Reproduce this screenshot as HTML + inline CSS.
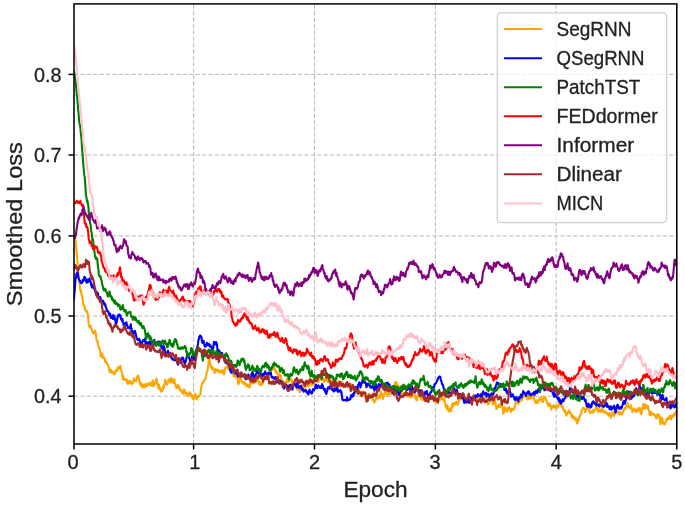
<!DOCTYPE html><html><head><meta charset="utf-8"><style>html,body{margin:0;padding:0;background:#fff;width:685px;height:510px;overflow:hidden}svg{display:block;will-change:transform}text{font-family:"Liberation Sans",sans-serif;fill:#222;stroke:#222;stroke-width:0.3px}</style></head><body>
<svg width="685" height="510" viewBox="0 0 685 510">
<defs><clipPath id="ax"><rect x="74.0" y="3.9" width="602.8" height="440.1"/></clipPath></defs>
<g stroke="#b8b8b8" stroke-width="1" stroke-dasharray="4.2 2.2" fill="none"><line x1="74.0" y1="444.0" x2="74.0" y2="3.9"/><line x1="193.6" y1="444.0" x2="193.6" y2="3.9"/><line x1="314.5" y1="444.0" x2="314.5" y2="3.9"/><line x1="435.4" y1="444.0" x2="435.4" y2="3.9"/><line x1="556.2" y1="444.0" x2="556.2" y2="3.9"/><line x1="676.8" y1="444.0" x2="676.8" y2="3.9"/><line x1="74.0" y1="396.2" x2="676.8" y2="396.2"/><line x1="74.0" y1="316.0" x2="676.8" y2="316.0"/><line x1="74.0" y1="235.9" x2="676.8" y2="235.9"/><line x1="74.0" y1="155.0" x2="676.8" y2="155.0"/><line x1="74.0" y1="74.4" x2="676.8" y2="74.4"/></g>
<g clip-path="url(#ax)" fill="none" stroke-width="2.10" stroke-linejoin="round" stroke-linecap="butt">
<polyline stroke="#FFA500" points="74.0,237.3 74.4,237.6 74.8,237.7 75.2,238.5 75.6,241.1 76.0,245.5 76.4,251.0 76.8,253.1 77.2,259.3 77.6,263.2 78.0,266.5 78.4,272.3 78.8,277.1 79.2,280.2 79.6,284.0 80.0,288.2 80.4,290.6 80.8,289.9 81.2,292.8 81.6,294.9 82.0,295.8 82.4,298.0 82.8,300.1 83.2,304.9 83.6,304.9 84.0,305.9 84.4,305.9 84.8,307.4 85.2,310.0 85.6,310.4 86.0,310.3 86.4,312.0 86.8,311.0 87.2,312.3 87.6,313.3 88.0,316.4 88.4,320.3 88.8,324.7 89.2,326.0 89.6,327.1 90.0,327.2 90.4,325.6 90.8,328.0 91.2,328.0 91.6,328.8 92.0,330.1 92.4,331.9 92.8,332.8 93.2,333.6 93.6,333.6 94.0,333.0 94.4,331.7 94.8,330.6 95.2,331.6 95.6,332.6 96.0,334.8 96.4,338.9 96.8,340.7 97.2,341.1 97.6,341.1 98.0,344.6 98.4,346.5 98.8,346.7 99.2,347.8 99.6,348.6 100.0,351.2 100.4,352.6 100.8,356.6 101.2,356.8 101.6,356.4 102.0,353.4 102.4,354.0 102.8,357.8 103.2,358.0 103.6,357.4 104.0,358.4 104.4,357.7 104.8,359.5 105.2,362.0 105.6,361.2 106.0,362.2 106.4,361.8 106.8,364.0 107.2,363.3 107.6,364.3 108.0,364.9 108.4,365.9 108.8,368.1 109.2,368.8 109.6,371.4 110.0,372.3 110.4,371.2 110.8,370.3 111.2,369.9 111.6,371.5 112.0,372.7 112.4,372.8 112.8,371.9 113.2,373.0 113.6,372.4 114.0,374.4 114.4,373.8 114.8,374.0 115.2,372.5 115.6,370.8 116.0,370.3 116.4,369.8 116.8,371.0 117.2,370.1 117.6,367.8 118.0,367.8 118.4,368.3 118.8,366.9 119.2,368.8 119.6,368.1 120.0,366.4 120.4,365.8 120.8,369.3 121.2,370.1 121.6,372.1 122.0,373.1 122.4,374.6 122.8,379.2 123.2,375.6 123.6,378.3 124.0,380.0 124.4,378.9 124.8,379.9 125.2,380.0 125.6,379.9 126.0,380.1 126.4,379.3 126.8,379.6 127.2,383.1 127.6,381.1 128.0,384.0 128.4,382.3 128.8,381.1 129.2,382.9 129.6,380.9 130.0,381.7 130.4,381.5 130.8,383.5 131.2,383.2 131.6,384.4 132.0,382.3 132.4,383.0 132.8,383.1 133.2,382.2 133.6,380.8 134.0,378.4 134.4,379.9 134.8,380.5 135.2,380.1 135.6,380.9 136.0,381.3 136.4,379.6 136.8,378.9 137.2,376.8 137.6,376.0 138.0,375.5 138.4,376.5 138.8,377.1 139.2,381.3 139.6,381.2 140.0,384.2 140.4,383.6 140.8,384.7 141.2,386.3 141.6,383.3 142.0,384.3 142.4,386.2 142.8,387.6 143.2,385.8 143.6,386.4 144.0,384.6 144.4,385.8 144.8,387.4 145.2,385.8 145.6,385.0 146.0,383.9 146.4,386.0 146.8,385.1 147.2,386.1 147.6,385.5 148.0,384.1 148.4,384.9 148.8,383.1 149.2,384.5 149.6,383.4 150.0,384.2 150.4,385.2 150.8,385.7 151.2,385.6 151.6,382.4 152.0,383.3 152.4,382.0 152.8,380.2 153.2,386.1 153.6,384.4 154.0,385.7 154.4,383.5 154.8,383.0 155.2,383.7 155.6,381.1 156.0,381.2 156.4,378.6 156.8,379.5 157.2,381.9 157.6,384.9 158.0,384.7 158.4,387.9 158.8,384.6 159.2,385.2 159.6,389.1 160.0,387.2 160.4,389.2 160.8,391.7 161.2,389.6 161.6,390.7 162.0,391.0 162.4,391.0 162.8,389.2 163.2,386.4 163.6,388.2 164.0,384.8 164.4,384.6 164.8,384.0 165.2,380.0 165.6,382.1 166.0,383.3 166.4,383.0 166.8,384.9 167.2,384.2 167.6,382.6 168.0,381.6 168.4,380.0 168.8,379.3 169.2,380.1 169.6,379.4 170.0,379.3 170.4,382.4 170.8,379.5 171.2,378.2 171.6,378.5 172.0,379.0 172.4,381.0 172.8,382.7 173.2,380.8 173.6,382.3 174.0,382.9 174.4,379.2 174.8,383.5 175.2,383.9 175.6,384.8 176.0,387.5 176.4,386.9 176.8,386.8 177.2,388.1 177.6,386.3 178.0,385.0 178.4,385.7 178.8,386.5 179.2,386.7 179.6,389.5 180.0,390.4 180.4,390.1 180.8,389.7 181.2,390.1 181.6,391.6 182.0,392.0 182.4,393.2 182.8,393.8 183.2,393.1 183.6,391.5 184.0,389.6 184.4,389.5 184.8,391.7 185.2,392.9 185.6,394.2 186.0,392.6 186.4,393.4 186.8,393.2 187.2,393.3 187.6,394.8 188.0,395.9 188.4,395.3 188.8,393.6 189.2,394.3 189.6,392.3 190.0,394.4 190.4,395.1 190.8,393.5 191.2,395.2 191.6,395.9 192.0,395.0 192.4,398.4 192.8,397.5 193.2,396.6 193.6,399.7 194.0,397.3 194.4,397.0 194.8,396.0 195.2,393.9 195.6,396.2 196.0,397.6 196.4,398.6 196.8,399.5 197.2,397.1 197.6,396.1 198.0,396.7 198.4,396.3 198.8,397.0 199.2,396.1 199.6,395.7 200.0,394.5 200.4,394.6 200.8,389.8 201.2,387.5 201.6,385.7 202.0,384.1 202.4,382.9 202.8,382.2 203.2,382.4 203.6,382.5 204.0,381.0 204.4,380.3 204.8,379.6 205.2,378.9 205.6,377.5 206.0,376.5 206.4,374.5 206.8,372.3 207.2,371.8 207.6,369.7 208.0,366.8 208.4,364.2 208.8,359.0 209.2,357.1 209.6,359.8 210.0,362.5 210.4,364.3 210.8,366.5 211.2,367.7 211.6,366.5 212.0,368.9 212.4,368.4 212.8,368.0 213.2,368.0 213.6,369.8 214.0,370.2 214.4,371.4 214.8,372.9 215.2,371.1 215.6,369.0 216.0,370.2 216.4,370.5 216.8,370.4 217.2,370.7 217.6,369.8 218.0,371.7 218.4,370.1 218.8,370.4 219.2,371.8 219.6,371.4 220.0,372.7 220.4,371.8 220.8,371.3 221.2,370.6 221.6,370.7 222.0,371.9 222.4,372.5 222.8,370.1 223.2,371.7 223.6,373.3 224.0,374.6 224.4,372.9 224.8,369.5 225.2,368.5 225.6,367.5 226.0,367.4 226.4,367.5 226.8,367.5 227.2,365.8 227.6,367.6 228.0,368.5 228.4,369.2 228.8,369.5 229.2,369.0 229.6,368.7 230.0,368.9 230.4,370.6 230.8,371.7 231.2,372.3 231.6,372.5 232.0,371.9 232.4,371.3 232.8,372.5 233.2,373.8 233.6,376.3 234.0,374.8 234.4,375.7 234.8,375.3 235.2,376.1 235.6,377.5 236.0,375.8 236.4,374.9 236.8,375.3 237.2,376.6 237.6,378.5 238.0,383.0 238.4,384.3 238.8,383.0 239.2,381.8 239.6,377.8 240.0,377.6 240.4,377.0 240.8,379.7 241.2,379.7 241.6,381.8 242.0,381.3 242.4,381.6 242.8,382.1 243.2,383.5 243.6,383.8 244.0,382.9 244.4,383.4 244.8,382.4 245.2,382.8 245.6,385.2 246.0,383.7 246.4,384.0 246.8,386.6 247.2,386.2 247.6,384.7 248.0,385.1 248.4,386.3 248.8,386.7 249.2,386.8 249.6,387.6 250.0,383.9 250.4,382.0 250.8,382.1 251.2,380.2 251.6,381.8 252.0,383.5 252.4,381.0 252.8,382.3 253.2,382.7 253.6,382.9 254.0,382.2 254.4,382.5 254.8,381.4 255.2,382.6 255.6,381.4 256.0,380.5 256.4,381.3 256.8,379.6 257.2,380.9 257.6,380.6 258.0,379.0 258.4,381.0 258.8,382.6 259.2,384.1 259.6,384.6 260.0,382.2 260.4,383.2 260.8,385.1 261.2,385.1 261.6,384.5 262.0,384.0 262.4,381.9 262.8,383.8 263.2,380.9 263.6,379.7 264.0,377.6 264.4,375.0 264.8,374.4 265.2,374.2 265.6,376.1 266.0,376.8 266.4,374.3 266.8,374.3 267.2,375.4 267.6,376.8 268.0,378.5 268.4,378.0 268.8,378.4 269.2,377.3 269.6,375.2 270.0,373.7 270.4,371.6 270.8,372.4 271.2,369.7 271.6,370.0 272.0,369.8 272.4,367.4 272.8,367.8 273.2,367.2 273.6,366.4 274.0,368.1 274.4,369.8 274.8,369.0 275.2,370.8 275.6,370.9 276.0,372.7 276.4,371.0 276.8,372.2 277.2,373.0 277.6,374.5 278.0,375.5 278.4,375.6 278.8,376.2 279.2,374.6 279.6,375.4 280.0,374.5 280.4,376.0 280.8,375.4 281.2,378.0 281.6,381.1 282.0,380.1 282.4,380.8 282.8,380.6 283.2,382.1 283.6,382.1 284.0,382.9 284.4,382.5 284.8,382.5 285.2,382.3 285.6,382.5 286.0,383.5 286.4,381.6 286.8,382.2 287.2,379.1 287.6,380.6 288.0,381.7 288.4,382.1 288.8,378.9 289.2,381.2 289.6,380.2 290.0,380.1 290.4,379.9 290.8,380.4 291.2,379.6 291.6,379.2 292.0,381.8 292.4,381.4 292.8,384.7 293.2,385.9 293.6,384.7 294.0,384.3 294.4,384.4 294.8,384.4 295.2,383.9 295.6,385.8 296.0,385.1 296.4,388.7 296.8,388.4 297.2,388.5 297.6,389.8 298.0,388.1 298.4,389.6 298.8,390.1 299.2,387.7 299.6,392.3 300.0,391.5 300.4,390.7 300.8,389.7 301.2,387.8 301.6,384.8 302.0,387.1 302.4,388.3 302.8,387.9 303.2,389.3 303.6,388.2 304.0,388.8 304.4,387.4 304.8,386.5 305.2,385.9 305.6,387.1 306.0,386.3 306.4,385.0 306.8,382.9 307.2,383.4 307.6,384.1 308.0,385.9 308.4,386.6 308.8,384.1 309.2,381.3 309.6,379.4 310.0,378.4 310.4,379.7 310.8,384.1 311.2,382.8 311.6,385.1 312.0,385.5 312.4,383.1 312.8,384.9 313.2,382.9 313.6,381.8 314.0,381.8 314.4,380.8 314.8,379.8 315.2,378.9 315.6,378.2 316.0,378.8 316.4,380.0 316.8,377.6 317.2,380.8 317.6,380.2 318.0,380.5 318.4,382.3 318.8,380.5 319.2,379.2 319.6,376.3 320.0,377.1 320.4,376.9 320.8,378.2 321.2,379.9 321.6,379.9 322.0,377.0 322.4,378.2 322.8,377.8 323.2,378.9 323.6,380.4 324.0,382.0 324.4,380.4 324.8,381.3 325.2,380.0 325.6,377.4 326.0,377.6 326.4,379.1 326.8,380.6 327.2,380.7 327.6,380.7 328.0,381.6 328.4,382.4 328.8,382.0 329.2,380.9 329.6,381.7 330.0,382.1 330.4,381.5 330.8,384.1 331.2,383.9 331.6,382.7 332.0,381.8 332.4,379.2 332.8,380.5 333.2,380.3 333.6,383.2 334.0,385.9 334.4,387.1 334.8,389.1 335.2,387.1 335.6,386.1 336.0,386.8 336.4,384.4 336.8,384.9 337.2,383.4 337.6,383.4 338.0,381.7 338.4,381.2 338.8,381.7 339.2,382.7 339.6,384.5 340.0,384.8 340.4,386.6 340.8,384.1 341.2,385.8 341.6,384.6 342.0,382.2 342.4,384.2 342.8,385.1 343.2,384.9 343.6,384.4 344.0,385.2 344.4,385.4 344.8,384.5 345.2,385.1 345.6,384.6 346.0,384.0 346.4,383.1 346.8,385.8 347.2,385.7 347.6,385.5 348.0,386.9 348.4,385.2 348.8,384.0 349.2,385.9 349.6,385.3 350.0,384.8 350.4,385.0 350.8,384.1 351.2,385.2 351.6,385.7 352.0,388.1 352.4,389.3 352.8,389.6 353.2,388.7 353.6,388.8 354.0,389.3 354.4,389.9 354.8,391.8 355.2,393.1 355.6,391.6 356.0,392.5 356.4,391.2 356.8,391.9 357.2,389.3 357.6,389.7 358.0,388.4 358.4,388.7 358.8,389.4 359.2,390.4 359.6,393.8 360.0,394.3 360.4,395.5 360.8,393.9 361.2,394.0 361.6,391.7 362.0,392.2 362.4,391.9 362.8,391.5 363.2,395.3 363.6,394.6 364.0,394.2 364.4,394.3 364.8,394.3 365.2,397.6 365.6,396.9 366.0,397.6 366.4,401.8 366.8,399.8 367.2,398.1 367.6,397.2 368.0,394.8 368.4,395.2 368.8,393.7 369.2,393.7 369.6,394.2 370.0,394.9 370.4,396.8 370.8,398.1 371.2,396.0 371.6,396.1 372.0,396.8 372.4,397.3 372.8,400.1 373.2,399.9 373.6,400.6 374.0,400.1 374.4,402.5 374.8,400.9 375.2,400.8 375.6,400.2 376.0,398.5 376.4,396.1 376.8,394.2 377.2,396.5 377.6,398.6 378.0,397.8 378.4,395.9 378.8,397.9 379.2,395.8 379.6,396.3 380.0,397.7 380.4,395.0 380.8,391.5 381.2,393.9 381.6,393.3 382.0,393.7 382.4,397.2 382.8,396.7 383.2,398.9 383.6,396.8 384.0,394.1 384.4,394.7 384.8,393.3 385.2,391.3 385.6,393.2 386.0,393.0 386.4,391.1 386.8,393.9 387.2,395.9 387.6,394.6 388.0,394.6 388.4,394.6 388.8,393.6 389.2,394.5 389.6,393.4 390.0,393.2 390.4,393.5 390.8,391.7 391.2,394.3 391.6,392.1 392.0,392.3 392.4,389.6 392.8,388.9 393.2,389.6 393.6,388.7 394.0,387.1 394.4,385.6 394.8,385.1 395.2,382.3 395.6,382.3 396.0,382.7 396.4,382.2 396.8,383.5 397.2,387.6 397.6,388.7 398.0,385.3 398.4,386.2 398.8,386.3 399.2,389.0 399.6,390.8 400.0,393.9 400.4,394.1 400.8,390.8 401.2,392.3 401.6,390.7 402.0,393.4 402.4,394.0 402.8,393.3 403.2,392.7 403.6,392.9 404.0,392.9 404.4,393.4 404.8,394.1 405.2,394.8 405.6,393.8 406.0,393.9 406.4,394.8 406.8,394.8 407.2,395.0 407.6,396.4 408.0,395.2 408.4,395.3 408.8,395.8 409.2,394.1 409.6,397.2 410.0,397.4 410.4,397.4 410.8,395.6 411.2,392.9 411.6,397.1 412.0,394.1 412.4,393.6 412.8,393.8 413.2,391.6 413.6,393.7 414.0,394.8 414.4,393.9 414.8,395.7 415.2,395.6 415.6,398.5 416.0,399.7 416.4,399.5 416.8,400.1 417.2,397.8 417.6,396.0 418.0,395.3 418.4,396.2 418.8,394.9 419.2,395.0 419.6,395.7 420.0,395.2 420.4,397.6 420.8,397.6 421.2,398.1 421.6,399.3 422.0,397.2 422.4,398.4 422.8,400.5 423.2,397.9 423.6,400.3 424.0,399.9 424.4,398.6 424.8,398.4 425.2,397.5 425.6,397.4 426.0,400.8 426.4,399.8 426.8,398.6 427.2,397.9 427.6,399.8 428.0,397.8 428.4,397.2 428.8,399.1 429.2,399.5 429.6,399.7 430.0,399.1 430.4,396.8 430.8,397.0 431.2,395.7 431.6,396.1 432.0,398.8 432.4,397.7 432.8,399.2 433.2,396.1 433.6,397.8 434.0,398.3 434.4,400.0 434.8,401.1 435.2,401.9 435.6,400.2 436.0,401.3 436.4,400.5 436.8,401.7 437.2,403.0 437.6,400.3 438.0,402.9 438.4,399.4 438.8,401.0 439.2,398.6 439.6,400.3 440.0,399.8 440.4,399.0 440.8,399.2 441.2,396.8 441.6,398.0 442.0,397.8 442.4,397.6 442.8,399.2 443.2,398.8 443.6,400.5 444.0,399.1 444.4,398.7 444.8,402.0 445.2,402.8 445.6,405.8 446.0,407.1 446.4,405.2 446.8,408.7 447.2,408.3 447.6,405.5 448.0,409.2 448.4,410.8 448.8,411.3 449.2,411.2 449.6,411.3 450.0,410.1 450.4,408.0 450.8,411.4 451.2,409.2 451.6,408.4 452.0,405.8 452.4,403.6 452.8,406.1 453.2,406.2 453.6,403.4 454.0,403.1 454.4,403.1 454.8,403.9 455.2,404.2 455.6,402.3 456.0,402.7 456.4,402.5 456.8,401.8 457.2,404.2 457.6,404.7 458.0,403.6 458.4,401.6 458.8,400.6 459.2,399.8 459.6,398.6 460.0,397.1 460.4,397.6 460.8,399.3 461.2,398.1 461.6,399.3 462.0,399.3 462.4,398.5 462.8,398.2 463.2,398.9 463.6,399.6 464.0,399.7 464.4,400.3 464.8,400.0 465.2,399.2 465.6,402.2 466.0,400.5 466.4,401.0 466.8,401.5 467.2,400.7 467.6,401.5 468.0,401.8 468.4,402.4 468.8,402.7 469.2,401.9 469.6,402.8 470.0,401.1 470.4,401.5 470.8,402.0 471.2,403.3 471.6,403.7 472.0,402.4 472.4,400.0 472.8,400.8 473.2,399.9 473.6,400.9 474.0,398.3 474.4,399.4 474.8,397.3 475.2,396.9 475.6,398.0 476.0,396.7 476.4,397.8 476.8,398.5 477.2,400.9 477.6,401.0 478.0,399.9 478.4,398.3 478.8,397.0 479.2,398.1 479.6,398.6 480.0,400.1 480.4,398.2 480.8,395.1 481.2,393.2 481.6,392.9 482.0,395.2 482.4,395.1 482.8,398.1 483.2,397.3 483.6,400.2 484.0,400.9 484.4,402.4 484.8,402.7 485.2,399.3 485.6,401.4 486.0,398.9 486.4,400.4 486.8,401.2 487.2,401.9 487.6,401.2 488.0,404.4 488.4,404.4 488.8,402.6 489.2,402.7 489.6,399.5 490.0,400.8 490.4,400.8 490.8,399.7 491.2,401.3 491.6,400.0 492.0,399.1 492.4,399.9 492.8,403.7 493.2,404.6 493.6,403.6 494.0,403.2 494.4,398.0 494.8,400.1 495.2,401.8 495.6,403.9 496.0,406.2 496.4,409.0 496.8,408.6 497.2,407.2 497.6,407.1 498.0,406.2 498.4,405.7 498.8,406.7 499.2,404.2 499.6,404.7 500.0,407.2 500.4,405.4 500.8,406.0 501.2,405.5 501.6,401.6 502.0,405.9 502.4,405.8 502.8,408.9 503.2,413.6 503.6,411.0 504.0,412.0 504.4,411.6 504.8,407.2 505.2,408.9 505.6,409.4 506.0,408.8 506.4,410.5 506.8,408.5 507.2,411.7 507.6,410.6 508.0,408.1 508.4,409.2 508.8,407.9 509.2,407.0 509.6,409.2 510.0,408.8 510.4,410.5 510.8,412.2 511.2,410.1 511.6,408.9 512.0,409.2 512.4,408.9 512.8,410.2 513.2,409.2 513.6,408.9 514.0,409.3 514.4,407.1 514.8,406.3 515.2,406.5 515.6,402.8 516.0,401.9 516.4,402.0 516.8,400.1 517.2,402.1 517.6,402.7 518.0,403.5 518.4,403.7 518.8,402.5 519.2,402.4 519.6,402.2 520.0,398.8 520.4,399.6 520.8,398.6 521.2,398.9 521.6,398.8 522.0,400.4 522.4,398.0 522.8,397.8 523.2,397.4 523.6,394.5 524.0,396.5 524.4,396.4 524.8,395.3 525.2,394.7 525.6,394.5 526.0,394.7 526.4,396.0 526.8,397.0 527.2,398.3 527.6,399.6 528.0,395.8 528.4,397.5 528.8,397.2 529.2,398.6 529.6,396.8 530.0,396.5 530.4,398.8 530.8,397.1 531.2,396.2 531.6,398.0 532.0,397.5 532.4,397.0 532.8,396.6 533.2,397.5 533.6,396.5 534.0,398.3 534.4,400.0 534.8,401.1 535.2,401.8 535.6,402.8 536.0,401.7 536.4,400.3 536.8,402.3 537.2,401.9 537.6,403.2 538.0,400.6 538.4,401.1 538.8,399.5 539.2,400.5 539.6,399.9 540.0,399.1 540.4,397.5 540.8,397.1 541.2,398.6 541.6,398.9 542.0,400.9 542.4,401.6 542.8,400.9 543.2,402.0 543.6,397.6 544.0,398.5 544.4,396.6 544.8,397.4 545.2,398.2 545.6,398.1 546.0,399.1 546.4,401.0 546.8,401.0 547.2,403.5 547.6,403.1 548.0,405.3 548.4,404.3 548.8,406.1 549.2,403.7 549.6,403.6 550.0,405.4 550.4,406.7 550.8,405.7 551.2,409.6 551.6,407.9 552.0,407.8 552.4,406.7 552.8,407.3 553.2,407.2 553.6,405.2 554.0,407.4 554.4,406.1 554.8,406.0 555.2,406.1 555.6,407.1 556.0,408.1 556.4,405.7 556.8,408.0 557.2,407.8 557.6,407.2 558.0,405.6 558.4,406.5 558.8,401.9 559.2,401.7 559.6,400.8 560.0,402.7 560.4,402.1 560.8,405.6 561.2,405.7 561.6,406.6 562.0,407.1 562.4,405.8 562.8,406.8 563.2,408.7 563.6,410.0 564.0,410.9 564.4,409.9 564.8,409.9 565.2,412.9 565.6,412.7 566.0,413.9 566.4,415.8 566.8,413.5 567.2,413.8 567.6,412.6 568.0,411.9 568.4,412.1 568.8,410.9 569.2,410.4 569.6,413.1 570.0,412.3 570.4,412.9 570.8,412.9 571.2,415.1 571.6,417.0 572.0,415.3 572.4,417.7 572.8,416.1 573.2,416.2 573.6,417.7 574.0,416.9 574.4,419.0 574.8,419.7 575.2,419.0 575.6,418.1 576.0,418.9 576.4,420.9 576.8,422.7 577.2,423.4 577.6,422.5 578.0,418.8 578.4,420.1 578.8,420.0 579.2,417.5 579.6,416.9 580.0,415.8 580.4,414.2 580.8,414.1 581.2,413.9 581.6,410.4 582.0,409.8 582.4,409.3 582.8,408.8 583.2,407.5 583.6,408.7 584.0,408.2 584.4,409.0 584.8,409.8 585.2,412.3 585.6,410.4 586.0,410.7 586.4,407.5 586.8,405.3 587.2,405.2 587.6,404.9 588.0,406.6 588.4,408.3 588.8,409.7 589.2,410.3 589.6,411.5 590.0,413.0 590.4,412.9 590.8,411.7 591.2,412.5 591.6,411.5 592.0,412.3 592.4,411.8 592.8,412.7 593.2,410.1 593.6,411.4 594.0,411.6 594.4,410.7 594.8,410.2 595.2,409.6 595.6,408.5 596.0,407.3 596.4,409.5 596.8,407.9 597.2,408.5 597.6,407.6 598.0,410.2 598.4,412.2 598.8,409.6 599.2,409.6 599.6,409.4 600.0,410.8 600.4,411.1 600.8,411.9 601.2,409.8 601.6,411.5 602.0,410.3 602.4,409.1 602.8,411.1 603.2,411.8 603.6,411.1 604.0,412.0 604.4,412.1 604.8,410.9 605.2,411.7 605.6,412.8 606.0,412.5 606.4,413.3 606.8,412.8 607.2,412.9 607.6,414.0 608.0,413.7 608.4,415.5 608.8,415.6 609.2,414.4 609.6,413.2 610.0,414.9 610.4,414.1 610.8,417.6 611.2,416.6 611.6,414.2 612.0,415.1 612.4,412.1 612.8,412.0 613.2,414.3 613.6,415.5 614.0,416.0 614.4,415.2 614.8,413.4 615.2,410.4 615.6,409.6 616.0,411.3 616.4,410.5 616.8,410.7 617.2,411.9 617.6,413.2 618.0,412.3 618.4,413.2 618.8,412.8 619.2,411.9 619.6,414.5 620.0,412.9 620.4,413.4 620.8,412.4 621.2,413.9 621.6,413.7 622.0,414.6 622.4,412.9 622.8,411.8 623.2,411.0 623.6,409.9 624.0,408.8 624.4,410.0 624.8,408.5 625.2,408.5 625.6,407.1 626.0,408.4 626.4,405.4 626.8,404.6 627.2,403.8 627.6,403.1 628.0,404.9 628.4,406.8 628.8,407.1 629.2,407.5 629.6,407.6 630.0,407.9 630.4,407.3 630.8,405.0 631.2,409.0 631.6,407.2 632.0,408.4 632.4,412.3 632.8,410.0 633.2,410.5 633.6,410.2 634.0,409.7 634.4,408.7 634.8,410.8 635.2,410.1 635.6,409.9 636.0,411.2 636.4,411.9 636.8,410.7 637.2,411.3 637.6,410.1 638.0,408.3 638.4,409.6 638.8,410.7 639.2,408.6 639.6,408.5 640.0,407.8 640.4,409.2 640.8,413.1 641.2,414.2 641.6,413.7 642.0,410.5 642.4,409.1 642.8,406.9 643.2,404.1 643.6,404.5 644.0,405.1 644.4,406.5 644.8,408.6 645.2,407.7 645.6,404.3 646.0,405.3 646.4,405.5 646.8,406.2 647.2,406.6 647.6,408.4 648.0,406.1 648.4,408.4 648.8,410.4 649.2,411.1 649.6,415.0 650.0,413.9 650.4,415.0 650.8,415.2 651.2,412.0 651.6,414.4 652.0,413.2 652.4,414.1 652.8,413.8 653.2,414.3 653.6,413.9 654.0,414.4 654.4,415.5 654.8,415.1 655.2,415.3 655.6,415.3 656.0,418.2 656.4,417.3 656.8,418.0 657.2,415.2 657.6,414.2 658.0,416.4 658.4,415.5 658.8,414.7 659.2,415.7 659.6,417.0 660.0,420.9 660.4,424.2 660.8,422.7 661.2,421.5 661.6,417.6 662.0,419.9 662.4,418.5 662.8,422.3 663.2,423.6 663.6,423.4 664.0,424.4 664.4,423.0 664.8,424.3 665.2,422.8 665.6,422.3 666.0,421.5 666.4,419.9 666.8,420.3 667.2,418.3 667.6,418.1 668.0,417.7 668.4,419.0 668.8,419.0 669.2,417.2 669.6,416.0 670.0,416.5 670.4,415.6 670.8,418.0 671.2,419.4 671.6,416.8 672.0,416.8 672.4,415.3 672.8,416.2 673.2,415.6 673.6,416.6 674.0,414.9 674.4,413.5 674.8,415.0 675.2,412.7 675.6,412.6 676.0,413.5 676.4,410.0"/>
<polyline stroke="#0000FF" points="74.0,299.8 74.4,293.0 74.8,289.9 75.2,283.7 75.6,277.6 76.0,278.1 76.4,273.9 76.8,273.9 77.2,272.3 77.6,272.9 78.0,274.9 78.4,277.7 78.8,278.8 79.2,280.2 79.6,280.6 80.0,280.6 80.4,282.6 80.8,282.5 81.2,283.3 81.6,283.2 82.0,281.5 82.4,282.4 82.8,279.7 83.2,280.1 83.6,280.6 84.0,279.4 84.4,276.9 84.8,277.2 85.2,277.5 85.6,279.3 86.0,281.3 86.4,282.0 86.8,282.7 87.2,280.7 87.6,279.5 88.0,282.1 88.4,279.5 88.8,279.8 89.2,279.4 89.6,278.4 90.0,281.6 90.4,280.9 90.8,282.1 91.2,285.5 91.6,283.7 92.0,287.6 92.4,286.7 92.8,285.2 93.2,285.9 93.6,286.7 94.0,287.7 94.4,289.6 94.8,290.0 95.2,290.6 95.6,292.7 96.0,293.1 96.4,294.9 96.8,295.9 97.2,292.3 97.6,294.6 98.0,293.5 98.4,296.8 98.8,297.3 99.2,297.1 99.6,298.7 100.0,298.1 100.4,297.1 100.8,300.0 101.2,299.7 101.6,301.5 102.0,302.0 102.4,301.7 102.8,302.8 103.2,300.9 103.6,303.6 104.0,302.7 104.4,304.1 104.8,305.4 105.2,304.1 105.6,305.6 106.0,307.6 106.4,308.1 106.8,310.6 107.2,311.1 107.6,310.6 108.0,311.4 108.4,311.8 108.8,313.7 109.2,315.1 109.6,314.9 110.0,313.5 110.4,315.7 110.8,318.0 111.2,315.8 111.6,316.2 112.0,317.0 112.4,316.6 112.8,318.9 113.2,315.0 113.6,317.0 114.0,318.5 114.4,315.7 114.8,319.6 115.2,319.1 115.6,322.6 116.0,324.9 116.4,323.7 116.8,321.5 117.2,319.8 117.6,316.3 118.0,315.3 118.4,316.3 118.8,314.6 119.2,315.3 119.6,314.6 120.0,315.7 120.4,315.3 120.8,318.4 121.2,319.4 121.6,319.2 122.0,320.9 122.4,318.8 122.8,321.5 123.2,323.3 123.6,325.1 124.0,326.0 124.4,324.0 124.8,324.7 125.2,323.1 125.6,324.6 126.0,325.0 126.4,322.3 126.8,324.5 127.2,325.0 127.6,327.0 128.0,328.0 128.4,327.4 128.8,327.6 129.2,327.7 129.6,327.5 130.0,328.6 130.4,325.9 130.8,324.3 131.2,328.6 131.6,328.5 132.0,333.2 132.4,335.0 132.8,332.3 133.2,332.8 133.6,331.5 134.0,332.7 134.4,333.3 134.8,330.8 135.2,332.3 135.6,333.1 136.0,335.1 136.4,337.1 136.8,338.7 137.2,339.3 137.6,338.8 138.0,340.1 138.4,339.6 138.8,338.8 139.2,338.9 139.6,340.7 140.0,340.4 140.4,342.8 140.8,346.0 141.2,346.2 141.6,347.0 142.0,342.5 142.4,341.8 142.8,341.4 143.2,340.1 143.6,341.1 144.0,340.8 144.4,340.2 144.8,338.8 145.2,341.8 145.6,343.3 146.0,343.9 146.4,343.2 146.8,342.2 147.2,342.8 147.6,343.7 148.0,343.2 148.4,343.6 148.8,343.1 149.2,341.7 149.6,344.7 150.0,344.9 150.4,344.3 150.8,342.1 151.2,341.4 151.6,341.0 152.0,342.2 152.4,342.8 152.8,345.9 153.2,343.5 153.6,342.5 154.0,341.8 154.4,339.8 154.8,343.3 155.2,344.7 155.6,343.9 156.0,344.7 156.4,344.0 156.8,342.3 157.2,344.4 157.6,341.9 158.0,341.5 158.4,342.0 158.8,341.6 159.2,344.2 159.6,343.3 160.0,341.7 160.4,343.2 160.8,346.7 161.2,344.5 161.6,346.2 162.0,348.3 162.4,348.3 162.8,349.5 163.2,348.4 163.6,346.1 164.0,346.7 164.4,347.7 164.8,349.6 165.2,353.8 165.6,353.9 166.0,353.5 166.4,354.6 166.8,353.2 167.2,353.4 167.6,351.6 168.0,350.7 168.4,353.5 168.8,352.9 169.2,354.1 169.6,355.6 170.0,352.8 170.4,355.6 170.8,355.6 171.2,356.8 171.6,358.6 172.0,358.6 172.4,358.0 172.8,359.6 173.2,359.8 173.6,359.7 174.0,359.4 174.4,360.0 174.8,360.4 175.2,358.7 175.6,357.9 176.0,359.2 176.4,358.5 176.8,360.6 177.2,362.9 177.6,363.2 178.0,364.7 178.4,363.7 178.8,359.4 179.2,361.1 179.6,359.4 180.0,360.3 180.4,361.1 180.8,361.5 181.2,360.3 181.6,358.1 182.0,357.8 182.4,357.4 182.8,358.0 183.2,358.0 183.6,359.8 184.0,361.3 184.4,362.3 184.8,363.9 185.2,362.9 185.6,362.1 186.0,360.1 186.4,358.2 186.8,356.8 187.2,354.5 187.6,357.0 188.0,357.1 188.4,356.1 188.8,356.3 189.2,357.1 189.6,359.7 190.0,359.5 190.4,362.8 190.8,361.4 191.2,359.4 191.6,360.5 192.0,356.1 192.4,359.1 192.8,358.0 193.2,357.1 193.6,358.5 194.0,360.0 194.4,358.5 194.8,358.2 195.2,355.1 195.6,352.1 196.0,350.9 196.4,350.0 196.8,349.5 197.2,346.9 197.6,346.4 198.0,343.9 198.4,339.7 198.8,339.8 199.2,336.9 199.6,336.6 200.0,335.6 200.4,335.6 200.8,337.3 201.2,336.7 201.6,337.9 202.0,341.8 202.4,342.8 202.8,341.6 203.2,342.7 203.6,340.8 204.0,343.7 204.4,345.5 204.8,344.6 205.2,346.7 205.6,346.5 206.0,345.2 206.4,345.7 206.8,342.7 207.2,344.2 207.6,343.7 208.0,344.4 208.4,345.4 208.8,343.8 209.2,345.6 209.6,345.0 210.0,346.7 210.4,345.2 210.8,346.7 211.2,347.7 211.6,348.0 212.0,347.2 212.4,349.9 212.8,348.5 213.2,348.5 213.6,344.5 214.0,341.8 214.4,343.5 214.8,343.3 215.2,344.1 215.6,343.7 216.0,342.0 216.4,344.9 216.8,343.5 217.2,346.6 217.6,350.7 218.0,350.1 218.4,353.4 218.8,350.4 219.2,350.7 219.6,351.2 220.0,353.7 220.4,355.9 220.8,355.7 221.2,355.1 221.6,354.7 222.0,352.7 222.4,355.8 222.8,355.8 223.2,356.7 223.6,357.0 224.0,358.0 224.4,358.2 224.8,358.1 225.2,360.5 225.6,362.7 226.0,363.2 226.4,363.3 226.8,362.8 227.2,361.9 227.6,362.5 228.0,364.1 228.4,363.9 228.8,365.6 229.2,365.9 229.6,365.9 230.0,368.6 230.4,370.5 230.8,372.1 231.2,372.3 231.6,372.8 232.0,370.9 232.4,370.3 232.8,369.4 233.2,369.2 233.6,369.4 234.0,371.0 234.4,371.2 234.8,371.5 235.2,373.7 235.6,371.0 236.0,371.1 236.4,370.4 236.8,370.5 237.2,372.7 237.6,375.8 238.0,376.5 238.4,374.9 238.8,375.6 239.2,375.1 239.6,376.0 240.0,374.1 240.4,375.9 240.8,373.1 241.2,372.4 241.6,375.6 242.0,374.4 242.4,375.8 242.8,375.6 243.2,375.8 243.6,375.7 244.0,375.8 244.4,376.8 244.8,374.5 245.2,375.9 245.6,378.6 246.0,379.4 246.4,378.5 246.8,378.0 247.2,377.6 247.6,377.2 248.0,376.7 248.4,374.5 248.8,377.3 249.2,377.6 249.6,378.6 250.0,379.6 250.4,379.1 250.8,377.5 251.2,376.5 251.6,373.5 252.0,374.8 252.4,371.8 252.8,373.4 253.2,373.9 253.6,377.6 254.0,376.5 254.4,376.6 254.8,376.9 255.2,375.5 255.6,375.4 256.0,373.9 256.4,373.2 256.8,373.3 257.2,370.7 257.6,373.3 258.0,372.1 258.4,371.4 258.8,373.1 259.2,375.1 259.6,375.5 260.0,373.7 260.4,373.9 260.8,373.7 261.2,374.7 261.6,375.2 262.0,376.0 262.4,376.2 262.8,374.1 263.2,375.5 263.6,375.3 264.0,373.8 264.4,372.7 264.8,372.7 265.2,371.4 265.6,373.8 266.0,373.9 266.4,373.5 266.8,374.7 267.2,373.3 267.6,374.6 268.0,374.6 268.4,373.5 268.8,372.7 269.2,374.0 269.6,373.3 270.0,372.8 270.4,372.5 270.8,372.7 271.2,375.2 271.6,376.5 272.0,377.7 272.4,376.7 272.8,376.9 273.2,377.3 273.6,378.4 274.0,377.7 274.4,378.6 274.8,377.6 275.2,377.2 275.6,379.8 276.0,377.4 276.4,379.3 276.8,382.1 277.2,379.4 277.6,382.3 278.0,379.5 278.4,380.0 278.8,383.1 279.2,381.6 279.6,382.3 280.0,380.6 280.4,380.9 280.8,381.9 281.2,381.5 281.6,381.8 282.0,382.0 282.4,382.5 282.8,384.6 283.2,386.0 283.6,387.0 284.0,388.7 284.4,386.3 284.8,385.8 285.2,386.7 285.6,385.5 286.0,385.4 286.4,384.8 286.8,385.9 287.2,385.8 287.6,386.5 288.0,390.4 288.4,389.5 288.8,390.0 289.2,387.9 289.6,385.0 290.0,387.0 290.4,384.7 290.8,386.2 291.2,387.8 291.6,386.8 292.0,387.3 292.4,389.8 292.8,388.2 293.2,385.5 293.6,385.2 294.0,384.4 294.4,384.4 294.8,383.7 295.2,384.3 295.6,385.4 296.0,386.5 296.4,384.4 296.8,387.4 297.2,382.8 297.6,385.2 298.0,385.0 298.4,385.5 298.8,387.6 299.2,386.8 299.6,386.5 300.0,387.8 300.4,387.3 300.8,388.4 301.2,385.9 301.6,388.1 302.0,388.1 302.4,390.2 302.8,389.0 303.2,390.3 303.6,391.7 304.0,390.4 304.4,390.8 304.8,390.3 305.2,390.4 305.6,391.1 306.0,390.0 306.4,392.2 306.8,391.6 307.2,392.8 307.6,392.3 308.0,393.6 308.4,394.5 308.8,391.3 309.2,391.0 309.6,389.6 310.0,392.2 310.4,392.3 310.8,392.5 311.2,393.3 311.6,391.6 312.0,393.4 312.4,391.5 312.8,390.4 313.2,389.0 313.6,390.0 314.0,390.3 314.4,389.1 314.8,389.1 315.2,387.6 315.6,385.4 316.0,384.5 316.4,386.1 316.8,386.5 317.2,388.3 317.6,387.5 318.0,386.3 318.4,385.4 318.8,386.2 319.2,386.7 319.6,386.5 320.0,388.0 320.4,387.5 320.8,386.7 321.2,387.5 321.6,387.9 322.0,384.0 322.4,385.3 322.8,385.6 323.2,388.3 323.6,388.7 324.0,389.6 324.4,389.4 324.8,388.6 325.2,392.0 325.6,391.5 326.0,393.2 326.4,393.8 326.8,391.6 327.2,391.5 327.6,388.1 328.0,387.3 328.4,387.4 328.8,387.5 329.2,387.2 329.6,388.7 330.0,388.8 330.4,386.1 330.8,384.6 331.2,386.0 331.6,386.8 332.0,389.9 332.4,389.9 332.8,390.1 333.2,390.8 333.6,389.1 334.0,391.5 334.4,388.4 334.8,388.7 335.2,389.0 335.6,390.4 336.0,389.1 336.4,390.4 336.8,389.9 337.2,386.9 337.6,389.2 338.0,391.9 338.4,391.2 338.8,390.9 339.2,391.2 339.6,390.7 340.0,391.4 340.4,390.1 340.8,392.4 341.2,391.5 341.6,393.2 342.0,396.4 342.4,399.6 342.8,400.1 343.2,400.3 343.6,399.8 344.0,400.2 344.4,400.1 344.8,399.8 345.2,399.8 345.6,399.8 346.0,400.6 346.4,400.6 346.8,400.2 347.2,397.2 347.6,399.5 348.0,400.4 348.4,400.1 348.8,399.6 349.2,399.7 349.6,399.8 350.0,399.1 350.4,399.0 350.8,396.8 351.2,395.1 351.6,395.7 352.0,395.9 352.4,396.9 352.8,394.2 353.2,394.9 353.6,395.8 354.0,392.5 354.4,393.4 354.8,391.2 355.2,386.8 355.6,386.9 356.0,387.2 356.4,387.7 356.8,389.7 357.2,389.4 357.6,388.8 358.0,385.1 358.4,384.7 358.8,384.0 359.2,382.3 359.6,382.8 360.0,384.0 360.4,387.5 360.8,385.1 361.2,385.2 361.6,382.8 362.0,383.0 362.4,380.7 362.8,378.9 363.2,381.0 363.6,379.7 364.0,382.3 364.4,382.8 364.8,382.0 365.2,382.0 365.6,382.9 366.0,383.5 366.4,387.2 366.8,385.5 367.2,386.0 367.6,384.3 368.0,383.7 368.4,384.0 368.8,385.1 369.2,385.1 369.6,385.4 370.0,385.5 370.4,387.5 370.8,386.0 371.2,387.1 371.6,387.4 372.0,387.7 372.4,387.7 372.8,386.4 373.2,387.5 373.6,386.9 374.0,389.1 374.4,390.8 374.8,389.1 375.2,385.8 375.6,384.6 376.0,384.2 376.4,388.2 376.8,389.6 377.2,389.6 377.6,389.3 378.0,386.5 378.4,385.3 378.8,384.0 379.2,387.0 379.6,386.6 380.0,385.8 380.4,385.5 380.8,385.4 381.2,384.1 381.6,383.9 382.0,386.4 382.4,383.2 382.8,385.4 383.2,386.0 383.6,389.5 384.0,389.0 384.4,387.6 384.8,390.0 385.2,386.6 385.6,383.3 386.0,383.1 386.4,383.5 386.8,383.3 387.2,383.6 387.6,382.5 388.0,383.6 388.4,384.3 388.8,384.6 389.2,384.3 389.6,384.8 390.0,388.4 390.4,387.9 390.8,389.5 391.2,388.3 391.6,388.0 392.0,390.6 392.4,392.4 392.8,393.3 393.2,392.7 393.6,389.8 394.0,389.1 394.4,387.8 394.8,388.2 395.2,388.9 395.6,390.4 396.0,392.8 396.4,391.1 396.8,392.8 397.2,391.1 397.6,390.1 398.0,391.9 398.4,391.3 398.8,395.2 399.2,394.0 399.6,393.9 400.0,392.0 400.4,389.2 400.8,389.0 401.2,388.4 401.6,387.1 402.0,387.8 402.4,388.9 402.8,388.7 403.2,389.2 403.6,387.7 404.0,385.6 404.4,387.8 404.8,387.5 405.2,388.4 405.6,389.4 406.0,388.9 406.4,389.0 406.8,388.4 407.2,390.1 407.6,389.0 408.0,388.4 408.4,386.0 408.8,387.9 409.2,387.9 409.6,389.6 410.0,389.6 410.4,390.9 410.8,387.8 411.2,389.6 411.6,386.0 412.0,386.0 412.4,389.4 412.8,390.7 413.2,389.4 413.6,391.4 414.0,388.6 414.4,390.8 414.8,392.5 415.2,391.2 415.6,391.4 416.0,389.5 416.4,388.9 416.8,385.6 417.2,385.3 417.6,389.3 418.0,390.8 418.4,390.3 418.8,393.1 419.2,390.2 419.6,390.1 420.0,391.0 420.4,392.0 420.8,390.6 421.2,392.6 421.6,391.7 422.0,390.4 422.4,391.9 422.8,393.8 423.2,394.3 423.6,396.8 424.0,397.6 424.4,394.5 424.8,394.1 425.2,391.8 425.6,393.9 426.0,394.0 426.4,392.2 426.8,391.1 427.2,393.0 427.6,394.9 428.0,394.3 428.4,397.6 428.8,396.1 429.2,395.4 429.6,395.3 430.0,394.1 430.4,392.4 430.8,392.0 431.2,392.2 431.6,391.3 432.0,390.1 432.4,387.0 432.8,389.0 433.2,387.5 433.6,387.5 434.0,387.7 434.4,384.4 434.8,384.6 435.2,384.2 435.6,383.7 436.0,383.2 436.4,381.9 436.8,381.2 437.2,380.3 437.6,380.1 438.0,378.1 438.4,378.0 438.8,377.5 439.2,376.5 439.6,376.6 440.0,376.7 440.4,377.0 440.8,379.7 441.2,381.0 441.6,381.8 442.0,384.1 442.4,384.6 442.8,384.5 443.2,386.0 443.6,388.0 444.0,389.4 444.4,389.0 444.8,389.4 445.2,390.5 445.6,390.9 446.0,391.8 446.4,393.4 446.8,392.7 447.2,392.0 447.6,393.2 448.0,392.4 448.4,391.1 448.8,392.2 449.2,393.3 449.6,392.3 450.0,392.7 450.4,392.9 450.8,393.0 451.2,392.6 451.6,394.1 452.0,392.9 452.4,391.8 452.8,391.0 453.2,389.9 453.6,390.4 454.0,389.1 454.4,388.4 454.8,390.0 455.2,392.4 455.6,391.2 456.0,392.3 456.4,393.2 456.8,389.9 457.2,391.3 457.6,393.4 458.0,393.7 458.4,395.2 458.8,394.1 459.2,394.5 459.6,395.4 460.0,394.0 460.4,394.1 460.8,394.7 461.2,395.4 461.6,396.1 462.0,397.9 462.4,396.9 462.8,396.7 463.2,398.7 463.6,399.1 464.0,402.2 464.4,402.8 464.8,400.5 465.2,400.0 465.6,400.8 466.0,400.4 466.4,402.0 466.8,402.5 467.2,402.6 467.6,400.9 468.0,401.3 468.4,399.9 468.8,402.0 469.2,400.1 469.6,402.9 470.0,400.4 470.4,397.3 470.8,400.4 471.2,400.3 471.6,400.0 472.0,400.9 472.4,397.6 472.8,398.0 473.2,398.8 473.6,397.8 474.0,397.9 474.4,396.8 474.8,398.6 475.2,396.0 475.6,395.3 476.0,396.8 476.4,396.2 476.8,396.9 477.2,395.3 477.6,394.8 478.0,394.1 478.4,395.7 478.8,395.6 479.2,396.0 479.6,396.1 480.0,396.0 480.4,394.6 480.8,394.5 481.2,395.6 481.6,397.3 482.0,395.2 482.4,394.0 482.8,393.4 483.2,391.4 483.6,393.7 484.0,393.1 484.4,394.5 484.8,394.1 485.2,393.9 485.6,393.6 486.0,392.6 486.4,396.9 486.8,396.0 487.2,394.7 487.6,395.6 488.0,393.8 488.4,395.3 488.8,396.0 489.2,394.7 489.6,399.4 490.0,400.0 490.4,398.7 490.8,397.0 491.2,394.4 491.6,393.4 492.0,393.7 492.4,395.1 492.8,394.8 493.2,393.8 493.6,393.8 494.0,390.4 494.4,388.1 494.8,387.7 495.2,388.7 495.6,387.6 496.0,385.5 496.4,384.7 496.8,382.6 497.2,383.9 497.6,384.0 498.0,382.7 498.4,383.5 498.8,385.0 499.2,386.3 499.6,384.5 500.0,385.8 500.4,384.1 500.8,384.4 501.2,386.0 501.6,384.4 502.0,384.7 502.4,385.1 502.8,384.9 503.2,383.8 503.6,387.2 504.0,386.7 504.4,390.0 504.8,390.0 505.2,390.2 505.6,388.9 506.0,388.7 506.4,391.8 506.8,391.4 507.2,393.6 507.6,391.9 508.0,392.7 508.4,390.8 508.8,390.5 509.2,390.5 509.6,388.5 510.0,391.9 510.4,392.8 510.8,395.4 511.2,396.8 511.6,395.8 512.0,395.5 512.4,395.5 512.8,394.3 513.2,396.4 513.6,397.1 514.0,396.8 514.4,399.3 514.8,399.2 515.2,400.2 515.6,397.4 516.0,399.2 516.4,398.0 516.8,397.4 517.2,399.3 517.6,399.8 518.0,399.8 518.4,401.4 518.8,399.0 519.2,397.3 519.6,398.4 520.0,396.8 520.4,397.6 520.8,394.6 521.2,394.8 521.6,397.5 522.0,395.3 522.4,394.9 522.8,393.1 523.2,391.0 523.6,391.8 524.0,392.7 524.4,393.1 524.8,393.4 525.2,393.4 525.6,393.5 526.0,396.1 526.4,394.2 526.8,393.1 527.2,393.3 527.6,392.0 528.0,391.6 528.4,393.3 528.8,391.3 529.2,392.4 529.6,394.8 530.0,393.6 530.4,394.6 530.8,395.3 531.2,394.5 531.6,394.6 532.0,394.6 532.4,393.4 532.8,393.3 533.2,393.0 533.6,393.0 534.0,392.2 534.4,395.0 534.8,394.0 535.2,391.8 535.6,391.4 536.0,390.8 536.4,391.7 536.8,392.9 537.2,393.2 537.6,390.2 538.0,390.3 538.4,389.1 538.8,390.5 539.2,390.2 539.6,392.0 540.0,391.8 540.4,389.1 540.8,388.0 541.2,385.6 541.6,387.6 542.0,385.1 542.4,388.1 542.8,387.1 543.2,387.7 543.6,388.4 544.0,388.3 544.4,390.2 544.8,389.0 545.2,390.1 545.6,387.7 546.0,386.7 546.4,384.8 546.8,385.1 547.2,385.3 547.6,384.4 548.0,385.6 548.4,385.1 548.8,386.1 549.2,389.0 549.6,388.5 550.0,388.4 550.4,391.0 550.8,390.2 551.2,390.6 551.6,390.5 552.0,389.3 552.4,392.0 552.8,393.6 553.2,392.3 553.6,395.7 554.0,396.6 554.4,396.8 554.8,393.4 555.2,395.3 555.6,394.7 556.0,394.9 556.4,396.1 556.8,397.2 557.2,397.2 557.6,398.2 558.0,399.7 558.4,397.5 558.8,397.8 559.2,401.3 559.6,399.0 560.0,400.3 560.4,403.1 560.8,402.1 561.2,403.8 561.6,401.3 562.0,400.3 562.4,399.8 562.8,399.2 563.2,401.1 563.6,401.1 564.0,398.9 564.4,398.8 564.8,398.2 565.2,398.0 565.6,394.9 566.0,396.6 566.4,396.3 566.8,396.0 567.2,395.6 567.6,391.5 568.0,391.8 568.4,393.7 568.8,392.1 569.2,393.2 569.6,390.7 570.0,387.1 570.4,390.0 570.8,390.8 571.2,392.2 571.6,391.4 572.0,390.3 572.4,390.6 572.8,391.5 573.2,391.9 573.6,394.4 574.0,391.5 574.4,393.1 574.8,391.2 575.2,391.9 575.6,391.3 576.0,392.4 576.4,394.0 576.8,395.4 577.2,399.2 577.6,396.7 578.0,395.1 578.4,395.3 578.8,396.7 579.2,396.6 579.6,399.4 580.0,397.9 580.4,397.0 580.8,396.6 581.2,398.3 581.6,398.4 582.0,399.1 582.4,398.1 582.8,396.8 583.2,396.6 583.6,397.3 584.0,398.1 584.4,399.6 584.8,400.1 585.2,401.3 585.6,399.7 586.0,402.5 586.4,404.2 586.8,406.0 587.2,405.9 587.6,406.4 588.0,406.9 588.4,403.6 588.8,405.9 589.2,405.3 589.6,404.9 590.0,406.2 590.4,407.7 590.8,405.2 591.2,407.0 591.6,406.0 592.0,403.0 592.4,402.3 592.8,403.1 593.2,401.3 593.6,402.4 594.0,403.1 594.4,402.4 594.8,402.9 595.2,404.3 595.6,403.9 596.0,403.3 596.4,405.7 596.8,405.4 597.2,404.7 597.6,405.1 598.0,404.6 598.4,404.4 598.8,405.2 599.2,406.4 599.6,406.6 600.0,404.7 600.4,404.5 600.8,403.8 601.2,404.3 601.6,403.9 602.0,404.8 602.4,406.1 602.8,406.4 603.2,407.1 603.6,406.2 604.0,405.4 604.4,405.9 604.8,406.2 605.2,403.9 605.6,402.6 606.0,403.2 606.4,404.8 606.8,403.2 607.2,406.9 607.6,405.7 608.0,405.6 608.4,405.9 608.8,406.7 609.2,407.7 609.6,409.1 610.0,407.3 610.4,409.1 610.8,406.2 611.2,409.7 611.6,408.6 612.0,407.4 612.4,409.0 612.8,407.4 613.2,407.8 613.6,406.7 614.0,405.7 614.4,407.4 614.8,409.0 615.2,411.4 615.6,412.7 616.0,409.9 616.4,408.1 616.8,405.8 617.2,405.4 617.6,404.6 618.0,405.5 618.4,408.0 618.8,406.9 619.2,408.9 619.6,407.2 620.0,407.7 620.4,407.4 620.8,408.4 621.2,408.7 621.6,406.8 622.0,407.1 622.4,405.1 622.8,404.6 623.2,402.1 623.6,401.4 624.0,400.9 624.4,401.8 624.8,403.7 625.2,402.1 625.6,401.0 626.0,399.9 626.4,397.1 626.8,398.1 627.2,396.7 627.6,394.5 628.0,396.0 628.4,391.6 628.8,393.1 629.2,392.5 629.6,394.5 630.0,397.5 630.4,395.8 630.8,398.9 631.2,397.1 631.6,398.4 632.0,397.0 632.4,394.6 632.8,394.6 633.2,396.7 633.6,396.1 634.0,395.0 634.4,395.6 634.8,391.1 635.2,389.7 635.6,390.0 636.0,388.2 636.4,393.1 636.8,392.4 637.2,390.4 637.6,395.1 638.0,393.2 638.4,392.1 638.8,391.2 639.2,389.6 639.6,385.7 640.0,386.9 640.4,388.4 640.8,388.0 641.2,391.3 641.6,389.7 642.0,388.8 642.4,389.9 642.8,388.4 643.2,390.8 643.6,394.2 644.0,393.4 644.4,394.2 644.8,396.0 645.2,394.7 645.6,395.2 646.0,393.9 646.4,391.4 646.8,394.6 647.2,392.9 647.6,393.4 648.0,392.5 648.4,392.5 648.8,394.4 649.2,392.5 649.6,392.5 650.0,391.6 650.4,388.8 650.8,389.3 651.2,390.5 651.6,392.5 652.0,393.6 652.4,392.0 652.8,393.4 653.2,390.6 653.6,391.9 654.0,392.5 654.4,392.0 654.8,393.0 655.2,392.5 655.6,392.0 656.0,392.1 656.4,393.2 656.8,392.6 657.2,394.8 657.6,394.4 658.0,392.2 658.4,392.4 658.8,391.5 659.2,394.1 659.6,395.0 660.0,394.6 660.4,397.3 660.8,400.5 661.2,399.6 661.6,397.2 662.0,395.6 662.4,394.8 662.8,395.7 663.2,399.3 663.6,398.7 664.0,399.7 664.4,399.6 664.8,400.2 665.2,400.3 665.6,399.8 666.0,398.8 666.4,398.0 666.8,400.2 667.2,401.8 667.6,402.3 668.0,404.0 668.4,404.6 668.8,404.8 669.2,406.7 669.6,407.1 670.0,404.6 670.4,408.5 670.8,406.1 671.2,407.5 671.6,407.4 672.0,405.4 672.4,402.6 672.8,401.9 673.2,402.9 673.6,405.2 674.0,406.3 674.4,407.4 674.8,407.2 675.2,406.6 675.6,405.0 676.0,405.1 676.4,402.7"/>
<polyline stroke="#008000" points="74.0,70.8 74.4,73.6 74.8,76.4 75.2,79.0 75.6,82.2 76.0,85.5 76.4,90.1 76.8,95.6 77.2,97.4 77.6,102.1 78.0,107.4 78.4,111.7 78.8,116.4 79.2,121.3 79.6,124.1 80.0,125.0 80.4,127.6 80.8,133.2 81.2,136.0 81.6,140.3 82.0,147.8 82.4,152.7 82.8,157.4 83.2,163.3 83.6,167.5 84.0,172.2 84.4,175.9 84.8,177.8 85.2,183.9 85.6,189.3 86.0,195.5 86.4,197.1 86.8,199.4 87.2,202.2 87.6,200.9 88.0,204.6 88.4,206.5 88.8,212.5 89.2,217.4 89.6,219.7 90.0,223.1 90.4,224.4 90.8,226.4 91.2,231.5 91.6,231.9 92.0,236.2 92.4,240.2 92.8,238.9 93.2,241.2 93.6,245.3 94.0,247.7 94.4,251.2 94.8,254.4 95.2,256.7 95.6,256.5 96.0,259.0 96.4,258.3 96.8,259.3 97.2,258.5 97.6,262.8 98.0,267.3 98.4,269.0 98.8,274.6 99.2,275.6 99.6,275.7 100.0,276.9 100.4,276.1 100.8,277.6 101.2,279.9 101.6,280.4 102.0,283.4 102.4,284.8 102.8,286.3 103.2,288.4 103.6,290.0 104.0,290.4 104.4,289.5 104.8,288.6 105.2,289.9 105.6,289.4 106.0,291.4 106.4,291.9 106.8,292.2 107.2,293.9 107.6,296.0 108.0,295.1 108.4,296.5 108.8,293.6 109.2,293.2 109.6,291.5 110.0,294.1 110.4,296.1 110.8,295.7 111.2,297.6 111.6,296.6 112.0,299.6 112.4,298.0 112.8,298.9 113.2,300.7 113.6,300.2 114.0,302.3 114.4,302.8 114.8,300.4 115.2,302.4 115.6,304.1 116.0,303.4 116.4,302.6 116.8,304.3 117.2,303.7 117.6,304.9 118.0,306.3 118.4,304.8 118.8,304.4 119.2,305.9 119.6,305.1 120.0,306.8 120.4,309.6 120.8,307.2 121.2,309.1 121.6,307.3 122.0,308.4 122.4,309.2 122.8,305.0 123.2,307.7 123.6,308.9 124.0,309.9 124.4,311.5 124.8,310.1 125.2,310.5 125.6,310.0 126.0,311.5 126.4,313.5 126.8,315.6 127.2,314.2 127.6,313.8 128.0,312.5 128.4,312.7 128.8,312.4 129.2,312.2 129.6,311.9 130.0,312.0 130.4,311.9 130.8,314.7 131.2,316.6 131.6,316.8 132.0,316.8 132.4,316.6 132.8,319.6 133.2,318.1 133.6,316.7 134.0,319.8 134.4,319.2 134.8,318.7 135.2,318.0 135.6,317.3 136.0,320.4 136.4,319.7 136.8,320.5 137.2,320.9 137.6,322.6 138.0,322.0 138.4,322.0 138.8,320.8 139.2,323.2 139.6,324.5 140.0,323.7 140.4,324.9 140.8,322.9 141.2,323.6 141.6,325.9 142.0,326.4 142.4,328.2 142.8,327.7 143.2,326.4 143.6,326.2 144.0,328.1 144.4,328.4 144.8,330.4 145.2,332.2 145.6,335.0 146.0,339.5 146.4,337.0 146.8,337.2 147.2,333.7 147.6,334.6 148.0,333.2 148.4,334.1 148.8,336.9 149.2,337.6 149.6,339.4 150.0,336.0 150.4,337.4 150.8,337.6 151.2,339.1 151.6,340.0 152.0,342.7 152.4,342.5 152.8,342.7 153.2,343.9 153.6,341.3 154.0,340.7 154.4,341.6 154.8,342.4 155.2,343.2 155.6,344.7 156.0,345.2 156.4,346.1 156.8,344.6 157.2,342.6 157.6,342.5 158.0,342.9 158.4,342.4 158.8,344.8 159.2,345.6 159.6,343.3 160.0,344.5 160.4,342.8 160.8,343.9 161.2,342.8 161.6,341.9 162.0,342.5 162.4,340.6 162.8,342.2 163.2,342.1 163.6,343.9 164.0,341.9 164.4,340.8 164.8,341.8 165.2,340.8 165.6,344.2 166.0,344.2 166.4,344.1 166.8,343.6 167.2,347.3 167.6,347.1 168.0,345.6 168.4,345.1 168.8,342.3 169.2,341.3 169.6,339.7 170.0,341.4 170.4,343.6 170.8,343.7 171.2,345.6 171.6,344.1 172.0,343.6 172.4,346.2 172.8,346.8 173.2,344.3 173.6,345.3 174.0,342.2 174.4,340.4 174.8,339.9 175.2,339.0 175.6,339.6 176.0,341.5 176.4,340.3 176.8,344.1 177.2,343.9 177.6,345.5 178.0,348.7 178.4,347.3 178.8,347.8 179.2,348.4 179.6,348.2 180.0,348.9 180.4,349.1 180.8,348.8 181.2,347.3 181.6,347.8 182.0,348.0 182.4,347.4 182.8,348.6 183.2,348.5 183.6,348.2 184.0,348.0 184.4,346.9 184.8,346.0 185.2,346.8 185.6,346.7 186.0,349.7 186.4,352.0 186.8,351.6 187.2,353.8 187.6,356.9 188.0,355.1 188.4,356.5 188.8,354.5 189.2,353.3 189.6,354.2 190.0,353.7 190.4,353.9 190.8,351.9 191.2,348.1 191.6,348.4 192.0,349.2 192.4,349.1 192.8,351.2 193.2,356.3 193.6,353.6 194.0,355.0 194.4,354.5 194.8,353.7 195.2,353.0 195.6,352.0 196.0,351.1 196.4,349.7 196.8,348.5 197.2,351.2 197.6,351.1 198.0,350.6 198.4,350.8 198.8,350.4 199.2,350.6 199.6,348.7 200.0,351.4 200.4,349.2 200.8,350.0 201.2,351.6 201.6,352.1 202.0,356.1 202.4,357.5 202.8,360.6 203.2,356.6 203.6,355.0 204.0,353.8 204.4,352.8 204.8,352.6 205.2,356.3 205.6,355.9 206.0,353.7 206.4,352.3 206.8,354.1 207.2,351.7 207.6,351.1 208.0,351.9 208.4,350.2 208.8,349.7 209.2,352.1 209.6,353.0 210.0,350.7 210.4,350.0 210.8,353.7 211.2,355.2 211.6,354.4 212.0,356.0 212.4,350.9 212.8,350.1 213.2,352.2 213.6,350.5 214.0,354.0 214.4,353.0 214.8,354.1 215.2,354.8 215.6,354.9 216.0,353.4 216.4,351.5 216.8,350.5 217.2,351.4 217.6,352.3 218.0,355.6 218.4,355.0 218.8,354.2 219.2,354.1 219.6,353.3 220.0,355.5 220.4,354.5 220.8,356.2 221.2,355.5 221.6,356.0 222.0,356.4 222.4,355.7 222.8,356.5 223.2,356.0 223.6,355.8 224.0,355.5 224.4,356.6 224.8,357.3 225.2,354.5 225.6,354.9 226.0,353.3 226.4,353.5 226.8,356.2 227.2,354.7 227.6,355.3 228.0,357.1 228.4,358.0 228.8,359.2 229.2,360.7 229.6,361.4 230.0,361.3 230.4,360.5 230.8,360.9 231.2,361.0 231.6,361.9 232.0,367.9 232.4,368.5 232.8,370.4 233.2,367.5 233.6,365.1 234.0,366.5 234.4,365.9 234.8,365.1 235.2,366.8 235.6,364.7 236.0,366.8 236.4,365.9 236.8,365.9 237.2,364.2 237.6,360.5 238.0,360.6 238.4,361.1 238.8,362.5 239.2,363.3 239.6,365.2 240.0,362.5 240.4,361.6 240.8,361.8 241.2,359.4 241.6,360.5 242.0,359.0 242.4,358.5 242.8,359.5 243.2,358.8 243.6,358.7 244.0,361.9 244.4,360.8 244.8,364.1 245.2,366.4 245.6,368.4 246.0,369.9 246.4,366.6 246.8,366.6 247.2,367.8 247.6,365.8 248.0,364.3 248.4,364.6 248.8,365.7 249.2,365.7 249.6,370.1 250.0,369.7 250.4,370.0 250.8,369.5 251.2,368.6 251.6,368.6 252.0,366.4 252.4,365.6 252.8,367.5 253.2,369.3 253.6,370.6 254.0,368.2 254.4,368.7 254.8,369.5 255.2,369.1 255.6,371.1 256.0,369.0 256.4,369.0 256.8,367.6 257.2,365.9 257.6,366.4 258.0,368.7 258.4,369.2 258.8,371.1 259.2,368.9 259.6,369.1 260.0,369.6 260.4,370.7 260.8,372.3 261.2,370.5 261.6,368.6 262.0,367.0 262.4,366.8 262.8,366.1 263.2,366.5 263.6,365.7 264.0,367.4 264.4,366.6 264.8,365.9 265.2,363.5 265.6,362.9 266.0,362.7 266.4,366.1 266.8,365.7 267.2,367.6 267.6,364.6 268.0,366.4 268.4,366.7 268.8,366.1 269.2,369.0 269.6,370.0 270.0,368.0 270.4,370.4 270.8,369.8 271.2,367.7 271.6,369.1 272.0,366.9 272.4,367.3 272.8,366.7 273.2,364.2 273.6,363.7 274.0,365.5 274.4,362.6 274.8,364.0 275.2,364.2 275.6,365.0 276.0,364.1 276.4,364.9 276.8,365.9 277.2,366.6 277.6,366.3 278.0,366.4 278.4,365.8 278.8,366.8 279.2,366.7 279.6,369.8 280.0,371.8 280.4,370.0 280.8,369.2 281.2,368.3 281.6,367.9 282.0,368.4 282.4,370.5 282.8,373.0 283.2,370.7 283.6,369.8 284.0,371.1 284.4,372.9 284.8,375.0 285.2,375.4 285.6,375.2 286.0,375.0 286.4,375.2 286.8,375.7 287.2,374.1 287.6,374.3 288.0,374.4 288.4,376.9 288.8,379.7 289.2,378.4 289.6,377.5 290.0,374.8 290.4,373.9 290.8,374.6 291.2,375.1 291.6,374.3 292.0,375.6 292.4,374.5 292.8,372.3 293.2,371.1 293.6,368.1 294.0,367.3 294.4,368.3 294.8,370.3 295.2,371.6 295.6,371.3 296.0,372.6 296.4,371.1 296.8,369.6 297.2,370.5 297.6,372.5 298.0,373.3 298.4,374.5 298.8,371.7 299.2,372.1 299.6,372.6 300.0,370.6 300.4,369.3 300.8,370.8 301.2,369.4 301.6,369.7 302.0,368.2 302.4,366.5 302.8,367.3 303.2,370.3 303.6,367.8 304.0,365.8 304.4,363.8 304.8,362.3 305.2,364.9 305.6,365.3 306.0,366.2 306.4,365.8 306.8,366.9 307.2,368.7 307.6,366.7 308.0,365.7 308.4,366.6 308.8,367.7 309.2,373.6 309.6,374.0 310.0,373.8 310.4,376.3 310.8,372.6 311.2,373.5 311.6,370.5 312.0,372.9 312.4,376.6 312.8,375.1 313.2,376.1 313.6,376.9 314.0,375.1 314.4,376.7 314.8,378.8 315.2,376.1 315.6,377.2 316.0,377.2 316.4,376.7 316.8,377.9 317.2,376.1 317.6,375.3 318.0,375.1 318.4,375.2 318.8,375.0 319.2,375.3 319.6,376.0 320.0,376.6 320.4,377.0 320.8,376.2 321.2,377.1 321.6,378.9 322.0,377.0 322.4,374.6 322.8,373.4 323.2,373.6 323.6,374.2 324.0,374.6 324.4,375.2 324.8,374.4 325.2,373.8 325.6,374.1 326.0,374.4 326.4,375.1 326.8,374.7 327.2,373.4 327.6,376.8 328.0,376.8 328.4,377.5 328.8,376.1 329.2,374.8 329.6,375.1 330.0,377.4 330.4,375.8 330.8,377.6 331.2,375.8 331.6,375.6 332.0,376.1 332.4,376.5 332.8,377.5 333.2,377.0 333.6,378.7 334.0,379.4 334.4,379.6 334.8,380.0 335.2,382.0 335.6,380.3 336.0,378.0 336.4,378.8 336.8,374.9 337.2,375.4 337.6,374.5 338.0,375.6 338.4,374.9 338.8,375.9 339.2,374.9 339.6,376.1 340.0,377.0 340.4,376.4 340.8,373.6 341.2,373.9 341.6,374.1 342.0,373.6 342.4,375.8 342.8,378.9 343.2,378.2 343.6,378.7 344.0,378.1 344.4,376.8 344.8,374.3 345.2,376.2 345.6,375.0 346.0,372.8 346.4,372.7 346.8,371.7 347.2,372.5 347.6,374.0 348.0,377.2 348.4,377.1 348.8,376.8 349.2,376.0 349.6,374.8 350.0,376.1 350.4,376.8 350.8,378.1 351.2,375.2 351.6,377.1 352.0,376.3 352.4,376.9 352.8,378.6 353.2,378.5 353.6,378.1 354.0,378.5 354.4,377.1 354.8,375.9 355.2,379.3 355.6,378.3 356.0,380.5 356.4,379.6 356.8,378.7 357.2,378.8 357.6,375.6 358.0,376.6 358.4,376.2 358.8,375.9 359.2,374.3 359.6,372.1 360.0,371.5 360.4,373.1 360.8,371.2 361.2,371.9 361.6,373.2 362.0,374.4 362.4,374.3 362.8,377.3 363.2,379.2 363.6,380.2 364.0,380.4 364.4,378.4 364.8,379.6 365.2,377.3 365.6,379.4 366.0,379.3 366.4,378.4 366.8,377.4 367.2,377.8 367.6,378.0 368.0,379.4 368.4,380.2 368.8,380.9 369.2,381.0 369.6,381.4 370.0,382.1 370.4,383.3 370.8,380.7 371.2,381.2 371.6,383.0 372.0,381.4 372.4,383.2 372.8,384.9 373.2,381.5 373.6,383.4 374.0,384.4 374.4,381.7 374.8,384.9 375.2,383.4 375.6,380.4 376.0,380.1 376.4,379.0 376.8,378.8 377.2,380.7 377.6,378.5 378.0,376.3 378.4,376.5 378.8,376.9 379.2,379.0 379.6,380.8 380.0,381.4 380.4,379.8 380.8,381.9 381.2,379.8 381.6,380.2 382.0,381.8 382.4,382.1 382.8,385.5 383.2,385.6 383.6,386.3 384.0,386.2 384.4,385.2 384.8,383.8 385.2,384.6 385.6,383.7 386.0,385.5 386.4,386.3 386.8,388.0 387.2,388.9 387.6,385.6 388.0,386.0 388.4,387.0 388.8,387.2 389.2,387.0 389.6,387.6 390.0,387.7 390.4,389.9 390.8,386.7 391.2,388.2 391.6,388.1 392.0,387.1 392.4,386.7 392.8,386.0 393.2,387.7 393.6,386.0 394.0,386.0 394.4,387.5 394.8,385.9 395.2,387.7 395.6,389.5 396.0,388.8 396.4,390.3 396.8,388.3 397.2,386.9 397.6,387.6 398.0,388.7 398.4,387.4 398.8,391.2 399.2,388.6 399.6,388.9 400.0,390.1 400.4,388.2 400.8,388.0 401.2,386.4 401.6,390.4 402.0,390.8 402.4,387.3 402.8,385.6 403.2,384.9 403.6,384.6 404.0,385.7 404.4,388.8 404.8,386.1 405.2,389.3 405.6,387.4 406.0,386.6 406.4,389.7 406.8,388.0 407.2,387.2 407.6,386.0 408.0,386.6 408.4,385.1 408.8,384.3 409.2,385.2 409.6,384.8 410.0,386.4 410.4,387.7 410.8,387.6 411.2,385.1 411.6,382.5 412.0,382.6 412.4,382.5 412.8,380.2 413.2,383.6 413.6,380.9 414.0,380.8 414.4,381.8 414.8,382.2 415.2,383.9 415.6,384.7 416.0,385.7 416.4,383.8 416.8,383.3 417.2,384.4 417.6,387.6 418.0,388.4 418.4,386.9 418.8,387.3 419.2,386.1 419.6,382.9 420.0,381.5 420.4,379.7 420.8,378.8 421.2,379.6 421.6,380.3 422.0,379.8 422.4,379.0 422.8,379.5 423.2,377.8 423.6,375.9 424.0,378.8 424.4,380.8 424.8,383.4 425.2,385.1 425.6,385.0 426.0,384.7 426.4,383.7 426.8,383.5 427.2,383.5 427.6,381.8 428.0,383.3 428.4,386.4 428.8,387.0 429.2,386.6 429.6,386.3 430.0,386.4 430.4,385.7 430.8,388.1 431.2,386.8 431.6,387.5 432.0,388.3 432.4,388.4 432.8,388.8 433.2,389.0 433.6,388.9 434.0,390.2 434.4,392.2 434.8,392.6 435.2,394.4 435.6,393.9 436.0,394.8 436.4,392.6 436.8,394.3 437.2,391.7 437.6,392.5 438.0,392.9 438.4,390.6 438.8,390.7 439.2,390.0 439.6,393.1 440.0,396.5 440.4,396.2 440.8,394.8 441.2,396.0 441.6,395.0 442.0,393.2 442.4,394.0 442.8,394.3 443.2,393.8 443.6,393.0 444.0,391.5 444.4,391.7 444.8,389.4 445.2,389.8 445.6,391.7 446.0,392.2 446.4,393.1 446.8,393.8 447.2,391.6 447.6,391.1 448.0,388.4 448.4,391.2 448.8,387.7 449.2,387.3 449.6,388.6 450.0,387.9 450.4,389.7 450.8,388.0 451.2,386.2 451.6,385.9 452.0,386.7 452.4,386.6 452.8,387.4 453.2,384.0 453.6,383.9 454.0,385.8 454.4,384.8 454.8,383.9 455.2,383.9 455.6,382.3 456.0,384.9 456.4,386.6 456.8,386.3 457.2,387.3 457.6,387.8 458.0,386.4 458.4,386.5 458.8,387.7 459.2,384.7 459.6,387.1 460.0,385.2 460.4,385.5 460.8,384.0 461.2,383.2 461.6,384.7 462.0,384.8 462.4,386.6 462.8,385.0 463.2,386.4 463.6,388.0 464.0,386.5 464.4,386.5 464.8,385.3 465.2,383.9 465.6,386.0 466.0,385.8 466.4,383.6 466.8,384.1 467.2,383.2 467.6,383.0 468.0,384.1 468.4,381.9 468.8,382.7 469.2,381.3 469.6,381.0 470.0,382.9 470.4,380.4 470.8,381.4 471.2,382.0 471.6,381.2 472.0,381.9 472.4,381.7 472.8,381.6 473.2,382.1 473.6,382.0 474.0,383.3 474.4,380.4 474.8,380.2 475.2,379.7 475.6,376.3 476.0,381.0 476.4,382.8 476.8,385.2 477.2,387.7 477.6,386.4 478.0,385.3 478.4,384.4 478.8,383.5 479.2,382.1 479.6,383.5 480.0,384.0 480.4,382.9 480.8,384.1 481.2,381.8 481.6,379.4 482.0,380.7 482.4,382.4 482.8,381.9 483.2,384.5 483.6,383.2 484.0,384.8 484.4,386.1 484.8,386.9 485.2,384.6 485.6,386.3 486.0,385.8 486.4,387.4 486.8,388.0 487.2,389.8 487.6,387.5 488.0,388.4 488.4,391.0 488.8,389.8 489.2,390.2 489.6,386.1 490.0,386.8 490.4,384.8 490.8,387.9 491.2,389.0 491.6,388.8 492.0,390.1 492.4,389.0 492.8,390.4 493.2,390.2 493.6,390.0 494.0,391.6 494.4,391.4 494.8,391.1 495.2,391.2 495.6,390.5 496.0,390.1 496.4,390.0 496.8,390.5 497.2,389.8 497.6,388.1 498.0,388.4 498.4,387.5 498.8,385.7 499.2,384.9 499.6,384.3 500.0,387.1 500.4,386.1 500.8,386.9 501.2,386.3 501.6,385.4 502.0,386.9 502.4,386.6 502.8,385.0 503.2,383.6 503.6,384.7 504.0,386.6 504.4,388.1 504.8,385.7 505.2,384.7 505.6,384.6 506.0,384.3 506.4,385.4 506.8,381.4 507.2,382.6 507.6,383.6 508.0,384.6 508.4,386.0 508.8,385.5 509.2,383.2 509.6,383.4 510.0,382.4 510.4,381.2 510.8,382.8 511.2,382.8 511.6,383.0 512.0,386.2 512.4,381.5 512.8,382.6 513.2,382.5 513.6,382.1 514.0,386.4 514.4,384.0 514.8,384.3 515.2,385.4 515.6,383.8 516.0,382.5 516.4,382.9 516.8,381.2 517.2,380.7 517.6,381.1 518.0,381.5 518.4,385.3 518.8,383.7 519.2,383.7 519.6,382.2 520.0,379.7 520.4,378.7 520.8,380.1 521.2,378.9 521.6,382.8 522.0,382.2 522.4,379.8 522.8,379.7 523.2,376.4 523.6,376.4 524.0,377.7 524.4,378.0 524.8,378.4 525.2,377.9 525.6,376.9 526.0,376.7 526.4,376.7 526.8,377.2 527.2,378.6 527.6,377.5 528.0,379.0 528.4,379.7 528.8,379.6 529.2,380.5 529.6,381.1 530.0,382.0 530.4,379.9 530.8,379.4 531.2,379.7 531.6,380.1 532.0,379.8 532.4,379.9 532.8,379.0 533.2,379.7 533.6,383.0 534.0,381.3 534.4,379.4 534.8,380.5 535.2,380.0 535.6,379.7 536.0,380.6 536.4,377.5 536.8,380.4 537.2,380.8 537.6,382.2 538.0,385.0 538.4,383.6 538.8,384.5 539.2,385.1 539.6,388.6 540.0,391.5 540.4,388.9 540.8,389.2 541.2,384.6 541.6,385.1 542.0,386.2 542.4,386.1 542.8,387.8 543.2,387.0 543.6,387.3 544.0,385.2 544.4,384.8 544.8,383.4 545.2,382.6 545.6,382.5 546.0,386.2 546.4,383.9 546.8,385.3 547.2,384.3 547.6,384.8 548.0,386.2 548.4,383.9 548.8,384.0 549.2,384.9 549.6,387.4 550.0,385.9 550.4,384.5 550.8,383.1 551.2,383.9 551.6,383.3 552.0,384.6 552.4,383.0 552.8,383.8 553.2,385.5 553.6,385.7 554.0,387.7 554.4,389.5 554.8,390.9 555.2,390.1 555.6,388.3 556.0,387.0 556.4,388.8 556.8,388.1 557.2,391.1 557.6,390.3 558.0,392.3 558.4,392.2 558.8,389.3 559.2,390.3 559.6,390.1 560.0,390.6 560.4,391.0 560.8,391.9 561.2,392.1 561.6,391.3 562.0,392.9 562.4,391.7 562.8,393.7 563.2,392.2 563.6,393.1 564.0,392.4 564.4,394.0 564.8,393.0 565.2,390.9 565.6,392.3 566.0,392.5 566.4,392.9 566.8,394.7 567.2,394.0 567.6,394.3 568.0,394.4 568.4,393.2 568.8,394.2 569.2,391.2 569.6,391.9 570.0,394.5 570.4,396.1 570.8,398.5 571.2,397.1 571.6,395.5 572.0,397.2 572.4,395.4 572.8,398.0 573.2,399.3 573.6,396.3 574.0,396.2 574.4,393.5 574.8,396.7 575.2,396.7 575.6,397.5 576.0,399.2 576.4,399.1 576.8,399.3 577.2,399.2 577.6,400.4 578.0,398.5 578.4,398.7 578.8,400.4 579.2,398.7 579.6,400.9 580.0,397.0 580.4,395.1 580.8,392.6 581.2,391.8 581.6,392.0 582.0,393.3 582.4,392.5 582.8,393.0 583.2,392.9 583.6,391.8 584.0,390.7 584.4,389.1 584.8,388.1 585.2,387.2 585.6,384.6 586.0,386.7 586.4,388.7 586.8,390.7 587.2,391.2 587.6,389.3 588.0,387.9 588.4,384.9 588.8,385.4 589.2,387.4 589.6,389.1 590.0,390.0 590.4,388.3 590.8,391.6 591.2,387.8 591.6,388.7 592.0,389.3 592.4,386.1 592.8,386.1 593.2,384.8 593.6,383.4 594.0,385.7 594.4,387.2 594.8,390.3 595.2,390.6 595.6,389.3 596.0,389.1 596.4,388.1 596.8,388.8 597.2,387.3 597.6,389.9 598.0,389.0 598.4,390.0 598.8,390.5 599.2,387.8 599.6,386.4 600.0,384.9 600.4,386.7 600.8,388.6 601.2,388.4 601.6,387.8 602.0,388.0 602.4,388.8 602.8,386.9 603.2,389.8 603.6,388.5 604.0,389.1 604.4,389.9 604.8,389.1 605.2,389.2 605.6,389.5 606.0,390.6 606.4,392.8 606.8,391.4 607.2,392.7 607.6,391.1 608.0,389.7 608.4,389.1 608.8,388.6 609.2,389.9 609.6,393.0 610.0,392.9 610.4,396.0 610.8,396.2 611.2,398.8 611.6,398.1 612.0,396.6 612.4,396.3 612.8,394.2 613.2,392.7 613.6,393.1 614.0,391.6 614.4,392.8 614.8,392.2 615.2,393.2 615.6,392.9 616.0,393.8 616.4,393.0 616.8,394.5 617.2,395.1 617.6,397.4 618.0,396.8 618.4,395.1 618.8,395.3 619.2,393.6 619.6,393.3 620.0,392.8 620.4,395.5 620.8,394.7 621.2,395.8 621.6,396.7 622.0,395.8 622.4,392.2 622.8,390.7 623.2,391.5 623.6,388.9 624.0,392.6 624.4,393.1 624.8,392.5 625.2,395.3 625.6,394.0 626.0,392.7 626.4,391.8 626.8,390.9 627.2,392.4 627.6,393.9 628.0,393.9 628.4,395.1 628.8,395.3 629.2,394.6 629.6,392.5 630.0,391.5 630.4,391.8 630.8,393.1 631.2,395.0 631.6,393.9 632.0,394.6 632.4,393.8 632.8,393.6 633.2,394.1 633.6,393.4 634.0,392.4 634.4,392.7 634.8,392.7 635.2,392.0 635.6,393.2 636.0,392.8 636.4,392.6 636.8,393.9 637.2,392.2 637.6,393.2 638.0,394.9 638.4,395.0 638.8,393.8 639.2,392.5 639.6,393.4 640.0,391.2 640.4,390.3 640.8,390.6 641.2,391.9 641.6,392.5 642.0,391.4 642.4,389.2 642.8,388.5 643.2,384.9 643.6,385.0 644.0,388.6 644.4,390.1 644.8,391.7 645.2,393.0 645.6,392.2 646.0,391.4 646.4,389.6 646.8,390.6 647.2,389.1 647.6,388.0 648.0,392.0 648.4,391.4 648.8,391.2 649.2,392.5 649.6,391.3 650.0,391.4 650.4,390.5 650.8,388.9 651.2,389.3 651.6,391.5 652.0,389.4 652.4,391.1 652.8,389.2 653.2,388.5 653.6,390.8 654.0,390.7 654.4,391.4 654.8,389.8 655.2,391.6 655.6,389.9 656.0,391.5 656.4,392.5 656.8,392.0 657.2,393.6 657.6,392.7 658.0,391.5 658.4,390.0 658.8,389.5 659.2,389.8 659.6,392.5 660.0,393.0 660.4,391.5 660.8,391.1 661.2,391.5 661.6,388.4 662.0,391.4 662.4,390.8 662.8,390.5 663.2,392.3 663.6,388.8 664.0,387.9 664.4,386.6 664.8,387.3 665.2,384.0 665.6,384.6 666.0,384.0 666.4,380.9 666.8,384.6 667.2,383.1 667.6,383.9 668.0,384.1 668.4,383.5 668.8,384.5 669.2,381.5 669.6,382.1 670.0,380.1 670.4,381.0 670.8,382.7 671.2,383.2 671.6,383.8 672.0,384.5 672.4,386.0 672.8,384.4 673.2,382.9 673.6,381.9 674.0,382.3 674.4,384.9 674.8,385.6 675.2,388.2 675.6,386.5 676.0,383.0 676.4,384.8"/>
<polyline stroke="#FF0000" points="74.4,203.8 74.8,202.7 75.2,203.4 75.6,202.4 76.0,201.9 76.4,201.4 76.8,200.7 77.2,201.9 77.6,202.3 78.0,202.8 78.4,203.0 78.8,201.9 79.2,203.3 79.6,203.0 80.0,201.3 80.4,200.8 80.8,202.6 81.2,203.8 81.6,204.7 82.0,205.9 82.4,206.0 82.8,204.8 83.2,205.4 83.6,211.2 84.0,214.9 84.4,219.2 84.8,223.4 85.2,222.8 85.6,224.8 86.0,224.0 86.4,227.1 86.8,227.0 87.2,226.9 87.6,228.0 88.0,231.0 88.4,234.7 88.8,238.9 89.2,240.4 89.6,243.0 90.0,242.5 90.4,241.5 90.8,241.6 91.2,242.6 91.6,245.8 92.0,244.8 92.4,246.5 92.8,248.3 93.2,248.7 93.6,249.8 94.0,249.7 94.4,246.3 94.8,247.3 95.2,246.3 95.6,246.2 96.0,247.8 96.4,247.3 96.8,246.9 97.2,248.6 97.6,249.1 98.0,252.6 98.4,251.7 98.8,253.2 99.2,252.4 99.6,252.3 100.0,252.2 100.4,253.5 100.8,255.6 101.2,255.9 101.6,261.5 102.0,261.8 102.4,263.2 102.8,265.1 103.2,266.8 103.6,267.6 104.0,267.5 104.4,268.9 104.8,268.5 105.2,271.3 105.6,270.6 106.0,272.3 106.4,272.0 106.8,272.2 107.2,272.3 107.6,272.2 108.0,274.6 108.4,276.1 108.8,275.4 109.2,276.1 109.6,275.5 110.0,276.8 110.4,276.9 110.8,276.0 111.2,275.8 111.6,276.9 112.0,278.5 112.4,277.5 112.8,276.5 113.2,276.7 113.6,275.3 114.0,277.0 114.4,277.1 114.8,278.0 115.2,278.4 115.6,278.8 116.0,278.5 116.4,277.2 116.8,275.4 117.2,274.6 117.6,273.2 118.0,274.9 118.4,275.2 118.8,272.7 119.2,272.1 119.6,268.9 120.0,267.2 120.4,271.2 120.8,272.5 121.2,277.3 121.6,276.5 122.0,277.6 122.4,280.9 122.8,279.3 123.2,280.8 123.6,280.2 124.0,281.2 124.4,282.4 124.8,284.0 125.2,284.5 125.6,284.0 126.0,283.7 126.4,282.3 126.8,284.0 127.2,285.3 127.6,284.6 128.0,286.6 128.4,287.7 128.8,290.2 129.2,290.9 129.6,290.5 130.0,290.9 130.4,289.4 130.8,289.8 131.2,291.5 131.6,291.3 132.0,292.6 132.4,293.6 132.8,294.9 133.2,296.7 133.6,298.5 134.0,300.3 134.4,300.5 134.8,298.8 135.2,299.1 135.6,299.9 136.0,299.2 136.4,299.0 136.8,299.1 137.2,296.6 137.6,299.2 138.0,297.7 138.4,298.6 138.8,297.4 139.2,296.5 139.6,297.3 140.0,295.5 140.4,297.7 140.8,296.0 141.2,296.8 141.6,297.9 142.0,295.2 142.4,298.1 142.8,299.5 143.2,303.0 143.6,304.8 144.0,303.4 144.4,302.9 144.8,301.9 145.2,300.9 145.6,298.3 146.0,296.8 146.4,298.7 146.8,296.3 147.2,295.6 147.6,295.0 148.0,292.7 148.4,291.0 148.8,289.8 149.2,287.7 149.6,285.2 150.0,285.0 150.4,285.0 150.8,286.3 151.2,290.0 151.6,290.8 152.0,290.0 152.4,292.2 152.8,293.8 153.2,293.9 153.6,293.5 154.0,294.9 154.4,295.2 154.8,296.3 155.2,298.4 155.6,300.0 156.0,299.0 156.4,295.3 156.8,295.5 157.2,295.5 157.6,298.1 158.0,299.4 158.4,297.3 158.8,297.5 159.2,295.4 159.6,292.4 160.0,293.5 160.4,294.7 160.8,292.8 161.2,296.3 161.6,294.2 162.0,293.5 162.4,293.5 162.8,291.3 163.2,290.8 163.6,289.7 164.0,292.1 164.4,295.2 164.8,295.3 165.2,294.7 165.6,291.7 166.0,290.5 166.4,292.2 166.8,295.0 167.2,294.6 167.6,294.7 168.0,291.8 168.4,289.4 168.8,288.2 169.2,286.7 169.6,288.7 170.0,290.4 170.4,290.6 170.8,291.4 171.2,292.0 171.6,292.2 172.0,291.6 172.4,293.2 172.8,291.6 173.2,290.5 173.6,293.6 174.0,293.0 174.4,296.2 174.8,296.4 175.2,297.0 175.6,296.0 176.0,295.6 176.4,297.2 176.8,297.1 177.2,298.8 177.6,299.7 178.0,299.9 178.4,300.4 178.8,300.8 179.2,301.6 179.6,301.0 180.0,300.9 180.4,300.0 180.8,300.0 181.2,298.9 181.6,298.4 182.0,299.4 182.4,296.8 182.8,296.5 183.2,297.6 183.6,299.1 184.0,300.4 184.4,301.6 184.8,300.0 185.2,301.9 185.6,302.1 186.0,302.5 186.4,302.9 186.8,301.6 187.2,302.1 187.6,301.1 188.0,302.1 188.4,303.8 188.8,302.4 189.2,300.7 189.6,302.0 190.0,301.0 190.4,301.8 190.8,306.1 191.2,303.8 191.6,306.5 192.0,305.7 192.4,304.8 192.8,306.1 193.2,303.9 193.6,303.8 194.0,303.8 194.4,299.7 194.8,296.4 195.2,294.8 195.6,293.2 196.0,292.1 196.4,294.3 196.8,292.2 197.2,291.1 197.6,291.7 198.0,289.6 198.4,288.1 198.8,289.3 199.2,288.1 199.6,288.4 200.0,286.2 200.4,286.4 200.8,287.3 201.2,290.8 201.6,290.9 202.0,291.9 202.4,293.7 202.8,292.2 203.2,292.8 203.6,292.3 204.0,290.9 204.4,289.5 204.8,289.8 205.2,290.9 205.6,290.6 206.0,291.5 206.4,291.0 206.8,291.3 207.2,291.9 207.6,291.5 208.0,291.4 208.4,292.1 208.8,291.4 209.2,292.6 209.6,294.8 210.0,293.5 210.4,294.0 210.8,292.9 211.2,291.9 211.6,293.8 212.0,294.6 212.4,294.8 212.8,294.7 213.2,294.9 213.6,293.8 214.0,291.3 214.4,291.5 214.8,290.4 215.2,289.6 215.6,290.8 216.0,289.7 216.4,291.0 216.8,291.3 217.2,291.5 217.6,289.8 218.0,289.0 218.4,289.9 218.8,289.3 219.2,288.9 219.6,290.9 220.0,292.1 220.4,290.3 220.8,292.8 221.2,293.0 221.6,292.0 222.0,296.4 222.4,295.9 222.8,297.1 223.2,295.5 223.6,297.6 224.0,298.2 224.4,298.4 224.8,298.4 225.2,299.3 225.6,299.4 226.0,299.2 226.4,299.0 226.8,299.8 227.2,299.4 227.6,299.2 228.0,300.4 228.4,303.2 228.8,303.2 229.2,305.0 229.6,304.3 230.0,306.6 230.4,307.8 230.8,310.3 231.2,311.5 231.6,315.6 232.0,318.1 232.4,318.9 232.8,321.7 233.2,322.2 233.6,322.0 234.0,323.5 234.4,324.1 234.8,324.1 235.2,325.8 235.6,325.7 236.0,323.9 236.4,323.2 236.8,322.9 237.2,324.8 237.6,323.3 238.0,320.1 238.4,320.1 238.8,320.6 239.2,321.1 239.6,321.3 240.0,321.8 240.4,320.7 240.8,319.1 241.2,319.9 241.6,318.1 242.0,318.3 242.4,318.2 242.8,318.3 243.2,315.2 243.6,316.0 244.0,315.8 244.4,313.2 244.8,314.5 245.2,314.6 245.6,314.9 246.0,316.2 246.4,317.5 246.8,318.0 247.2,319.9 247.6,317.0 248.0,318.6 248.4,319.6 248.8,320.0 249.2,322.0 249.6,321.9 250.0,323.5 250.4,323.0 250.8,322.9 251.2,323.0 251.6,323.9 252.0,324.9 252.4,327.0 252.8,328.1 253.2,329.1 253.6,327.7 254.0,328.3 254.4,327.1 254.8,327.4 255.2,325.5 255.6,327.1 256.0,328.4 256.4,329.2 256.8,330.5 257.2,330.2 257.6,328.6 258.0,328.6 258.4,327.9 258.8,328.9 259.2,330.2 259.6,332.6 260.0,332.4 260.4,331.5 260.8,331.9 261.2,332.3 261.6,329.9 262.0,330.0 262.4,329.1 262.8,329.2 263.2,330.0 263.6,331.5 264.0,332.3 264.4,330.0 264.8,331.7 265.2,333.6 265.6,334.0 266.0,333.6 266.4,332.8 266.8,330.9 267.2,332.6 267.6,333.9 268.0,337.3 268.4,336.6 268.8,336.4 269.2,337.9 269.6,336.3 270.0,334.2 270.4,336.7 270.8,335.6 271.2,335.3 271.6,335.1 272.0,334.1 272.4,333.9 272.8,333.8 273.2,335.2 273.6,334.0 274.0,332.8 274.4,331.9 274.8,333.8 275.2,335.0 275.6,337.0 276.0,335.7 276.4,334.4 276.8,333.6 277.2,332.7 277.6,333.7 278.0,335.9 278.4,338.1 278.8,338.2 279.2,338.6 279.6,338.9 280.0,339.2 280.4,341.1 280.8,339.6 281.2,340.5 281.6,340.4 282.0,337.8 282.4,337.9 282.8,341.8 283.2,340.9 283.6,341.3 284.0,343.0 284.4,342.2 284.8,340.6 285.2,339.4 285.6,338.2 286.0,340.5 286.4,339.8 286.8,342.7 287.2,345.0 287.6,345.2 288.0,347.3 288.4,349.7 288.8,349.3 289.2,350.4 289.6,347.5 290.0,348.9 290.4,347.8 290.8,350.2 291.2,351.5 291.6,350.8 292.0,350.9 292.4,352.0 292.8,353.0 293.2,350.4 293.6,350.1 294.0,349.2 294.4,351.0 294.8,350.4 295.2,350.1 295.6,350.9 296.0,349.5 296.4,351.7 296.8,353.4 297.2,350.7 297.6,354.9 298.0,351.9 298.4,353.1 298.8,353.6 299.2,353.3 299.6,352.6 300.0,350.9 300.4,352.8 300.8,352.8 301.2,356.3 301.6,354.8 302.0,353.4 302.4,353.4 302.8,352.5 303.2,353.0 303.6,355.3 304.0,356.0 304.4,355.7 304.8,354.2 305.2,353.1 305.6,354.8 306.0,353.1 306.4,352.5 306.8,348.7 307.2,350.8 307.6,351.1 308.0,350.9 308.4,352.1 308.8,353.2 309.2,353.7 309.6,353.5 310.0,354.5 310.4,355.5 310.8,353.5 311.2,352.7 311.6,356.5 312.0,355.4 312.4,357.9 312.8,357.4 313.2,356.7 313.6,356.4 314.0,357.0 314.4,359.5 314.8,358.9 315.2,360.9 315.6,361.2 316.0,364.3 316.4,364.8 316.8,364.6 317.2,362.9 317.6,361.0 318.0,364.1 318.4,362.3 318.8,362.5 319.2,363.3 319.6,360.1 320.0,360.8 320.4,359.0 320.8,359.3 321.2,359.1 321.6,359.8 322.0,360.5 322.4,360.0 322.8,361.5 323.2,361.1 323.6,358.9 324.0,357.9 324.4,356.4 324.8,356.0 325.2,358.3 325.6,358.2 326.0,360.7 326.4,360.4 326.8,360.2 327.2,359.2 327.6,359.3 328.0,359.3 328.4,361.7 328.8,362.5 329.2,363.5 329.6,364.0 330.0,364.4 330.4,365.4 330.8,367.8 331.2,367.5 331.6,367.6 332.0,365.7 332.4,365.6 332.8,362.5 333.2,364.9 333.6,364.7 334.0,365.8 334.4,366.1 334.8,364.5 335.2,365.0 335.6,360.6 336.0,359.5 336.4,360.0 336.8,360.0 337.2,360.9 337.6,361.7 338.0,360.5 338.4,359.8 338.8,358.8 339.2,359.4 339.6,358.4 340.0,358.9 340.4,358.3 340.8,358.9 341.2,359.2 341.6,359.1 342.0,357.3 342.4,356.2 342.8,355.3 343.2,355.6 343.6,354.7 344.0,352.9 344.4,351.6 344.8,348.2 345.2,348.5 345.6,348.7 346.0,348.8 346.4,347.4 346.8,345.5 347.2,341.9 347.6,340.4 348.0,341.1 348.4,339.2 348.8,339.3 349.2,340.0 349.6,337.7 350.0,335.9 350.4,335.6 350.8,333.3 351.2,333.7 351.6,335.4 352.0,335.1 352.4,338.8 352.8,341.4 353.2,345.3 353.6,346.2 354.0,348.7 354.4,346.1 354.8,347.0 355.2,344.9 355.6,342.4 356.0,344.9 356.4,346.6 356.8,348.4 357.2,349.4 357.6,350.8 358.0,351.0 358.4,349.6 358.8,352.7 359.2,353.5 359.6,352.8 360.0,356.4 360.4,355.9 360.8,357.4 361.2,358.7 361.6,358.8 362.0,359.2 362.4,360.4 362.8,362.1 363.2,362.9 363.6,365.9 364.0,365.9 364.4,365.5 364.8,366.8 365.2,366.2 365.6,366.1 366.0,365.1 366.4,364.6 366.8,366.0 367.2,365.5 367.6,367.7 368.0,365.5 368.4,365.2 368.8,365.0 369.2,362.8 369.6,362.8 370.0,362.4 370.4,364.2 370.8,364.7 371.2,364.7 371.6,364.7 372.0,361.6 372.4,361.4 372.8,361.4 373.2,361.4 373.6,364.5 374.0,361.1 374.4,360.6 374.8,360.6 375.2,360.5 375.6,360.6 376.0,360.8 376.4,358.7 376.8,358.1 377.2,358.7 377.6,357.1 378.0,356.6 378.4,355.7 378.8,355.9 379.2,356.3 379.6,356.6 380.0,356.3 380.4,357.2 380.8,359.6 381.2,359.7 381.6,360.4 382.0,361.5 382.4,362.9 382.8,359.0 383.2,360.5 383.6,361.7 384.0,361.9 384.4,363.2 384.8,362.4 385.2,361.5 385.6,357.4 386.0,357.0 386.4,357.4 386.8,356.4 387.2,356.2 387.6,352.8 388.0,352.9 388.4,349.2 388.8,346.5 389.2,348.0 389.6,346.4 390.0,347.4 390.4,349.0 390.8,351.5 391.2,353.7 391.6,356.7 392.0,356.5 392.4,358.9 392.8,357.5 393.2,359.3 393.6,359.0 394.0,361.0 394.4,360.3 394.8,361.0 395.2,357.7 395.6,358.3 396.0,359.6 396.4,360.3 396.8,361.2 397.2,362.9 397.6,361.8 398.0,361.2 398.4,360.4 398.8,358.0 399.2,359.2 399.6,360.2 400.0,358.5 400.4,359.4 400.8,358.2 401.2,357.1 401.6,358.4 402.0,357.1 402.4,359.1 402.8,358.2 403.2,356.9 403.6,357.6 404.0,360.9 404.4,362.0 404.8,363.1 405.2,364.6 405.6,363.7 406.0,363.1 406.4,365.8 406.8,365.4 407.2,365.2 407.6,367.0 408.0,366.1 408.4,366.0 408.8,366.9 409.2,365.4 409.6,365.3 410.0,365.9 410.4,364.5 410.8,364.4 411.2,362.7 411.6,361.7 412.0,360.0 412.4,359.7 412.8,360.0 413.2,358.0 413.6,358.7 414.0,354.7 414.4,355.2 414.8,353.8 415.2,352.0 415.6,354.5 416.0,354.6 416.4,355.2 416.8,355.2 417.2,354.8 417.6,354.2 418.0,353.4 418.4,354.3 418.8,352.9 419.2,352.4 419.6,351.2 420.0,348.8 420.4,350.8 420.8,349.9 421.2,350.3 421.6,351.6 422.0,351.7 422.4,350.4 422.8,350.0 423.2,349.0 423.6,348.1 424.0,346.1 424.4,347.1 424.8,351.3 425.2,350.9 425.6,353.4 426.0,353.3 426.4,352.8 426.8,350.4 427.2,350.9 427.6,351.7 428.0,348.5 428.4,350.0 428.8,350.9 429.2,351.1 429.6,353.1 430.0,355.7 430.4,354.4 430.8,353.3 431.2,353.3 431.6,352.0 432.0,353.3 432.4,355.4 432.8,357.5 433.2,358.3 433.6,359.3 434.0,360.3 434.4,358.9 434.8,360.8 435.2,361.9 435.6,361.2 436.0,361.6 436.4,357.5 436.8,353.7 437.2,352.9 437.6,350.5 438.0,352.0 438.4,350.9 438.8,350.5 439.2,351.8 439.6,352.7 440.0,351.6 440.4,352.8 440.8,352.2 441.2,352.0 441.6,353.1 442.0,351.5 442.4,353.3 442.8,353.2 443.2,351.5 443.6,350.1 444.0,350.6 444.4,349.9 444.8,348.7 445.2,349.8 445.6,349.2 446.0,348.8 446.4,348.7 446.8,345.5 447.2,343.2 447.6,343.9 448.0,342.3 448.4,342.0 448.8,342.8 449.2,346.5 449.6,346.1 450.0,348.7 450.4,347.7 450.8,348.4 451.2,351.0 451.6,350.7 452.0,350.2 452.4,351.0 452.8,349.0 453.2,351.0 453.6,353.7 454.0,353.4 454.4,354.6 454.8,353.4 455.2,353.1 455.6,354.2 456.0,352.9 456.4,353.7 456.8,355.7 457.2,358.0 457.6,359.1 458.0,359.4 458.4,357.7 458.8,358.7 459.2,356.5 459.6,355.7 460.0,356.5 460.4,355.3 460.8,358.1 461.2,357.6 461.6,357.7 462.0,358.7 462.4,356.7 462.8,357.2 463.2,356.9 463.6,355.9 464.0,357.3 464.4,356.5 464.8,354.6 465.2,355.9 465.6,356.1 466.0,359.4 466.4,357.7 466.8,357.6 467.2,357.4 467.6,356.8 468.0,357.6 468.4,357.8 468.8,357.9 469.2,358.3 469.6,358.0 470.0,361.8 470.4,362.5 470.8,362.3 471.2,362.7 471.6,360.1 472.0,359.8 472.4,360.9 472.8,362.9 473.2,364.7 473.6,367.2 474.0,363.4 474.4,363.6 474.8,362.6 475.2,363.8 475.6,363.4 476.0,365.3 476.4,367.9 476.8,366.2 477.2,366.7 477.6,367.5 478.0,366.2 478.4,368.0 478.8,364.9 479.2,367.2 479.6,368.6 480.0,369.1 480.4,368.5 480.8,365.4 481.2,366.0 481.6,366.9 482.0,366.0 482.4,368.3 482.8,366.3 483.2,365.5 483.6,365.4 484.0,369.6 484.4,371.6 484.8,374.2 485.2,373.7 485.6,372.3 486.0,368.7 486.4,370.6 486.8,369.1 487.2,372.2 487.6,375.1 488.0,373.5 488.4,373.8 488.8,372.4 489.2,371.1 489.6,373.3 490.0,374.6 490.4,372.3 490.8,374.6 491.2,375.0 491.6,376.3 492.0,375.4 492.4,375.7 492.8,376.9 493.2,378.6 493.6,380.8 494.0,379.0 494.4,376.8 494.8,375.6 495.2,375.7 495.6,377.6 496.0,378.7 496.4,378.9 496.8,377.4 497.2,376.9 497.6,377.1 498.0,374.2 498.4,371.6 498.8,370.1 499.2,369.6 499.6,369.1 500.0,370.1 500.4,370.8 500.8,369.8 501.2,370.4 501.6,367.4 502.0,368.0 502.4,364.4 502.8,361.7 503.2,361.3 503.6,361.6 504.0,360.8 504.4,359.7 504.8,357.0 505.2,355.8 505.6,353.2 506.0,354.2 506.4,352.6 506.8,353.3 507.2,352.4 507.6,354.6 508.0,351.8 508.4,350.7 508.8,350.1 509.2,351.7 509.6,348.3 510.0,348.6 510.4,347.7 510.8,347.1 511.2,346.9 511.6,346.9 512.0,345.7 512.4,344.3 512.8,345.7 513.2,344.7 513.6,345.6 514.0,346.5 514.4,349.8 514.8,348.7 515.2,349.7 515.6,350.2 516.0,349.7 516.4,352.0 516.8,350.3 517.2,351.8 517.6,351.3 518.0,351.6 518.4,352.4 518.8,351.2 519.2,350.4 519.6,348.1 520.0,349.4 520.4,349.2 520.8,351.7 521.2,352.3 521.6,356.3 522.0,358.4 522.4,358.1 522.8,359.3 523.2,360.9 523.6,364.2 524.0,366.1 524.4,366.3 524.8,367.4 525.2,368.2 525.6,364.8 526.0,365.8 526.4,366.1 526.8,364.8 527.2,366.5 527.6,367.5 528.0,368.1 528.4,368.1 528.8,365.6 529.2,366.4 529.6,365.5 530.0,366.0 530.4,368.9 530.8,366.7 531.2,368.2 531.6,369.0 532.0,368.5 532.4,367.0 532.8,370.6 533.2,370.8 533.6,369.4 534.0,371.7 534.4,371.1 534.8,372.3 535.2,370.6 535.6,370.9 536.0,371.0 536.4,370.9 536.8,370.9 537.2,369.9 537.6,367.4 538.0,366.6 538.4,364.1 538.8,360.5 539.2,361.1 539.6,361.3 540.0,361.5 540.4,364.4 540.8,364.2 541.2,363.8 541.6,362.3 542.0,360.3 542.4,360.2 542.8,358.3 543.2,357.8 543.6,358.3 544.0,356.2 544.4,358.4 544.8,360.2 545.2,360.5 545.6,360.9 546.0,360.9 546.4,359.7 546.8,356.8 547.2,360.9 547.6,361.8 548.0,361.7 548.4,364.4 548.8,363.5 549.2,364.1 549.6,363.3 550.0,366.2 550.4,366.6 550.8,364.9 551.2,367.5 551.6,364.0 552.0,364.0 552.4,365.4 552.8,365.8 553.2,369.1 553.6,369.9 554.0,366.0 554.4,368.9 554.8,366.5 555.2,363.5 555.6,365.4 556.0,364.4 556.4,367.6 556.8,371.2 557.2,373.2 557.6,375.0 558.0,372.2 558.4,371.9 558.8,372.5 559.2,372.4 559.6,370.5 560.0,372.5 560.4,371.4 560.8,374.5 561.2,375.8 561.6,376.0 562.0,375.2 562.4,372.4 562.8,372.0 563.2,373.7 563.6,373.0 564.0,374.7 564.4,375.5 564.8,375.7 565.2,378.4 565.6,378.5 566.0,378.2 566.4,377.2 566.8,378.1 567.2,381.1 567.6,380.0 568.0,379.8 568.4,379.5 568.8,378.0 569.2,379.0 569.6,382.8 570.0,381.8 570.4,381.2 570.8,378.7 571.2,379.0 571.6,377.7 572.0,380.8 572.4,381.5 572.8,378.7 573.2,381.7 573.6,379.6 574.0,378.7 574.4,376.3 574.8,375.9 575.2,379.5 575.6,379.2 576.0,378.5 576.4,378.2 576.8,376.2 577.2,374.4 577.6,374.0 578.0,374.2 578.4,373.5 578.8,370.7 579.2,370.0 579.6,367.4 580.0,368.7 580.4,370.2 580.8,368.3 581.2,369.3 581.6,368.0 582.0,366.5 582.4,367.5 582.8,364.2 583.2,362.5 583.6,362.3 584.0,360.8 584.4,362.3 584.8,365.3 585.2,366.4 585.6,367.8 586.0,366.6 586.4,368.6 586.8,366.3 587.2,366.9 587.6,368.0 588.0,369.1 588.4,367.8 588.8,366.4 589.2,366.0 589.6,366.4 590.0,368.9 590.4,369.1 590.8,369.2 591.2,368.5 591.6,373.1 592.0,369.3 592.4,369.9 592.8,371.3 593.2,370.2 593.6,373.8 594.0,376.3 594.4,376.5 594.8,377.6 595.2,376.8 595.6,378.1 596.0,377.1 596.4,377.1 596.8,377.1 597.2,378.1 597.6,378.9 598.0,377.7 598.4,376.5 598.8,375.7 599.2,378.9 599.6,378.6 600.0,380.3 600.4,383.7 600.8,380.3 601.2,382.8 601.6,382.6 602.0,380.0 602.4,382.1 602.8,383.4 603.2,382.8 603.6,383.4 604.0,380.6 604.4,381.2 604.8,385.6 605.2,385.6 605.6,386.1 606.0,384.7 606.4,381.6 606.8,381.5 607.2,380.0 607.6,379.2 608.0,379.8 608.4,380.6 608.8,381.2 609.2,381.8 609.6,381.5 610.0,380.7 610.4,379.9 610.8,382.7 611.2,383.2 611.6,383.1 612.0,383.9 612.4,382.0 612.8,381.6 613.2,383.7 613.6,381.1 614.0,381.4 614.4,380.2 614.8,380.3 615.2,383.7 615.6,384.6 616.0,387.2 616.4,388.0 616.8,386.2 617.2,387.4 617.6,384.1 618.0,382.6 618.4,383.8 618.8,383.0 619.2,384.6 619.6,385.1 620.0,387.4 620.4,386.1 620.8,386.1 621.2,384.5 621.6,385.5 622.0,384.8 622.4,386.3 622.8,385.6 623.2,387.5 623.6,386.3 624.0,386.5 624.4,388.6 624.8,386.2 625.2,386.2 625.6,384.6 626.0,380.8 626.4,383.1 626.8,383.2 627.2,383.7 627.6,384.2 628.0,383.8 628.4,384.0 628.8,383.9 629.2,384.8 629.6,383.2 630.0,382.8 630.4,383.8 630.8,381.4 631.2,381.6 631.6,382.7 632.0,381.4 632.4,381.8 632.8,380.3 633.2,382.8 633.6,382.6 634.0,381.4 634.4,384.9 634.8,385.0 635.2,381.2 635.6,382.8 636.0,380.2 636.4,379.3 636.8,381.4 637.2,382.6 637.6,381.7 638.0,382.3 638.4,384.5 638.8,381.6 639.2,382.0 639.6,383.7 640.0,384.0 640.4,381.1 640.8,382.0 641.2,380.1 641.6,379.4 642.0,380.4 642.4,378.4 642.8,377.8 643.2,375.7 643.6,375.5 644.0,374.9 644.4,377.3 644.8,377.0 645.2,377.6 645.6,376.7 646.0,374.8 646.4,373.8 646.8,372.6 647.2,375.5 647.6,376.7 648.0,376.9 648.4,377.5 648.8,375.6 649.2,374.6 649.6,377.1 650.0,377.9 650.4,378.6 650.8,379.5 651.2,381.6 651.6,380.8 652.0,383.6 652.4,380.7 652.8,381.8 653.2,381.9 653.6,380.1 654.0,381.4 654.4,379.6 654.8,379.9 655.2,380.9 655.6,379.3 656.0,380.1 656.4,378.8 656.8,377.6 657.2,379.1 657.6,376.5 658.0,379.3 658.4,379.8 658.8,380.7 659.2,380.6 659.6,381.0 660.0,379.4 660.4,377.6 660.8,376.5 661.2,375.6 661.6,375.3 662.0,375.0 662.4,372.8 662.8,372.8 663.2,371.0 663.6,371.5 664.0,370.8 664.4,366.9 664.8,367.4 665.2,363.8 665.6,366.8 666.0,367.3 666.4,366.4 666.8,366.8 667.2,364.5 667.6,365.0 668.0,365.4 668.4,367.5 668.8,368.4 669.2,371.8 669.6,371.1 670.0,370.3 670.4,371.1 670.8,373.7 671.2,373.7 671.6,370.3 672.0,370.2 672.4,368.0 672.8,369.3 673.2,372.2 673.6,372.7 674.0,374.1 674.4,374.3 674.8,374.9 675.2,376.4 675.6,377.1 676.0,377.3 676.4,377.5"/>
<polyline stroke="#800080" points="74.4,237.5 74.8,237.8 75.2,237.2 75.6,234.4 76.0,234.8 76.4,230.3 76.8,227.4 77.2,225.2 77.6,222.5 78.0,221.2 78.4,220.2 78.8,217.2 79.2,218.4 79.6,216.3 80.0,215.7 80.4,214.8 80.8,213.6 81.2,215.1 81.6,215.2 82.0,213.9 82.4,209.5 82.8,209.7 83.2,209.2 83.6,207.2 84.0,209.0 84.4,210.5 84.8,213.3 85.2,213.0 85.6,213.9 86.0,214.2 86.4,215.3 86.8,216.1 87.2,216.4 87.6,216.0 88.0,218.1 88.4,217.4 88.8,219.3 89.2,219.3 89.6,220.4 90.0,218.0 90.4,215.6 90.8,215.0 91.2,212.7 91.6,214.6 92.0,216.6 92.4,217.3 92.8,219.3 93.2,220.0 93.6,220.7 94.0,220.7 94.4,222.4 94.8,221.6 95.2,222.8 95.6,220.1 96.0,221.3 96.4,223.7 96.8,226.7 97.2,228.5 97.6,228.4 98.0,227.5 98.4,227.9 98.8,227.0 99.2,228.5 99.6,228.4 100.0,227.9 100.4,231.2 100.8,229.7 101.2,228.9 101.6,228.7 102.0,225.4 102.4,226.7 102.8,231.1 103.2,230.2 103.6,230.0 104.0,228.1 104.4,227.8 104.8,227.7 105.2,229.4 105.6,228.9 106.0,230.9 106.4,232.2 106.8,233.2 107.2,235.0 107.6,233.9 108.0,233.3 108.4,234.4 108.8,232.7 109.2,233.0 109.6,231.3 110.0,234.3 110.4,232.2 110.8,235.5 111.2,235.5 111.6,235.8 112.0,237.6 112.4,238.1 112.8,238.3 113.2,240.4 113.6,240.6 114.0,243.3 114.4,245.0 114.8,244.4 115.2,246.1 115.6,245.3 116.0,247.9 116.4,250.0 116.8,252.1 117.2,250.0 117.6,250.6 118.0,251.2 118.4,248.1 118.8,250.7 119.2,249.3 119.6,247.3 120.0,246.9 120.4,245.8 120.8,247.7 121.2,247.8 121.6,248.0 122.0,248.3 122.4,246.5 122.8,246.0 123.2,245.1 123.6,241.9 124.0,239.3 124.4,240.9 124.8,240.2 125.2,240.7 125.6,243.1 126.0,241.4 126.4,244.8 126.8,245.7 127.2,246.1 127.6,246.4 128.0,251.4 128.4,254.6 128.8,255.2 129.2,257.7 129.6,256.5 130.0,256.7 130.4,256.9 130.8,258.6 131.2,256.4 131.6,253.8 132.0,253.7 132.4,251.9 132.8,253.9 133.2,254.3 133.6,254.0 134.0,254.7 134.4,255.9 134.8,256.1 135.2,258.5 135.6,258.1 136.0,257.4 136.4,259.8 136.8,260.3 137.2,258.8 137.6,259.3 138.0,256.3 138.4,257.5 138.8,258.9 139.2,259.3 139.6,258.7 140.0,260.1 140.4,258.5 140.8,258.0 141.2,259.0 141.6,258.1 142.0,259.1 142.4,258.7 142.8,259.7 143.2,261.7 143.6,262.4 144.0,262.3 144.4,261.5 144.8,260.9 145.2,261.2 145.6,261.1 146.0,261.7 146.4,263.7 146.8,262.9 147.2,263.5 147.6,263.6 148.0,263.0 148.4,264.5 148.8,264.5 149.2,267.1 149.6,265.6 150.0,267.6 150.4,268.0 150.8,273.0 151.2,274.8 151.6,272.8 152.0,274.5 152.4,272.7 152.8,273.6 153.2,277.3 153.6,277.0 154.0,277.4 154.4,277.1 154.8,275.5 155.2,273.5 155.6,274.5 156.0,273.8 156.4,276.2 156.8,278.4 157.2,278.7 157.6,280.1 158.0,278.6 158.4,276.5 158.8,280.4 159.2,277.0 159.6,279.1 160.0,279.1 160.4,280.2 160.8,279.5 161.2,279.9 161.6,279.9 162.0,280.0 162.4,279.5 162.8,279.4 163.2,282.3 163.6,282.0 164.0,281.8 164.4,281.2 164.8,280.5 165.2,282.7 165.6,281.4 166.0,283.4 166.4,281.0 166.8,281.7 167.2,282.0 167.6,281.4 168.0,281.7 168.4,281.3 168.8,281.8 169.2,279.2 169.6,279.3 170.0,280.3 170.4,278.3 170.8,279.1 171.2,280.8 171.6,280.5 172.0,278.8 172.4,277.1 172.8,279.0 173.2,277.1 173.6,277.4 174.0,277.4 174.4,277.9 174.8,278.8 175.2,276.6 175.6,276.8 176.0,278.1 176.4,279.4 176.8,282.7 177.2,282.1 177.6,283.5 178.0,285.5 178.4,285.2 178.8,287.7 179.2,286.9 179.6,286.9 180.0,287.0 180.4,288.2 180.8,290.0 181.2,290.2 181.6,290.5 182.0,289.0 182.4,289.1 182.8,287.2 183.2,286.8 183.6,286.2 184.0,284.9 184.4,285.9 184.8,285.6 185.2,284.3 185.6,286.7 186.0,285.7 186.4,286.5 186.8,284.0 187.2,286.2 187.6,284.3 188.0,289.0 188.4,287.6 188.8,288.9 189.2,288.1 189.6,284.5 190.0,284.9 190.4,283.6 190.8,284.9 191.2,282.4 191.6,284.9 192.0,285.2 192.4,285.7 192.8,286.5 193.2,284.3 193.6,283.9 194.0,283.0 194.4,283.0 194.8,284.2 195.2,282.5 195.6,280.1 196.0,278.2 196.4,275.8 196.8,272.0 197.2,270.7 197.6,269.2 198.0,268.5 198.4,270.4 198.8,272.4 199.2,272.7 199.6,273.1 200.0,272.9 200.4,277.6 200.8,277.0 201.2,275.6 201.6,277.9 202.0,276.7 202.4,277.9 202.8,281.5 203.2,282.9 203.6,280.5 204.0,281.8 204.4,282.0 204.8,284.8 205.2,288.1 205.6,288.3 206.0,288.8 206.4,290.7 206.8,291.2 207.2,293.1 207.6,291.9 208.0,292.7 208.4,293.7 208.8,292.5 209.2,290.7 209.6,290.6 210.0,290.5 210.4,289.2 210.8,290.1 211.2,289.8 211.6,287.9 212.0,287.9 212.4,285.0 212.8,287.9 213.2,286.5 213.6,287.2 214.0,286.8 214.4,288.0 214.8,288.4 215.2,286.6 215.6,288.1 216.0,286.8 216.4,285.3 216.8,284.6 217.2,283.0 217.6,282.9 218.0,284.7 218.4,282.7 218.8,281.4 219.2,282.4 219.6,281.4 220.0,282.6 220.4,283.1 220.8,281.1 221.2,279.8 221.6,277.0 222.0,276.6 222.4,275.2 222.8,275.6 223.2,273.7 223.6,276.7 224.0,278.1 224.4,277.0 224.8,278.7 225.2,277.4 225.6,276.3 226.0,277.9 226.4,277.9 226.8,279.4 227.2,280.1 227.6,282.4 228.0,282.0 228.4,280.2 228.8,281.1 229.2,277.8 229.6,278.2 230.0,279.9 230.4,278.9 230.8,281.4 231.2,282.9 231.6,281.3 232.0,282.7 232.4,282.2 232.8,281.5 233.2,284.0 233.6,283.8 234.0,280.3 234.4,280.6 234.8,280.9 235.2,279.0 235.6,281.4 236.0,277.5 236.4,277.7 236.8,277.1 237.2,276.6 237.6,274.5 238.0,275.5 238.4,275.1 238.8,273.4 239.2,272.9 239.6,272.9 240.0,273.7 240.4,274.9 240.8,275.2 241.2,275.3 241.6,275.6 242.0,277.1 242.4,274.2 242.8,275.9 243.2,276.9 243.6,275.3 244.0,275.5 244.4,276.1 244.8,275.5 245.2,277.6 245.6,278.0 246.0,277.5 246.4,275.6 246.8,275.6 247.2,275.8 247.6,275.0 248.0,278.6 248.4,278.5 248.8,280.9 249.2,280.1 249.6,278.0 250.0,278.7 250.4,278.6 250.8,277.6 251.2,280.3 251.6,280.0 252.0,281.9 252.4,280.4 252.8,279.6 253.2,279.3 253.6,277.9 254.0,279.7 254.4,278.7 254.8,279.2 255.2,278.9 255.6,274.1 256.0,272.7 256.4,270.6 256.8,268.6 257.2,266.0 257.6,266.2 258.0,262.6 258.4,263.4 258.8,267.7 259.2,267.1 259.6,272.4 260.0,272.7 260.4,274.2 260.8,275.4 261.2,276.2 261.6,278.7 262.0,276.6 262.4,277.3 262.8,279.3 263.2,278.4 263.6,277.4 264.0,280.3 264.4,276.8 264.8,279.9 265.2,277.7 265.6,277.3 266.0,277.9 266.4,276.7 266.8,278.2 267.2,279.2 267.6,278.3 268.0,278.3 268.4,278.8 268.8,277.4 269.2,277.9 269.6,275.7 270.0,275.1 270.4,276.4 270.8,276.5 271.2,273.1 271.6,275.9 272.0,276.6 272.4,276.0 272.8,281.0 273.2,280.3 273.6,282.5 274.0,285.1 274.4,284.9 274.8,286.6 275.2,287.0 275.6,285.2 276.0,284.5 276.4,285.3 276.8,285.0 277.2,286.1 277.6,286.7 278.0,288.7 278.4,288.0 278.8,291.6 279.2,291.5 279.6,293.2 280.0,291.9 280.4,290.7 280.8,289.8 281.2,291.1 281.6,290.3 282.0,288.1 282.4,289.2 282.8,285.5 283.2,285.3 283.6,283.2 284.0,282.6 284.4,284.8 284.8,282.8 285.2,284.6 285.6,286.3 286.0,285.8 286.4,284.8 286.8,286.9 287.2,289.0 287.6,289.1 288.0,292.3 288.4,292.1 288.8,291.2 289.2,292.8 289.6,292.1 290.0,293.5 290.4,295.2 290.8,292.1 291.2,291.3 291.6,292.7 292.0,293.2 292.4,292.4 292.8,295.0 293.2,295.6 293.6,293.2 294.0,290.5 294.4,287.6 294.8,286.0 295.2,283.9 295.6,285.2 296.0,286.2 296.4,285.8 296.8,284.3 297.2,282.3 297.6,283.7 298.0,283.9 298.4,284.0 298.8,286.4 299.2,284.2 299.6,285.4 300.0,283.7 300.4,283.4 300.8,284.7 301.2,283.1 301.6,286.2 302.0,285.8 302.4,282.1 302.8,283.4 303.2,283.5 303.6,282.9 304.0,281.8 304.4,278.5 304.8,279.5 305.2,278.7 305.6,281.2 306.0,280.9 306.4,280.0 306.8,280.2 307.2,280.2 307.6,278.5 308.0,279.4 308.4,278.8 308.8,276.8 309.2,274.8 309.6,277.2 310.0,274.9 310.4,274.7 310.8,274.9 311.2,272.2 311.6,272.9 312.0,271.6 312.4,272.3 312.8,269.5 313.2,268.1 313.6,271.0 314.0,267.7 314.4,269.0 314.8,273.1 315.2,270.9 315.6,271.1 316.0,269.9 316.4,270.3 316.8,272.0 317.2,273.7 317.6,275.9 318.0,275.1 318.4,273.6 318.8,271.0 319.2,271.1 319.6,270.7 320.0,269.7 320.4,271.5 320.8,269.3 321.2,268.0 321.6,266.5 322.0,265.8 322.4,265.1 322.8,269.3 323.2,269.8 323.6,270.3 324.0,273.2 324.4,272.5 324.8,273.6 325.2,276.8 325.6,276.3 326.0,278.4 326.4,277.0 326.8,276.2 327.2,278.2 327.6,280.2 328.0,281.0 328.4,280.0 328.8,281.4 329.2,279.4 329.6,279.9 330.0,280.2 330.4,279.2 330.8,279.2 331.2,277.5 331.6,278.0 332.0,275.2 332.4,273.5 332.8,273.0 333.2,273.3 333.6,271.1 334.0,272.4 334.4,270.7 334.8,271.5 335.2,269.6 335.6,272.4 336.0,275.5 336.4,272.7 336.8,276.2 337.2,276.2 337.6,277.6 338.0,279.1 338.4,280.1 338.8,283.9 339.2,283.9 339.6,286.5 340.0,282.7 340.4,282.4 340.8,284.4 341.2,284.0 341.6,287.5 342.0,285.9 342.4,284.4 342.8,283.8 343.2,283.8 343.6,284.4 344.0,285.1 344.4,283.7 344.8,284.6 345.2,283.7 345.6,281.2 346.0,284.2 346.4,283.3 346.8,284.6 347.2,288.6 347.6,289.6 348.0,288.3 348.4,287.9 348.8,285.7 349.2,286.4 349.6,287.6 350.0,288.9 350.4,291.2 350.8,291.0 351.2,293.3 351.6,292.7 352.0,293.2 352.4,294.2 352.8,296.4 353.2,296.8 353.6,299.5 354.0,296.6 354.4,293.6 354.8,290.1 355.2,288.0 355.6,289.3 356.0,288.2 356.4,288.6 356.8,288.7 357.2,287.8 357.6,287.6 358.0,286.0 358.4,284.1 358.8,282.4 359.2,281.3 359.6,281.4 360.0,279.9 360.4,276.6 360.8,275.2 361.2,274.5 361.6,274.6 362.0,276.3 362.4,275.0 362.8,276.5 363.2,277.4 363.6,276.4 364.0,278.5 364.4,275.5 364.8,276.3 365.2,276.4 365.6,275.9 366.0,274.8 366.4,274.5 366.8,273.2 367.2,271.8 367.6,272.0 368.0,270.4 368.4,274.5 368.8,273.2 369.2,272.2 369.6,273.0 370.0,272.1 370.4,274.1 370.8,276.5 371.2,276.8 371.6,276.5 372.0,278.2 372.4,279.3 372.8,279.6 373.2,281.7 373.6,283.9 374.0,283.1 374.4,281.6 374.8,282.5 375.2,284.6 375.6,284.0 376.0,286.7 376.4,287.5 376.8,284.0 377.2,286.5 377.6,286.2 378.0,288.2 378.4,289.6 378.8,292.1 379.2,290.7 379.6,291.2 380.0,291.8 380.4,291.4 380.8,291.4 381.2,295.1 381.6,293.8 382.0,293.4 382.4,292.5 382.8,291.8 383.2,293.3 383.6,290.8 384.0,288.6 384.4,289.3 384.8,284.8 385.2,285.4 385.6,284.9 386.0,285.6 386.4,286.4 386.8,286.1 387.2,287.5 387.6,284.7 388.0,285.8 388.4,283.7 388.8,283.4 389.2,282.7 389.6,281.6 390.0,279.0 390.4,282.1 390.8,281.8 391.2,284.3 391.6,284.5 392.0,284.0 392.4,284.0 392.8,279.6 393.2,281.8 393.6,280.1 394.0,276.3 394.4,278.0 394.8,278.8 395.2,280.3 395.6,280.1 396.0,277.8 396.4,276.9 396.8,276.8 397.2,278.8 397.6,279.2 398.0,277.4 398.4,278.6 398.8,280.6 399.2,280.3 399.6,280.8 400.0,278.4 400.4,275.2 400.8,271.8 401.2,271.6 401.6,273.1 402.0,275.4 402.4,275.3 402.8,275.3 403.2,272.7 403.6,273.6 404.0,275.0 404.4,276.3 404.8,276.4 405.2,276.7 405.6,275.2 406.0,271.6 406.4,271.1 406.8,270.0 407.2,268.4 407.6,269.1 408.0,267.8 408.4,266.7 408.8,265.1 409.2,262.9 409.6,263.4 410.0,263.1 410.4,262.5 410.8,263.8 411.2,261.9 411.6,263.3 412.0,263.1 412.4,263.9 412.8,264.3 413.2,263.9 413.6,260.6 414.0,262.9 414.4,263.2 414.8,265.0 415.2,263.6 415.6,263.3 416.0,264.2 416.4,264.6 416.8,265.9 417.2,266.6 417.6,266.6 418.0,266.5 418.4,268.3 418.8,272.0 419.2,271.0 419.6,270.8 420.0,271.9 420.4,272.3 420.8,271.3 421.2,271.5 421.6,274.1 422.0,275.5 422.4,278.3 422.8,277.5 423.2,275.7 423.6,276.6 424.0,275.3 424.4,276.0 424.8,277.0 425.2,276.9 425.6,278.6 426.0,279.3 426.4,277.3 426.8,277.8 427.2,275.6 427.6,275.5 428.0,275.0 428.4,277.2 428.8,273.7 429.2,271.2 429.6,270.3 430.0,265.6 430.4,266.9 430.8,268.5 431.2,265.7 431.6,267.0 432.0,265.8 432.4,264.1 432.8,264.9 433.2,266.7 433.6,269.4 434.0,267.6 434.4,267.9 434.8,269.5 435.2,270.1 435.6,271.4 436.0,272.4 436.4,273.7 436.8,273.4 437.2,276.3 437.6,276.6 438.0,277.3 438.4,277.9 438.8,277.0 439.2,276.3 439.6,274.5 440.0,275.6 440.4,276.3 440.8,277.5 441.2,277.3 441.6,276.9 442.0,277.2 442.4,274.7 442.8,274.7 443.2,274.4 443.6,273.4 444.0,273.5 444.4,270.8 444.8,271.4 445.2,273.0 445.6,271.0 446.0,271.6 446.4,271.0 446.8,272.7 447.2,272.6 447.6,273.5 448.0,274.9 448.4,271.6 448.8,274.1 449.2,273.4 449.6,272.1 450.0,275.1 450.4,273.4 450.8,272.9 451.2,271.4 451.6,271.0 452.0,271.5 452.4,271.2 452.8,271.2 453.2,269.6 453.6,267.9 454.0,266.8 454.4,268.4 454.8,268.8 455.2,270.4 455.6,270.4 456.0,271.9 456.4,271.7 456.8,271.5 457.2,272.0 457.6,272.2 458.0,272.6 458.4,274.5 458.8,273.4 459.2,273.0 459.6,273.0 460.0,275.5 460.4,274.2 460.8,275.4 461.2,278.5 461.6,277.0 462.0,280.5 462.4,282.1 462.8,278.0 463.2,278.6 463.6,277.1 464.0,277.1 464.4,278.3 464.8,278.8 465.2,278.9 465.6,280.4 466.0,278.8 466.4,279.2 466.8,281.2 467.2,282.6 467.6,282.9 468.0,281.5 468.4,278.6 468.8,278.2 469.2,276.1 469.6,277.0 470.0,277.5 470.4,276.9 470.8,274.6 471.2,272.9 471.6,274.1 472.0,276.1 472.4,277.9 472.8,276.8 473.2,277.2 473.6,274.9 474.0,276.9 474.4,278.9 474.8,280.2 475.2,280.5 475.6,280.6 476.0,282.7 476.4,284.5 476.8,284.3 477.2,284.5 477.6,284.1 478.0,285.3 478.4,287.3 478.8,284.6 479.2,283.1 479.6,282.2 480.0,282.0 480.4,282.8 480.8,283.3 481.2,282.2 481.6,282.6 482.0,280.3 482.4,278.0 482.8,273.4 483.2,271.3 483.6,270.9 484.0,269.7 484.4,269.0 484.8,265.9 485.2,265.9 485.6,263.4 486.0,265.0 486.4,264.7 486.8,262.9 487.2,262.8 487.6,263.0 488.0,264.3 488.4,265.9 488.8,268.5 489.2,266.8 489.6,267.0 490.0,266.1 490.4,266.8 490.8,266.5 491.2,269.3 491.6,269.8 492.0,271.9 492.4,270.8 492.8,268.2 493.2,269.2 493.6,265.2 494.0,262.7 494.4,262.7 494.8,263.5 495.2,265.7 495.6,266.7 496.0,266.4 496.4,264.4 496.8,263.1 497.2,262.0 497.6,263.3 498.0,262.6 498.4,262.2 498.8,262.2 499.2,262.8 499.6,264.5 500.0,265.0 500.4,265.0 500.8,265.1 501.2,265.7 501.6,265.6 502.0,266.5 502.4,266.3 502.8,266.0 503.2,265.8 503.6,265.5 504.0,267.9 504.4,266.3 504.8,267.5 505.2,264.1 505.6,266.8 506.0,267.4 506.4,268.1 506.8,265.6 507.2,264.8 507.6,263.6 508.0,263.2 508.4,263.5 508.8,266.6 509.2,264.9 509.6,266.8 510.0,270.9 510.4,268.3 510.8,268.8 511.2,268.4 511.6,267.4 512.0,271.0 512.4,273.2 512.8,273.6 513.2,273.9 513.6,273.0 514.0,274.5 514.4,275.6 514.8,279.2 515.2,280.5 515.6,279.5 516.0,278.0 516.4,277.9 516.8,278.1 517.2,278.5 517.6,279.0 518.0,277.9 518.4,279.4 518.8,277.6 519.2,279.8 519.6,278.7 520.0,277.5 520.4,279.7 520.8,278.8 521.2,280.3 521.6,278.2 522.0,274.9 522.4,275.0 522.8,273.6 523.2,274.1 523.6,274.9 524.0,277.6 524.4,277.4 524.8,282.1 525.2,282.7 525.6,284.8 526.0,283.6 526.4,284.4 526.8,284.2 527.2,284.6 527.6,283.4 528.0,287.0 528.4,287.0 528.8,287.1 529.2,286.8 529.6,285.2 530.0,282.9 530.4,283.5 530.8,280.6 531.2,278.5 531.6,279.7 532.0,276.6 532.4,277.8 532.8,279.3 533.2,278.3 533.6,278.6 534.0,278.4 534.4,278.0 534.8,279.7 535.2,279.8 535.6,282.5 536.0,279.9 536.4,281.0 536.8,277.7 537.2,277.1 537.6,278.0 538.0,275.5 538.4,277.5 538.8,275.2 539.2,272.2 539.6,273.6 540.0,275.8 540.4,275.0 540.8,275.3 541.2,271.7 541.6,272.4 542.0,273.5 542.4,272.6 542.8,272.8 543.2,268.7 543.6,268.8 544.0,266.7 544.4,268.8 544.8,270.3 545.2,266.2 545.6,265.9 546.0,264.2 546.4,265.4 546.8,264.5 547.2,261.2 547.6,261.1 548.0,259.2 548.4,259.0 548.8,261.9 549.2,259.7 549.6,261.8 550.0,260.1 550.4,260.4 550.8,260.8 551.2,258.4 551.6,260.5 552.0,257.4 552.4,257.4 552.8,258.9 553.2,260.8 553.6,263.9 554.0,263.8 554.4,266.6 554.8,266.9 555.2,266.9 555.6,266.6 556.0,265.1 556.4,266.9 556.8,266.4 557.2,266.7 557.6,266.7 558.0,264.7 558.4,260.8 558.8,259.5 559.2,259.4 559.6,256.6 560.0,257.9 560.4,255.5 560.8,253.3 561.2,254.2 561.6,254.9 562.0,254.1 562.4,256.8 562.8,256.7 563.2,256.8 563.6,260.3 564.0,261.1 564.4,262.4 564.8,265.1 565.2,267.2 565.6,269.0 566.0,268.8 566.4,265.7 566.8,265.6 567.2,266.4 567.6,263.4 568.0,267.0 568.4,269.0 568.8,269.9 569.2,270.4 569.6,267.9 570.0,268.3 570.4,268.4 570.8,270.4 571.2,271.7 571.6,274.8 572.0,274.4 572.4,273.8 572.8,275.4 573.2,274.9 573.6,276.6 574.0,279.5 574.4,280.3 574.8,279.5 575.2,277.8 575.6,277.8 576.0,278.7 576.4,278.4 576.8,280.0 577.2,281.8 577.6,278.6 578.0,279.9 578.4,275.7 578.8,273.6 579.2,270.9 579.6,269.8 580.0,270.1 580.4,272.0 580.8,273.5 581.2,273.1 581.6,275.2 582.0,272.7 582.4,270.7 582.8,272.4 583.2,270.9 583.6,273.3 584.0,273.6 584.4,271.1 584.8,272.6 585.2,273.5 585.6,274.4 586.0,276.9 586.4,277.7 586.8,277.7 587.2,279.0 587.6,276.9 588.0,277.3 588.4,274.0 588.8,273.9 589.2,271.9 589.6,270.9 590.0,271.3 590.4,270.2 590.8,268.1 591.2,269.1 591.6,269.8 592.0,269.9 592.4,269.2 592.8,268.1 593.2,268.1 593.6,267.3 594.0,269.7 594.4,271.8 594.8,271.3 595.2,271.8 595.6,274.3 596.0,275.0 596.4,273.7 596.8,276.8 597.2,277.7 597.6,274.3 598.0,275.0 598.4,275.7 598.8,276.5 599.2,278.0 599.6,276.8 600.0,277.0 600.4,276.8 600.8,276.0 601.2,277.3 601.6,278.1 602.0,279.3 602.4,279.5 602.8,279.2 603.2,281.5 603.6,282.1 604.0,283.3 604.4,282.4 604.8,279.0 605.2,277.4 605.6,277.8 606.0,275.4 606.4,275.6 606.8,272.6 607.2,271.3 607.6,273.2 608.0,273.6 608.4,276.0 608.8,277.1 609.2,277.8 609.6,278.2 610.0,275.6 610.4,272.7 610.8,271.3 611.2,268.7 611.6,268.7 612.0,267.5 612.4,267.7 612.8,266.4 613.2,265.0 613.6,262.5 614.0,264.0 614.4,265.7 614.8,266.4 615.2,266.5 615.6,266.1 616.0,265.6 616.4,263.6 616.8,265.9 617.2,266.6 617.6,267.4 618.0,269.6 618.4,269.5 618.8,271.1 619.2,270.5 619.6,270.6 620.0,268.4 620.4,268.3 620.8,266.3 621.2,265.3 621.6,267.0 622.0,264.3 622.4,267.7 622.8,270.1 623.2,269.4 623.6,269.3 624.0,269.7 624.4,266.8 624.8,265.6 625.2,265.6 625.6,265.5 626.0,265.2 626.4,269.3 626.8,269.4 627.2,268.7 627.6,267.6 628.0,265.3 628.4,270.4 628.8,269.0 629.2,271.2 629.6,272.5 630.0,270.9 630.4,272.0 630.8,271.9 631.2,272.8 631.6,272.6 632.0,274.1 632.4,273.3 632.8,273.6 633.2,276.2 633.6,274.8 634.0,277.8 634.4,278.5 634.8,276.5 635.2,275.7 635.6,275.5 636.0,276.0 636.4,277.3 636.8,275.9 637.2,278.2 637.6,279.0 638.0,278.9 638.4,282.7 638.8,281.2 639.2,280.0 639.6,278.1 640.0,276.6 640.4,277.4 640.8,276.0 641.2,276.4 641.6,273.0 642.0,272.6 642.4,272.2 642.8,271.1 643.2,272.6 643.6,274.6 644.0,272.1 644.4,274.5 644.8,273.2 645.2,273.1 645.6,271.2 646.0,272.9 646.4,269.1 646.8,268.7 647.2,268.2 647.6,264.5 648.0,263.5 648.4,262.1 648.8,262.5 649.2,264.6 649.6,263.4 650.0,264.7 650.4,267.5 650.8,265.7 651.2,267.8 651.6,266.4 652.0,267.0 652.4,268.2 652.8,269.3 653.2,270.5 653.6,268.5 654.0,270.5 654.4,268.5 654.8,267.9 655.2,269.0 655.6,269.5 656.0,269.5 656.4,270.1 656.8,271.6 657.2,271.0 657.6,272.2 658.0,270.9 658.4,270.4 658.8,271.7 659.2,268.8 659.6,269.9 660.0,269.1 660.4,268.0 660.8,267.3 661.2,266.8 661.6,262.5 662.0,263.7 662.4,264.3 662.8,265.8 663.2,266.3 663.6,266.4 664.0,265.8 664.4,265.6 664.8,267.8 665.2,265.6 665.6,267.7 666.0,266.2 666.4,266.3 666.8,267.0 667.2,269.7 667.6,271.5 668.0,275.3 668.4,275.5 668.8,274.5 669.2,277.4 669.6,277.1 670.0,278.4 670.4,278.8 670.8,280.4 671.2,278.0 671.6,277.5 672.0,278.1 672.4,278.6 672.8,277.4 673.2,274.7 673.6,270.7 674.0,266.5 674.4,261.1 674.8,259.6 675.2,261.2 675.6,262.9 676.0,264.4 676.4,266.3"/>
<polyline stroke="#A52A2A" points="74.0,268.8 74.4,267.7 74.8,268.3 75.2,264.9 75.6,265.8 76.0,265.9 76.4,266.9 76.8,268.9 77.2,267.9 77.6,270.3 78.0,270.8 78.4,269.5 78.8,269.2 79.2,266.7 79.6,266.9 80.0,266.9 80.4,264.9 80.8,266.1 81.2,266.2 81.6,267.3 82.0,267.6 82.4,265.6 82.8,265.0 83.2,265.7 83.6,263.9 84.0,266.5 84.4,266.8 84.8,267.3 85.2,266.4 85.6,263.9 86.0,259.7 86.4,260.3 86.8,260.6 87.2,261.3 87.6,264.0 88.0,263.3 88.4,261.9 88.8,261.6 89.2,264.3 89.6,270.0 90.0,272.3 90.4,272.5 90.8,276.5 91.2,274.9 91.6,276.1 92.0,279.0 92.4,276.8 92.8,278.5 93.2,279.5 93.6,280.8 94.0,282.5 94.4,285.9 94.8,287.3 95.2,288.8 95.6,290.9 96.0,293.6 96.4,292.3 96.8,296.2 97.2,296.8 97.6,296.1 98.0,298.2 98.4,297.4 98.8,298.5 99.2,299.7 99.6,300.6 100.0,301.9 100.4,300.6 100.8,300.2 101.2,301.8 101.6,302.9 102.0,305.9 102.4,308.8 102.8,312.4 103.2,313.5 103.6,313.9 104.0,311.9 104.4,311.2 104.8,311.3 105.2,313.1 105.6,314.5 106.0,317.3 106.4,315.7 106.8,317.7 107.2,318.6 107.6,320.4 108.0,322.5 108.4,320.8 108.8,324.3 109.2,323.0 109.6,323.9 110.0,325.8 110.4,323.7 110.8,325.7 111.2,328.0 111.6,328.1 112.0,329.5 112.4,331.8 112.8,329.2 113.2,327.2 113.6,327.1 114.0,326.0 114.4,327.3 114.8,324.7 115.2,325.4 115.6,325.3 116.0,325.2 116.4,326.2 116.8,326.7 117.2,327.1 117.6,326.4 118.0,328.8 118.4,328.9 118.8,328.7 119.2,329.2 119.6,328.8 120.0,330.4 120.4,332.4 120.8,330.8 121.2,332.3 121.6,329.9 122.0,330.8 122.4,329.8 122.8,330.3 123.2,330.4 123.6,327.9 124.0,326.6 124.4,325.7 124.8,327.0 125.2,326.6 125.6,329.4 126.0,329.0 126.4,330.5 126.8,332.0 127.2,332.5 127.6,333.3 128.0,332.8 128.4,334.1 128.8,333.7 129.2,333.0 129.6,334.9 130.0,334.7 130.4,331.4 130.8,333.1 131.2,332.3 131.6,333.0 132.0,336.2 132.4,334.3 132.8,337.4 133.2,336.3 133.6,336.9 134.0,335.9 134.4,337.8 134.8,341.3 135.2,342.5 135.6,344.1 136.0,343.6 136.4,345.0 136.8,344.2 137.2,344.1 137.6,343.9 138.0,343.4 138.4,343.2 138.8,344.7 139.2,345.3 139.6,346.7 140.0,345.7 140.4,346.8 140.8,345.6 141.2,345.2 141.6,344.5 142.0,347.0 142.4,346.3 142.8,346.9 143.2,347.6 143.6,344.6 144.0,345.0 144.4,345.0 144.8,344.5 145.2,345.4 145.6,346.2 146.0,348.6 146.4,349.7 146.8,347.2 147.2,347.0 147.6,345.5 148.0,347.4 148.4,345.5 148.8,345.4 149.2,346.6 149.6,346.1 150.0,350.1 150.4,351.0 150.8,350.8 151.2,350.4 151.6,348.8 152.0,346.5 152.4,343.5 152.8,344.9 153.2,345.6 153.6,347.1 154.0,350.0 154.4,349.3 154.8,350.3 155.2,351.2 155.6,351.6 156.0,351.6 156.4,351.7 156.8,351.0 157.2,351.2 157.6,351.8 158.0,352.1 158.4,351.4 158.8,352.2 159.2,352.2 159.6,349.7 160.0,349.3 160.4,351.3 160.8,353.0 161.2,355.8 161.6,358.2 162.0,355.7 162.4,353.7 162.8,350.9 163.2,350.8 163.6,351.6 164.0,354.5 164.4,355.4 164.8,356.3 165.2,356.5 165.6,355.7 166.0,356.3 166.4,356.0 166.8,353.9 167.2,353.7 167.6,354.1 168.0,355.8 168.4,357.0 168.8,356.6 169.2,354.5 169.6,355.7 170.0,353.0 170.4,355.1 170.8,353.7 171.2,354.2 171.6,355.3 172.0,353.7 172.4,353.2 172.8,353.6 173.2,354.2 173.6,355.6 174.0,355.9 174.4,356.4 174.8,358.5 175.2,357.0 175.6,357.2 176.0,354.7 176.4,358.3 176.8,361.4 177.2,362.0 177.6,363.4 178.0,360.5 178.4,359.4 178.8,357.7 179.2,359.3 179.6,360.6 180.0,361.7 180.4,363.0 180.8,362.0 181.2,361.3 181.6,362.4 182.0,361.8 182.4,365.0 182.8,366.4 183.2,366.9 183.6,366.4 184.0,365.5 184.4,367.3 184.8,366.7 185.2,364.5 185.6,365.2 186.0,366.1 186.4,365.8 186.8,366.6 187.2,370.0 187.6,366.5 188.0,365.6 188.4,366.8 188.8,363.3 189.2,365.2 189.6,368.0 190.0,365.5 190.4,365.6 190.8,362.6 191.2,363.0 191.6,363.9 192.0,359.4 192.4,363.7 192.8,362.7 193.2,363.3 193.6,364.2 194.0,366.8 194.4,367.6 194.8,368.1 195.2,363.6 195.6,360.5 196.0,359.5 196.4,354.8 196.8,354.8 197.2,352.7 197.6,350.8 198.0,348.0 198.4,347.3 198.8,348.3 199.2,348.3 199.6,348.4 200.0,350.5 200.4,350.4 200.8,351.2 201.2,350.5 201.6,350.5 202.0,352.8 202.4,352.5 202.8,354.9 203.2,353.9 203.6,350.7 204.0,349.6 204.4,351.7 204.8,349.9 205.2,351.3 205.6,353.0 206.0,351.1 206.4,355.7 206.8,354.2 207.2,354.0 207.6,357.9 208.0,357.2 208.4,357.9 208.8,357.0 209.2,355.4 209.6,357.7 210.0,355.1 210.4,354.6 210.8,355.1 211.2,353.9 211.6,356.0 212.0,355.4 212.4,358.2 212.8,357.8 213.2,357.9 213.6,357.8 214.0,356.6 214.4,356.2 214.8,355.7 215.2,355.2 215.6,355.8 216.0,357.5 216.4,359.3 216.8,358.2 217.2,355.2 217.6,355.6 218.0,357.1 218.4,359.3 218.8,362.2 219.2,359.8 219.6,357.8 220.0,356.3 220.4,356.5 220.8,357.6 221.2,357.0 221.6,355.5 222.0,356.3 222.4,354.2 222.8,356.6 223.2,356.3 223.6,357.0 224.0,359.4 224.4,361.1 224.8,362.0 225.2,360.5 225.6,359.5 226.0,360.3 226.4,362.4 226.8,361.4 227.2,360.7 227.6,360.3 228.0,361.5 228.4,363.4 228.8,363.7 229.2,367.2 229.6,365.5 230.0,365.1 230.4,363.5 230.8,363.4 231.2,364.4 231.6,367.8 232.0,368.4 232.4,368.0 232.8,365.6 233.2,367.6 233.6,368.6 234.0,369.9 234.4,373.2 234.8,370.5 235.2,371.3 235.6,370.6 236.0,370.1 236.4,371.2 236.8,370.2 237.2,369.6 237.6,369.5 238.0,371.9 238.4,373.2 238.8,374.6 239.2,375.1 239.6,375.7 240.0,376.7 240.4,373.1 240.8,375.5 241.2,377.1 241.6,373.1 242.0,375.7 242.4,376.3 242.8,374.8 243.2,374.6 243.6,375.0 244.0,374.9 244.4,374.2 244.8,378.4 245.2,378.1 245.6,376.5 246.0,377.2 246.4,374.9 246.8,377.2 247.2,377.7 247.6,378.5 248.0,378.7 248.4,377.9 248.8,378.4 249.2,377.9 249.6,376.2 250.0,378.7 250.4,380.9 250.8,381.2 251.2,381.6 251.6,381.1 252.0,378.3 252.4,379.7 252.8,379.4 253.2,381.7 253.6,382.1 254.0,379.1 254.4,380.9 254.8,381.0 255.2,380.7 255.6,380.9 256.0,378.9 256.4,377.7 256.8,376.6 257.2,376.9 257.6,376.1 258.0,378.2 258.4,376.8 258.8,375.6 259.2,375.0 259.6,374.2 260.0,375.9 260.4,376.6 260.8,377.9 261.2,378.4 261.6,378.7 262.0,378.2 262.4,379.1 262.8,379.7 263.2,381.6 263.6,380.2 264.0,379.2 264.4,378.3 264.8,376.8 265.2,377.8 265.6,377.0 266.0,379.2 266.4,379.1 266.8,379.1 267.2,378.5 267.6,375.1 268.0,375.8 268.4,378.0 268.8,380.0 269.2,383.7 269.6,382.4 270.0,382.6 270.4,383.2 270.8,382.1 271.2,383.0 271.6,382.9 272.0,384.1 272.4,381.3 272.8,381.4 273.2,383.3 273.6,381.3 274.0,382.0 274.4,384.2 274.8,382.3 275.2,383.2 275.6,383.6 276.0,380.5 276.4,381.6 276.8,377.2 277.2,378.3 277.6,379.5 278.0,377.6 278.4,380.1 278.8,381.5 279.2,382.8 279.6,383.7 280.0,383.8 280.4,382.7 280.8,382.6 281.2,382.0 281.6,383.7 282.0,382.9 282.4,385.1 282.8,387.0 283.2,385.3 283.6,384.9 284.0,384.9 284.4,383.6 284.8,383.9 285.2,384.9 285.6,384.6 286.0,385.5 286.4,387.6 286.8,388.4 287.2,389.5 287.6,390.8 288.0,389.7 288.4,390.4 288.8,390.9 289.2,389.0 289.6,388.1 290.0,388.4 290.4,389.4 290.8,386.8 291.2,386.2 291.6,384.9 292.0,384.6 292.4,385.0 292.8,384.3 293.2,386.2 293.6,383.6 294.0,383.7 294.4,382.0 294.8,381.2 295.2,379.5 295.6,379.6 296.0,380.2 296.4,380.6 296.8,377.9 297.2,378.3 297.6,380.2 298.0,381.4 298.4,381.8 298.8,382.5 299.2,383.1 299.6,380.2 300.0,382.3 300.4,380.4 300.8,382.0 301.2,379.5 301.6,379.9 302.0,381.1 302.4,381.9 302.8,382.6 303.2,381.7 303.6,381.9 304.0,384.2 304.4,385.6 304.8,383.9 305.2,385.8 305.6,383.5 306.0,381.3 306.4,380.7 306.8,380.9 307.2,382.2 307.6,381.1 308.0,383.8 308.4,383.2 308.8,381.2 309.2,382.8 309.6,381.7 310.0,379.5 310.4,379.8 310.8,379.6 311.2,380.1 311.6,381.7 312.0,382.2 312.4,381.6 312.8,383.0 313.2,383.0 313.6,379.5 314.0,380.9 314.4,380.0 314.8,380.7 315.2,381.4 315.6,381.0 316.0,381.0 316.4,380.6 316.8,381.1 317.2,379.4 317.6,379.6 318.0,377.8 318.4,377.7 318.8,376.6 319.2,376.9 319.6,374.8 320.0,375.8 320.4,376.1 320.8,374.4 321.2,374.3 321.6,370.9 322.0,373.1 322.4,375.2 322.8,371.4 323.2,372.6 323.6,370.9 324.0,369.3 324.4,368.6 324.8,370.1 325.2,368.5 325.6,370.6 326.0,372.7 326.4,377.6 326.8,374.5 327.2,377.5 327.6,375.4 328.0,374.8 328.4,378.0 328.8,379.5 329.2,379.2 329.6,381.1 330.0,381.0 330.4,382.9 330.8,383.3 331.2,385.7 331.6,388.4 332.0,385.1 332.4,383.4 332.8,382.7 333.2,381.2 333.6,381.4 334.0,385.4 334.4,385.7 334.8,386.4 335.2,384.3 335.6,382.2 336.0,382.9 336.4,382.9 336.8,383.2 337.2,385.2 337.6,386.8 338.0,385.8 338.4,385.4 338.8,385.7 339.2,384.1 339.6,382.1 340.0,382.4 340.4,381.9 340.8,384.3 341.2,385.5 341.6,385.7 342.0,384.9 342.4,384.1 342.8,385.0 343.2,383.8 343.6,386.9 344.0,384.8 344.4,385.0 344.8,386.7 345.2,385.9 345.6,386.7 346.0,384.5 346.4,382.7 346.8,383.6 347.2,382.0 347.6,384.8 348.0,385.9 348.4,385.5 348.8,386.4 349.2,385.7 349.6,383.6 350.0,387.0 350.4,388.9 350.8,391.0 351.2,390.2 351.6,387.3 352.0,386.9 352.4,385.3 352.8,384.8 353.2,387.6 353.6,386.9 354.0,389.8 354.4,389.6 354.8,390.4 355.2,390.7 355.6,387.9 356.0,389.3 356.4,389.9 356.8,391.2 357.2,391.5 357.6,392.7 358.0,393.8 358.4,391.1 358.8,392.8 359.2,392.8 359.6,392.3 360.0,392.7 360.4,392.3 360.8,392.9 361.2,394.0 361.6,396.1 362.0,394.9 362.4,393.6 362.8,392.7 363.2,393.4 363.6,392.3 364.0,393.1 364.4,392.6 364.8,393.1 365.2,392.6 365.6,394.5 366.0,396.1 366.4,399.1 366.8,401.3 367.2,400.8 367.6,401.2 368.0,399.4 368.4,396.2 368.8,395.3 369.2,397.7 369.6,396.7 370.0,397.4 370.4,396.7 370.8,396.0 371.2,395.6 371.6,396.8 372.0,395.1 372.4,395.3 372.8,397.3 373.2,394.8 373.6,393.6 374.0,393.8 374.4,393.5 374.8,394.6 375.2,396.0 375.6,394.6 376.0,395.8 376.4,395.1 376.8,391.9 377.2,392.5 377.6,389.5 378.0,390.7 378.4,389.3 378.8,390.6 379.2,390.5 379.6,387.0 380.0,387.9 380.4,387.1 380.8,387.2 381.2,386.9 381.6,387.0 382.0,386.1 382.4,385.7 382.8,385.0 383.2,388.1 383.6,387.8 384.0,388.1 384.4,389.7 384.8,388.7 385.2,389.3 385.6,390.5 386.0,388.2 386.4,386.7 386.8,388.1 387.2,386.2 387.6,389.8 388.0,391.1 388.4,390.8 388.8,391.5 389.2,391.6 389.6,390.1 390.0,390.5 390.4,388.6 390.8,390.4 391.2,390.3 391.6,390.4 392.0,391.2 392.4,390.9 392.8,390.1 393.2,391.7 393.6,390.8 394.0,394.9 394.4,393.6 394.8,392.7 395.2,393.7 395.6,392.1 396.0,392.6 396.4,393.9 396.8,397.5 397.2,398.9 397.6,399.0 398.0,400.2 398.4,400.8 398.8,399.6 399.2,399.7 399.6,397.0 400.0,397.3 400.4,395.8 400.8,395.4 401.2,397.0 401.6,397.2 402.0,396.3 402.4,396.6 402.8,396.6 403.2,395.6 403.6,396.6 404.0,394.4 404.4,394.2 404.8,395.5 405.2,392.9 405.6,392.8 406.0,391.7 406.4,392.6 406.8,395.0 407.2,393.1 407.6,394.0 408.0,393.8 408.4,393.9 408.8,394.9 409.2,395.2 409.6,393.7 410.0,391.0 410.4,393.6 410.8,392.1 411.2,393.9 411.6,395.1 412.0,390.9 412.4,391.7 412.8,391.0 413.2,390.7 413.6,391.9 414.0,389.7 414.4,390.0 414.8,388.0 415.2,387.0 415.6,386.5 416.0,386.3 416.4,389.1 416.8,388.4 417.2,387.9 417.6,390.3 418.0,389.5 418.4,390.3 418.8,393.6 419.2,393.8 419.6,395.5 420.0,395.9 420.4,394.4 420.8,396.0 421.2,393.8 421.6,391.7 422.0,390.8 422.4,392.2 422.8,392.6 423.2,394.0 423.6,395.7 424.0,398.7 424.4,399.2 424.8,396.6 425.2,400.9 425.6,398.9 426.0,399.9 426.4,401.2 426.8,397.9 427.2,400.0 427.6,400.5 428.0,401.5 428.4,402.0 428.8,397.7 429.2,396.8 429.6,396.5 430.0,395.7 430.4,397.6 430.8,399.0 431.2,398.8 431.6,398.0 432.0,397.1 432.4,395.8 432.8,397.0 433.2,398.8 433.6,399.8 434.0,400.8 434.4,399.8 434.8,397.7 435.2,397.1 435.6,399.9 436.0,398.7 436.4,398.8 436.8,401.0 437.2,401.2 437.6,402.0 438.0,402.3 438.4,398.3 438.8,396.8 439.2,396.7 439.6,392.1 440.0,394.4 440.4,394.2 440.8,392.9 441.2,393.0 441.6,394.6 442.0,395.5 442.4,395.4 442.8,392.9 443.2,392.1 443.6,391.6 444.0,390.2 444.4,392.9 444.8,395.5 445.2,395.6 445.6,396.7 446.0,395.3 446.4,396.3 446.8,396.7 447.2,396.3 447.6,396.8 448.0,395.8 448.4,397.5 448.8,396.6 449.2,395.9 449.6,395.1 450.0,393.5 450.4,396.2 450.8,394.6 451.2,395.7 451.6,394.6 452.0,391.8 452.4,391.5 452.8,389.0 453.2,390.9 453.6,392.7 454.0,390.5 454.4,392.8 454.8,393.8 455.2,393.7 455.6,394.6 456.0,393.7 456.4,393.2 456.8,392.3 457.2,393.7 457.6,394.5 458.0,398.7 458.4,398.2 458.8,396.0 459.2,395.9 459.6,394.1 460.0,396.2 460.4,397.5 460.8,398.0 461.2,395.8 461.6,396.9 462.0,395.9 462.4,394.0 462.8,393.1 463.2,394.8 463.6,393.8 464.0,396.8 464.4,396.8 464.8,398.1 465.2,398.6 465.6,398.0 466.0,398.7 466.4,398.3 466.8,400.6 467.2,398.7 467.6,397.9 468.0,397.7 468.4,394.6 468.8,393.6 469.2,397.8 469.6,397.2 470.0,399.8 470.4,400.3 470.8,402.3 471.2,401.0 471.6,401.9 472.0,404.6 472.4,400.2 472.8,400.0 473.2,398.9 473.6,395.2 474.0,397.8 474.4,399.1 474.8,400.1 475.2,399.4 475.6,399.8 476.0,401.5 476.4,400.5 476.8,402.3 477.2,405.0 477.6,400.9 478.0,401.8 478.4,401.9 478.8,400.2 479.2,400.7 479.6,400.8 480.0,398.8 480.4,400.0 480.8,399.9 481.2,402.6 481.6,401.3 482.0,400.7 482.4,401.0 482.8,398.2 483.2,398.7 483.6,398.6 484.0,400.1 484.4,401.6 484.8,401.7 485.2,400.9 485.6,402.3 486.0,401.1 486.4,400.8 486.8,401.6 487.2,400.9 487.6,400.0 488.0,399.9 488.4,399.7 488.8,397.7 489.2,398.0 489.6,397.8 490.0,397.5 490.4,397.7 490.8,398.7 491.2,396.6 491.6,396.4 492.0,395.6 492.4,396.9 492.8,400.1 493.2,399.8 493.6,400.4 494.0,399.2 494.4,398.1 494.8,397.0 495.2,396.8 495.6,396.9 496.0,396.2 496.4,395.5 496.8,394.9 497.2,396.8 497.6,397.6 498.0,399.5 498.4,399.0 498.8,397.6 499.2,398.8 499.6,397.7 500.0,396.6 500.4,396.6 500.8,397.3 501.2,399.3 501.6,402.0 502.0,404.5 502.4,402.3 502.8,401.2 503.2,401.1 503.6,399.8 504.0,399.3 504.4,399.7 504.8,402.4 505.2,399.1 505.6,401.8 506.0,401.7 506.4,401.6 506.8,403.1 507.2,403.0 507.6,403.0 508.0,400.9 508.4,397.9 508.8,391.8 509.2,388.7 509.6,383.7 510.0,380.5 510.4,377.0 510.8,374.1 511.2,371.2 511.6,366.1 512.0,365.8 512.4,363.3 512.8,360.6 513.2,359.7 513.6,356.4 514.0,355.0 514.4,351.0 514.8,348.8 515.2,346.5 515.6,346.5 516.0,346.0 516.4,346.0 516.8,345.6 517.2,346.2 517.6,344.6 518.0,344.4 518.4,341.9 518.8,342.7 519.2,341.9 519.6,341.6 520.0,342.1 520.4,341.7 520.8,341.3 521.2,345.2 521.6,344.3 522.0,345.4 522.4,347.5 522.8,347.0 523.2,348.3 523.6,350.5 524.0,350.8 524.4,351.7 524.8,349.7 525.2,351.8 525.6,352.8 526.0,350.9 526.4,350.7 526.8,347.8 527.2,349.3 527.6,350.7 528.0,351.0 528.4,352.4 528.8,354.3 529.2,355.5 529.6,359.9 530.0,362.9 530.4,363.3 530.8,366.1 531.2,366.9 531.6,365.3 532.0,367.5 532.4,367.3 532.8,367.7 533.2,368.3 533.6,368.0 534.0,366.8 534.4,369.4 534.8,369.6 535.2,371.7 535.6,371.8 536.0,370.8 536.4,369.1 536.8,368.8 537.2,370.2 537.6,369.7 538.0,372.8 538.4,371.5 538.8,373.4 539.2,377.4 539.6,375.2 540.0,377.1 540.4,375.6 540.8,375.7 541.2,377.1 541.6,376.1 542.0,377.7 542.4,378.7 542.8,382.5 543.2,383.3 543.6,381.8 544.0,384.2 544.4,385.0 544.8,386.2 545.2,388.5 545.6,388.4 546.0,387.3 546.4,387.5 546.8,388.0 547.2,389.7 547.6,389.6 548.0,390.4 548.4,389.8 548.8,389.3 549.2,388.2 549.6,387.0 550.0,389.4 550.4,389.1 550.8,387.9 551.2,388.8 551.6,388.5 552.0,389.0 552.4,391.2 552.8,390.5 553.2,390.4 553.6,389.2 554.0,387.7 554.4,386.9 554.8,387.0 555.2,390.4 555.6,390.2 556.0,390.7 556.4,391.7 556.8,390.7 557.2,392.9 557.6,394.8 558.0,393.7 558.4,394.1 558.8,392.6 559.2,393.6 559.6,391.0 560.0,388.6 560.4,387.5 560.8,386.4 561.2,386.3 561.6,387.5 562.0,388.6 562.4,389.1 562.8,391.0 563.2,390.9 563.6,393.3 564.0,395.0 564.4,393.8 564.8,393.8 565.2,394.1 565.6,393.2 566.0,391.9 566.4,390.7 566.8,394.4 567.2,395.3 567.6,396.3 568.0,396.1 568.4,394.5 568.8,392.0 569.2,393.5 569.6,392.7 570.0,391.7 570.4,392.0 570.8,392.3 571.2,390.9 571.6,388.7 572.0,390.1 572.4,389.2 572.8,390.2 573.2,390.5 573.6,393.2 574.0,393.2 574.4,392.2 574.8,389.4 575.2,386.6 575.6,389.1 576.0,389.5 576.4,392.6 576.8,393.9 577.2,394.4 577.6,394.3 578.0,390.2 578.4,393.8 578.8,392.8 579.2,393.2 579.6,392.8 580.0,392.5 580.4,393.6 580.8,391.8 581.2,392.9 581.6,390.9 582.0,390.7 582.4,391.9 582.8,390.7 583.2,390.8 583.6,392.2 584.0,394.3 584.4,395.2 584.8,392.8 585.2,392.1 585.6,389.7 586.0,388.0 586.4,390.5 586.8,390.9 587.2,390.6 587.6,388.3 588.0,387.6 588.4,388.5 588.8,391.3 589.2,391.1 589.6,391.4 590.0,388.4 590.4,387.5 590.8,390.2 591.2,390.2 591.6,391.6 592.0,395.0 592.4,393.6 592.8,395.4 593.2,395.6 593.6,395.3 594.0,397.0 594.4,396.4 594.8,394.7 595.2,396.0 595.6,396.0 596.0,397.5 596.4,402.1 596.8,401.2 597.2,402.2 597.6,399.1 598.0,397.4 598.4,398.0 598.8,398.8 599.2,400.5 599.6,399.6 600.0,401.5 600.4,402.0 600.8,403.5 601.2,406.1 601.6,404.4 602.0,402.7 602.4,402.3 602.8,401.9 603.2,399.7 603.6,401.8 604.0,402.4 604.4,402.5 604.8,403.6 605.2,401.9 605.6,400.8 606.0,399.2 606.4,399.3 606.8,398.2 607.2,396.6 607.6,396.1 608.0,397.4 608.4,397.8 608.8,397.3 609.2,394.2 609.6,394.4 610.0,393.9 610.4,394.0 610.8,395.7 611.2,398.2 611.6,399.1 612.0,396.7 612.4,396.9 612.8,394.0 613.2,392.5 613.6,393.5 614.0,393.9 614.4,393.2 614.8,393.5 615.2,394.4 615.6,396.2 616.0,398.2 616.4,396.5 616.8,397.4 617.2,395.3 617.6,396.6 618.0,395.7 618.4,392.8 618.8,392.4 619.2,395.3 619.6,397.0 620.0,397.2 620.4,399.4 620.8,397.1 621.2,399.9 621.6,397.4 622.0,397.5 622.4,394.1 622.8,393.9 623.2,394.2 623.6,394.6 624.0,395.4 624.4,396.7 624.8,395.9 625.2,397.0 625.6,397.4 626.0,395.6 626.4,396.4 626.8,396.2 627.2,394.8 627.6,396.0 628.0,395.9 628.4,398.3 628.8,398.1 629.2,397.9 629.6,399.4 630.0,397.9 630.4,395.5 630.8,393.6 631.2,393.8 631.6,392.1 632.0,392.8 632.4,394.3 632.8,393.7 633.2,393.9 633.6,393.3 634.0,391.1 634.4,390.2 634.8,391.8 635.2,391.2 635.6,390.2 636.0,390.5 636.4,391.3 636.8,393.8 637.2,391.1 637.6,390.2 638.0,391.8 638.4,389.0 638.8,387.8 639.2,389.5 639.6,390.5 640.0,391.0 640.4,394.9 640.8,393.9 641.2,391.0 641.6,392.5 642.0,391.0 642.4,391.9 642.8,394.2 643.2,393.1 643.6,393.4 644.0,393.1 644.4,395.1 644.8,395.5 645.2,394.0 645.6,397.6 646.0,396.3 646.4,398.2 646.8,398.8 647.2,396.9 647.6,397.7 648.0,394.4 648.4,394.9 648.8,395.2 649.2,394.7 649.6,399.1 650.0,397.4 650.4,399.5 650.8,400.4 651.2,400.0 651.6,399.1 652.0,397.0 652.4,396.2 652.8,399.1 653.2,399.9 653.6,399.0 654.0,401.1 654.4,400.5 654.8,400.5 655.2,403.5 655.6,402.4 656.0,402.7 656.4,400.9 656.8,402.6 657.2,402.3 657.6,401.5 658.0,401.8 658.4,401.1 658.8,402.0 659.2,402.0 659.6,399.4 660.0,402.0 660.4,400.0 660.8,402.8 661.2,402.8 661.6,402.9 662.0,405.5 662.4,405.4 662.8,407.1 663.2,405.8 663.6,402.8 664.0,405.0 664.4,402.9 664.8,404.3 665.2,403.1 665.6,402.5 666.0,403.3 666.4,405.1 666.8,404.4 667.2,407.6 667.6,405.6 668.0,406.4 668.4,406.8 668.8,403.8 669.2,403.8 669.6,403.3 670.0,401.4 670.4,402.6 670.8,403.5 671.2,402.4 671.6,402.8 672.0,402.1 672.4,401.3 672.8,403.1 673.2,403.9 673.6,402.7 674.0,402.4 674.4,402.3 674.8,400.4 675.2,400.6 675.6,399.9 676.0,399.3 676.4,397.5"/>
<polyline stroke="#FFC0CB" points="74.5,46.5 74.9,49.5 75.3,54.5 75.7,55.9 76.1,59.3 76.5,66.0 76.9,69.4 77.3,74.2 77.7,81.0 78.1,85.0 78.5,90.0 78.9,94.1 79.3,96.2 79.7,102.0 80.1,105.6 80.5,107.9 80.9,113.1 81.3,118.6 81.7,121.6 82.1,126.1 82.5,129.8 82.9,134.0 83.3,140.9 83.7,144.0 84.1,144.8 84.5,149.6 84.9,147.8 85.3,152.5 85.7,155.5 86.1,157.8 86.5,164.2 86.9,164.6 87.3,168.8 87.7,171.4 88.1,173.0 88.5,175.3 88.9,178.1 89.3,184.0 89.7,187.5 90.1,192.2 90.5,192.2 90.9,193.5 91.3,194.9 91.7,195.6 92.1,196.9 92.5,196.3 92.9,203.3 93.3,206.7 93.7,208.8 94.1,213.9 94.5,213.3 94.9,214.8 95.3,215.6 95.7,217.6 96.1,217.0 96.5,216.7 96.9,219.5 97.3,220.2 97.7,222.9 98.1,225.2 98.5,222.1 98.9,225.9 99.3,226.2 99.7,227.8 100.1,230.4 100.5,229.5 100.9,230.3 101.3,233.5 101.7,235.5 102.1,241.1 102.5,243.1 102.9,246.6 103.3,251.4 103.7,254.8 104.1,259.6 104.5,259.7 104.9,261.2 105.3,262.2 105.7,263.9 106.1,265.4 106.5,265.6 106.9,269.0 107.3,270.5 107.7,271.7 108.1,269.6 108.5,269.9 108.9,274.0 109.3,274.4 109.7,277.6 110.1,278.9 110.5,278.8 110.9,278.2 111.3,278.1 111.7,277.8 112.1,277.1 112.5,279.5 112.9,282.6 113.3,281.8 113.7,281.3 114.1,278.6 114.5,277.6 114.9,279.1 115.3,278.1 115.7,280.3 116.1,278.4 116.5,278.5 116.9,281.4 117.3,283.5 117.7,285.0 118.1,282.7 118.5,281.7 118.9,281.8 119.3,282.4 119.7,282.3 120.1,282.0 120.5,280.9 120.9,281.9 121.3,282.7 121.7,284.2 122.1,284.6 122.5,285.8 122.9,286.0 123.3,284.6 123.7,286.2 124.1,286.2 124.5,288.2 124.9,287.7 125.3,288.9 125.7,289.5 126.1,290.0 126.5,288.0 126.9,288.2 127.3,288.1 127.7,286.8 128.1,287.4 128.5,287.1 128.9,285.6 129.3,285.7 129.7,287.9 130.1,288.5 130.5,289.5 130.9,292.6 131.3,290.8 131.7,289.9 132.1,289.3 132.5,290.6 132.9,289.6 133.3,290.6 133.7,290.9 134.1,292.5 134.5,291.7 134.9,292.0 135.3,294.0 135.7,293.9 136.1,298.6 136.5,296.7 136.9,298.9 137.3,298.7 137.7,298.3 138.1,299.5 138.5,299.4 138.9,300.2 139.3,298.2 139.7,298.9 140.1,299.1 140.5,298.2 140.9,300.8 141.3,299.3 141.7,296.9 142.1,297.4 142.5,296.5 142.9,298.0 143.3,299.0 143.7,299.5 144.1,300.6 144.5,300.8 144.9,301.0 145.3,299.2 145.7,300.1 146.1,299.4 146.5,299.7 146.9,299.8 147.3,300.3 147.7,298.8 148.1,297.4 148.5,294.8 148.9,292.1 149.3,292.1 149.7,293.3 150.1,294.8 150.5,292.2 150.9,294.5 151.3,293.6 151.7,289.8 152.1,293.4 152.5,292.7 152.9,294.3 153.3,298.3 153.7,296.6 154.1,296.1 154.5,297.5 154.9,294.5 155.3,293.5 155.7,294.4 156.1,294.7 156.5,294.8 156.9,296.8 157.3,295.9 157.7,298.0 158.1,294.4 158.5,293.4 158.9,294.0 159.3,294.2 159.7,295.6 160.1,296.0 160.5,294.6 160.9,294.9 161.3,293.6 161.7,294.8 162.1,296.3 162.5,296.9 162.9,297.1 163.3,294.7 163.7,295.3 164.1,293.6 164.5,295.1 164.9,291.7 165.3,294.5 165.7,294.9 166.1,294.3 166.5,294.0 166.9,295.4 167.3,295.1 167.7,295.1 168.1,296.2 168.5,296.4 168.9,295.8 169.3,295.3 169.7,294.3 170.1,292.8 170.5,294.3 170.9,294.1 171.3,295.5 171.7,295.9 172.1,297.7 172.5,297.7 172.9,298.3 173.3,297.5 173.7,297.4 174.1,297.8 174.5,299.3 174.9,298.8 175.3,300.5 175.7,300.1 176.1,302.1 176.5,302.5 176.9,300.7 177.3,302.0 177.7,301.3 178.1,303.4 178.5,304.6 178.9,303.4 179.3,303.9 179.7,304.5 180.1,304.1 180.5,304.5 180.9,304.9 181.3,303.9 181.7,303.4 182.1,306.1 182.5,306.6 182.9,307.4 183.3,305.7 183.7,307.4 184.1,306.3 184.5,307.0 184.9,306.3 185.3,302.5 185.7,304.1 186.1,303.3 186.5,301.9 186.9,302.6 187.3,301.8 187.7,303.3 188.1,305.5 188.5,307.3 188.9,305.8 189.3,303.6 189.7,304.9 190.1,305.6 190.5,306.2 190.9,308.4 191.3,303.9 191.7,303.4 192.1,303.3 192.5,303.0 192.9,303.5 193.3,304.3 193.7,302.2 194.1,299.9 194.5,299.7 194.9,296.6 195.3,297.4 195.7,296.2 196.1,295.6 196.5,297.2 196.9,297.6 197.3,296.8 197.7,294.1 198.1,294.0 198.5,290.5 198.9,293.2 199.3,294.9 199.7,295.4 200.1,294.1 200.5,296.0 200.9,293.2 201.3,293.7 201.7,294.6 202.1,292.9 202.5,294.3 202.9,294.3 203.3,291.5 203.7,292.9 204.1,291.5 204.5,293.0 204.9,293.9 205.3,294.0 205.7,293.6 206.1,294.9 206.5,294.1 206.9,292.3 207.3,292.4 207.7,292.6 208.1,291.7 208.5,292.5 208.9,293.3 209.3,292.3 209.7,296.9 210.1,295.5 210.5,296.4 210.9,296.6 211.3,296.8 211.7,293.2 212.1,293.4 212.5,295.6 212.9,297.5 213.3,300.4 213.7,301.0 214.1,304.1 214.5,305.5 214.9,303.0 215.3,302.7 215.7,300.9 216.1,299.9 216.5,297.3 216.9,299.3 217.3,300.5 217.7,300.6 218.1,302.1 218.5,305.1 218.9,305.2 219.3,305.2 219.7,303.7 220.1,303.3 220.5,304.5 220.9,305.9 221.3,305.0 221.7,307.1 222.1,308.0 222.5,304.5 222.9,304.8 223.3,309.7 223.7,309.7 224.1,310.8 224.5,309.1 224.9,308.0 225.3,306.8 225.7,310.2 226.1,312.6 226.5,310.8 226.9,311.1 227.3,309.8 227.7,306.1 228.1,304.3 228.5,305.5 228.9,304.9 229.3,309.8 229.7,309.3 230.1,310.3 230.5,310.2 230.9,309.8 231.3,309.1 231.7,308.0 232.1,307.1 232.5,307.2 232.9,308.8 233.3,311.3 233.7,310.8 234.1,311.4 234.5,311.1 234.9,309.9 235.3,309.1 235.7,309.7 236.1,309.6 236.5,310.4 236.9,309.7 237.3,310.5 237.7,311.1 238.1,310.6 238.5,313.6 238.9,312.5 239.3,308.9 239.7,310.0 240.1,309.6 240.5,310.0 240.9,312.1 241.3,311.5 241.7,309.3 242.1,308.1 242.5,307.5 242.9,308.1 243.3,308.9 243.7,308.9 244.1,309.1 244.5,307.7 244.9,309.5 245.3,309.8 245.7,308.5 246.1,309.2 246.5,312.8 246.9,311.3 247.3,312.1 247.7,314.3 248.1,312.1 248.5,313.2 248.9,314.1 249.3,314.2 249.7,313.9 250.1,314.3 250.5,313.8 250.9,315.6 251.3,315.6 251.7,316.4 252.1,316.2 252.5,315.0 252.9,315.6 253.3,316.9 253.7,314.5 254.1,313.5 254.5,312.7 254.9,312.7 255.3,314.2 255.7,315.1 256.1,316.9 256.5,317.6 256.9,315.1 257.3,315.1 257.7,315.3 258.1,313.9 258.5,316.3 258.9,313.2 259.3,313.5 259.7,314.0 260.1,316.0 260.5,315.5 260.9,315.2 261.3,313.4 261.7,312.4 262.1,312.2 262.5,312.7 262.9,311.7 263.3,311.3 263.7,310.4 264.1,310.9 264.5,312.4 264.9,310.2 265.3,312.0 265.7,310.0 266.1,307.7 266.5,310.0 266.9,308.2 267.3,309.6 267.7,308.7 268.1,306.6 268.5,306.9 268.9,305.8 269.3,304.3 269.7,304.0 270.1,303.5 270.5,303.9 270.9,305.0 271.3,303.0 271.7,302.9 272.1,302.7 272.5,304.1 272.9,305.0 273.3,305.8 273.7,304.5 274.1,304.4 274.5,303.1 274.9,306.0 275.3,305.1 275.7,303.3 276.1,306.6 276.5,305.1 276.9,307.2 277.3,310.5 277.7,309.2 278.1,310.4 278.5,307.8 278.9,307.3 279.3,305.4 279.7,307.8 280.1,309.1 280.5,312.2 280.9,310.9 281.3,309.4 281.7,310.7 282.1,311.3 282.5,314.5 282.9,315.2 283.3,314.7 283.7,317.9 284.1,317.9 284.5,319.1 284.9,322.1 285.3,321.3 285.7,321.7 286.1,319.9 286.5,321.4 286.9,321.4 287.3,320.4 287.7,321.5 288.1,318.7 288.5,322.3 288.9,322.9 289.3,323.2 289.7,324.1 290.1,322.2 290.5,324.3 290.9,324.7 291.3,324.8 291.7,322.3 292.1,323.8 292.5,323.1 292.9,324.8 293.3,326.7 293.7,326.1 294.1,325.5 294.5,326.6 294.9,326.2 295.3,326.3 295.7,325.6 296.1,328.1 296.5,327.5 296.9,327.1 297.3,327.1 297.7,327.2 298.1,327.8 298.5,328.7 298.9,329.7 299.3,329.0 299.7,331.6 300.1,332.2 300.5,334.0 300.9,334.1 301.3,334.1 301.7,334.6 302.1,333.9 302.5,332.6 302.9,331.5 303.3,331.8 303.7,332.5 304.1,333.2 304.5,332.2 304.9,331.0 305.3,332.8 305.7,332.1 306.1,331.6 306.5,329.6 306.9,330.4 307.3,332.2 307.7,334.8 308.1,335.7 308.5,334.7 308.9,333.8 309.3,336.1 309.7,336.2 310.1,337.2 310.5,338.4 310.9,336.2 311.3,337.1 311.7,337.3 312.1,336.0 312.5,337.3 312.9,337.4 313.3,339.2 313.7,339.2 314.1,340.9 314.5,338.0 314.9,335.1 315.3,333.1 315.7,332.6 316.1,333.6 316.5,336.9 316.9,340.1 317.3,339.2 317.7,342.4 318.1,341.9 318.5,341.9 318.9,341.5 319.3,341.1 319.7,340.1 320.1,339.4 320.5,341.0 320.9,338.4 321.3,340.8 321.7,340.8 322.1,339.7 322.5,342.6 322.9,342.2 323.3,341.5 323.7,341.9 324.1,341.3 324.5,341.4 324.9,343.1 325.3,342.3 325.7,342.9 326.1,342.0 326.5,343.8 326.9,346.1 327.3,344.9 327.7,345.7 328.1,344.3 328.5,343.8 328.9,342.4 329.3,344.2 329.7,343.8 330.1,343.8 330.5,346.3 330.9,346.8 331.3,343.6 331.7,341.7 332.1,344.1 332.5,344.4 332.9,344.5 333.3,346.3 333.7,344.4 334.1,343.9 334.5,346.4 334.9,344.3 335.3,345.3 335.7,346.3 336.1,345.7 336.5,346.1 336.9,343.7 337.3,345.7 337.7,342.7 338.1,341.8 338.5,340.7 338.9,341.2 339.3,342.0 339.7,341.4 340.1,342.2 340.5,341.5 340.9,340.5 341.3,339.9 341.7,340.9 342.1,338.3 342.5,339.1 342.9,339.3 343.3,339.6 343.7,340.8 344.1,339.5 344.5,339.7 344.9,337.9 345.3,337.7 345.7,339.9 346.1,339.6 346.5,339.4 346.9,340.4 347.3,342.0 347.7,341.0 348.1,338.5 348.5,338.1 348.9,339.5 349.3,340.7 349.7,342.5 350.1,341.4 350.5,340.5 350.9,341.4 351.3,341.4 351.7,341.1 352.1,341.2 352.5,341.9 352.9,340.3 353.3,341.3 353.7,343.2 354.1,343.4 354.5,345.4 354.9,346.8 355.3,346.4 355.7,347.5 356.1,347.2 356.5,348.1 356.9,351.0 357.3,350.3 357.7,350.2 358.1,351.3 358.5,348.1 358.9,350.7 359.3,350.5 359.7,353.5 360.1,356.5 360.5,354.8 360.9,353.4 361.3,352.0 361.7,352.7 362.1,351.2 362.5,352.6 362.9,350.7 363.3,350.4 363.7,353.1 364.1,351.6 364.5,351.9 364.9,354.2 365.3,354.0 365.7,353.5 366.1,352.5 366.5,350.1 366.9,351.1 367.3,348.8 367.7,353.8 368.1,355.8 368.5,354.3 368.9,353.8 369.3,354.1 369.7,353.8 370.1,353.1 370.5,353.7 370.9,353.4 371.3,353.5 371.7,350.8 372.1,351.1 372.5,350.9 372.9,353.9 373.3,355.2 373.7,354.9 374.1,355.6 374.5,353.5 374.9,354.1 375.3,353.8 375.7,351.6 376.1,353.5 376.5,352.1 376.9,352.7 377.3,354.4 377.7,353.4 378.1,353.4 378.5,353.4 378.9,354.1 379.3,353.4 379.7,354.3 380.1,353.4 380.5,353.0 380.9,354.1 381.3,354.2 381.7,352.4 382.1,349.9 382.5,350.6 382.9,352.9 383.3,352.0 383.7,351.5 384.1,351.8 384.5,351.8 384.9,352.4 385.3,354.9 385.7,355.2 386.1,353.7 386.5,353.4 386.9,353.9 387.3,351.9 387.7,353.0 388.1,353.1 388.5,352.0 388.9,350.0 389.3,351.4 389.7,353.0 390.1,352.0 390.5,354.0 390.9,354.4 391.3,354.1 391.7,354.8 392.1,351.3 392.5,351.2 392.9,352.7 393.3,351.9 393.7,351.4 394.1,351.3 394.5,350.8 394.9,349.8 395.3,349.8 395.7,350.2 396.1,349.6 396.5,350.5 396.9,348.5 397.3,348.9 397.7,348.9 398.1,347.7 398.5,347.5 398.9,348.9 399.3,347.8 399.7,346.5 400.1,345.0 400.5,346.6 400.9,347.7 401.3,346.6 401.7,346.9 402.1,345.4 402.5,343.9 402.9,343.8 403.3,339.6 403.7,339.5 404.1,339.7 404.5,338.9 404.9,339.8 405.3,340.1 405.7,338.1 406.1,336.5 406.5,336.6 406.9,335.6 407.3,336.9 407.7,335.9 408.1,335.4 408.5,336.2 408.9,334.7 409.3,334.0 409.7,337.3 410.1,335.6 410.5,334.8 410.9,334.3 411.3,333.3 411.7,333.1 412.1,335.5 412.5,337.0 412.9,335.5 413.3,337.1 413.7,336.3 414.1,335.7 414.5,338.3 414.9,338.3 415.3,336.8 415.7,338.2 416.1,338.4 416.5,336.8 416.9,336.1 417.3,337.7 417.7,337.1 418.1,341.4 418.5,342.0 418.9,342.8 419.3,342.5 419.7,341.9 420.1,342.3 420.5,343.1 420.9,340.6 421.3,338.4 421.7,338.7 422.1,340.3 422.5,340.5 422.9,341.2 423.3,340.6 423.7,340.7 424.1,341.7 424.5,341.8 424.9,343.4 425.3,345.1 425.7,344.2 426.1,344.9 426.5,345.7 426.9,345.8 427.3,347.1 427.7,347.3 428.1,348.2 428.5,346.1 428.9,346.8 429.3,343.9 429.7,342.5 430.1,344.0 430.5,344.8 430.9,344.1 431.3,345.0 431.7,347.1 432.1,346.8 432.5,348.7 432.9,346.3 433.3,347.8 433.7,350.4 434.1,349.0 434.5,348.4 434.9,350.3 435.3,348.5 435.7,348.7 436.1,350.1 436.5,351.3 436.9,352.2 437.3,349.9 437.7,349.4 438.1,349.2 438.5,349.9 438.9,352.7 439.3,353.3 439.7,350.9 440.1,350.0 440.5,347.5 440.9,346.6 441.3,347.1 441.7,346.3 442.1,349.1 442.5,348.7 442.9,350.0 443.3,349.8 443.7,348.0 444.1,346.6 444.5,342.4 444.9,344.6 445.3,345.2 445.7,345.3 446.1,346.8 446.5,347.3 446.9,345.1 447.3,344.4 447.7,345.3 448.1,345.9 448.5,344.7 448.9,345.0 449.3,344.6 449.7,343.6 450.1,347.1 450.5,349.3 450.9,350.5 451.3,352.7 451.7,353.0 452.1,353.2 452.5,354.2 452.9,353.0 453.3,351.3 453.7,349.7 454.1,352.8 454.5,351.1 454.9,352.9 455.3,355.5 455.7,354.2 456.1,352.9 456.5,354.3 456.9,355.3 457.3,355.5 457.7,356.0 458.1,354.1 458.5,355.7 458.9,356.2 459.3,355.7 459.7,356.8 460.1,356.9 460.5,358.0 460.9,354.4 461.3,355.8 461.7,356.2 462.1,355.1 462.5,356.7 462.9,354.5 463.3,353.5 463.7,354.9 464.1,357.1 464.5,355.8 464.9,356.9 465.3,358.7 465.7,358.9 466.1,360.8 466.5,361.1 466.9,360.6 467.3,361.1 467.7,358.2 468.1,361.5 468.5,362.8 468.9,364.6 469.3,366.7 469.7,362.8 470.1,361.5 470.5,359.1 470.9,358.9 471.3,362.7 471.7,362.0 472.1,362.4 472.5,362.8 472.9,359.7 473.3,360.2 473.7,360.8 474.1,360.6 474.5,360.9 474.9,361.5 475.3,363.3 475.7,362.4 476.1,366.1 476.5,364.2 476.9,363.4 477.3,363.9 477.7,361.0 478.1,360.4 478.5,362.7 478.9,361.7 479.3,362.3 479.7,362.0 480.1,363.6 480.5,363.5 480.9,362.8 481.3,364.4 481.7,366.5 482.1,362.7 482.5,363.6 482.9,363.3 483.3,363.6 483.7,365.1 484.1,366.5 484.5,367.2 484.9,367.6 485.3,368.8 485.7,368.9 486.1,369.9 486.5,372.1 486.9,371.9 487.3,371.6 487.7,372.3 488.1,371.5 488.5,372.4 488.9,371.5 489.3,370.8 489.7,369.4 490.1,368.7 490.5,369.6 490.9,368.7 491.3,369.9 491.7,368.9 492.1,368.9 492.5,369.9 492.9,368.7 493.3,367.6 493.7,368.1 494.1,368.8 494.5,369.3 494.9,367.6 495.3,370.9 495.7,373.1 496.1,370.5 496.5,373.9 496.9,372.0 497.3,370.0 497.7,370.0 498.1,370.3 498.5,371.5 498.9,373.2 499.3,371.5 499.7,371.7 500.1,371.2 500.5,371.2 500.9,368.8 501.3,370.9 501.7,369.9 502.1,370.1 502.5,371.6 502.9,368.3 503.3,369.8 503.7,369.2 504.1,367.9 504.5,367.1 504.9,366.9 505.3,364.5 505.7,364.4 506.1,365.0 506.5,363.7 506.9,362.6 507.3,361.6 507.7,362.8 508.1,362.4 508.5,366.0 508.9,364.4 509.3,364.8 509.7,365.3 510.1,365.6 510.5,367.4 510.9,367.5 511.3,367.5 511.7,368.3 512.1,368.6 512.5,370.1 512.9,367.4 513.3,369.1 513.7,368.2 514.1,369.7 514.5,369.3 514.9,367.9 515.3,363.7 515.7,363.4 516.1,365.3 516.5,366.6 516.9,368.9 517.3,370.0 517.7,370.7 518.1,370.2 518.5,371.5 518.9,370.4 519.3,370.9 519.7,369.5 520.1,368.7 520.5,369.2 520.9,369.1 521.3,367.7 521.7,370.7 522.1,370.8 522.5,368.5 522.9,367.6 523.3,366.5 523.7,366.8 524.1,367.9 524.5,366.2 524.9,365.2 525.3,367.8 525.7,367.2 526.1,369.4 526.5,370.3 526.9,370.5 527.3,370.1 527.7,369.6 528.1,367.2 528.5,369.9 528.9,369.9 529.3,370.2 529.7,370.7 530.1,370.7 530.5,368.1 530.9,371.0 531.3,370.7 531.7,371.0 532.1,373.4 532.5,371.2 532.9,371.9 533.3,369.5 533.7,369.1 534.1,369.6 534.5,370.7 534.9,370.7 535.3,371.5 535.7,372.6 536.1,371.3 536.5,369.6 536.9,368.7 537.3,366.2 537.7,367.3 538.1,368.9 538.5,369.3 538.9,367.6 539.3,370.0 539.7,371.6 540.1,369.6 540.5,369.5 540.9,369.7 541.3,370.5 541.7,368.3 542.1,368.5 542.5,365.4 542.9,364.7 543.3,364.1 543.7,364.5 544.1,366.4 544.5,368.2 544.9,367.0 545.3,368.1 545.7,369.8 546.1,369.8 546.5,371.8 546.9,372.4 547.3,372.7 547.7,370.0 548.1,370.4 548.5,371.1 548.9,367.8 549.3,372.6 549.7,367.9 550.1,368.9 550.5,370.9 550.9,370.8 551.3,373.0 551.7,371.4 552.1,372.4 552.5,371.5 552.9,371.6 553.3,374.0 553.7,374.7 554.1,374.4 554.5,375.4 554.9,375.6 555.3,372.4 555.7,374.6 556.1,375.7 556.5,376.3 556.9,377.1 557.3,375.9 557.7,378.3 558.1,376.8 558.5,378.7 558.9,378.1 559.3,378.6 559.7,379.8 560.1,378.6 560.5,379.4 560.9,378.6 561.3,376.4 561.7,378.0 562.1,377.3 562.5,381.1 562.9,382.2 563.3,379.0 563.7,380.9 564.1,381.3 564.5,380.3 564.9,383.1 565.3,383.0 565.7,384.5 566.1,384.3 566.5,383.8 566.9,384.5 567.3,383.8 567.7,383.3 568.1,385.3 568.5,386.4 568.9,384.9 569.3,386.0 569.7,385.2 570.1,386.5 570.5,385.4 570.9,385.9 571.3,384.6 571.7,382.9 572.1,382.5 572.5,381.2 572.9,381.3 573.3,381.1 573.7,381.8 574.1,381.7 574.5,381.2 574.9,380.7 575.3,380.0 575.7,379.9 576.1,379.4 576.5,379.2 576.9,379.1 577.3,377.4 577.7,376.8 578.1,376.2 578.5,378.0 578.9,378.7 579.3,378.9 579.7,378.3 580.1,376.9 580.5,377.8 580.9,375.5 581.3,375.3 581.7,376.2 582.1,373.1 582.5,374.9 582.9,375.3 583.3,374.5 583.7,373.1 584.1,376.0 584.5,376.4 584.9,376.1 585.3,377.8 585.7,378.0 586.1,379.1 586.5,381.5 586.9,379.9 587.3,381.5 587.7,377.7 588.1,376.6 588.5,375.8 588.9,374.2 589.3,378.0 589.7,377.2 590.1,379.2 590.5,377.5 590.9,375.1 591.3,378.6 591.7,380.2 592.1,383.3 592.5,386.1 592.9,383.5 593.3,383.0 593.7,382.1 594.1,380.7 594.5,381.1 594.9,382.3 595.3,379.1 595.7,380.4 596.1,380.4 596.5,379.4 596.9,380.2 597.3,379.8 597.7,380.5 598.1,379.4 598.5,381.3 598.9,377.6 599.3,380.0 599.7,379.9 600.1,379.4 600.5,376.6 600.9,376.5 601.3,376.5 601.7,375.1 602.1,375.4 602.5,373.7 602.9,375.5 603.3,372.3 603.7,373.1 604.1,371.0 604.5,371.0 604.9,372.1 605.3,369.8 605.7,370.1 606.1,368.9 606.5,370.8 606.9,371.3 607.3,371.6 607.7,370.0 608.1,371.1 608.5,371.4 608.9,371.8 609.3,370.5 609.7,370.0 610.1,372.2 610.5,372.9 610.9,375.4 611.3,376.6 611.7,376.9 612.1,378.5 612.5,377.2 612.9,377.8 613.3,375.2 613.7,375.1 614.1,375.9 614.5,374.5 614.9,374.4 615.3,373.1 615.7,373.9 616.1,374.3 616.5,374.8 616.9,373.0 617.3,370.5 617.7,368.2 618.1,369.4 618.5,368.4 618.9,370.5 619.3,367.3 619.7,366.7 620.1,364.9 620.5,365.1 620.9,366.2 621.3,367.9 621.7,365.7 622.1,364.7 622.5,365.4 622.9,362.5 623.3,361.0 623.7,362.1 624.1,358.4 624.5,360.0 624.9,360.6 625.3,357.5 625.7,357.9 626.1,356.0 626.5,355.5 626.9,355.2 627.3,354.4 627.7,354.6 628.1,354.4 628.5,354.4 628.9,353.1 629.3,355.3 629.7,356.8 630.1,353.7 630.5,352.4 630.9,351.5 631.3,352.8 631.7,353.2 632.1,352.6 632.5,351.9 632.9,348.3 633.3,347.1 633.7,346.8 634.1,347.2 634.5,347.0 634.9,346.2 635.3,346.8 635.7,347.9 636.1,346.8 636.5,352.2 636.9,352.8 637.3,356.3 637.7,354.1 638.1,356.5 638.5,357.5 638.9,357.1 639.3,358.8 639.7,358.4 640.1,357.5 640.5,355.5 640.9,359.6 641.3,358.8 641.7,362.5 642.1,363.4 642.5,364.4 642.9,364.7 643.3,366.5 643.7,365.0 644.1,365.9 644.5,365.0 644.9,363.3 645.3,363.2 645.7,364.4 646.1,368.0 646.5,372.4 646.9,371.6 647.3,370.9 647.7,369.4 648.1,369.0 648.5,372.1 648.9,373.5 649.3,374.6 649.7,373.1 650.1,369.5 650.5,370.7 650.9,374.2 651.3,375.8 651.7,377.0 652.1,376.8 652.5,376.7 652.9,376.3 653.3,376.3 653.7,375.6 654.1,375.5 654.5,374.3 654.9,372.9 655.3,372.0 655.7,370.8 656.1,370.6 656.5,372.8 656.9,372.2 657.3,372.4 657.7,376.3 658.1,377.0 658.5,375.2 658.9,374.2 659.3,371.8 659.7,373.1 660.1,371.2 660.5,370.1 660.9,370.3 661.3,367.3 661.7,368.4 662.1,369.4 662.5,371.8 662.9,369.9 663.3,370.0 663.7,368.4 664.1,370.2 664.5,371.0 664.9,371.8 665.3,372.4 665.7,372.0 666.1,371.3 666.5,369.6 666.9,369.2 667.3,368.2 667.7,369.8 668.1,370.8 668.5,372.5 668.9,373.2 669.3,372.2 669.7,374.6 670.1,374.6 670.5,375.2 670.9,374.9 671.3,374.3 671.7,374.2 672.1,375.2 672.5,376.0 672.9,375.3 673.3,377.6 673.7,378.1 674.1,378.9 674.5,378.4 674.9,374.8 675.3,375.3 675.7,375.7 676.1,375.0 676.5,375.7"/>
</g>
<rect x="74.0" y="3.9" width="602.8" height="440.1" fill="none" stroke="#000" stroke-width="1.5"/>
<g stroke="#000" stroke-width="1.5"><line x1="74.0" y1="444.0" x2="74.0" y2="449.5"/><line x1="193.6" y1="444.0" x2="193.6" y2="449.5"/><line x1="314.5" y1="444.0" x2="314.5" y2="449.5"/><line x1="435.4" y1="444.0" x2="435.4" y2="449.5"/><line x1="556.2" y1="444.0" x2="556.2" y2="449.5"/><line x1="676.8" y1="444.0" x2="676.8" y2="449.5"/><line x1="68.5" y1="396.2" x2="74.0" y2="396.2"/><line x1="68.5" y1="316.0" x2="74.0" y2="316.0"/><line x1="68.5" y1="235.9" x2="74.0" y2="235.9"/><line x1="68.5" y1="155.0" x2="74.0" y2="155.0"/><line x1="68.5" y1="74.4" x2="74.0" y2="74.4"/></g>
<text x="73.0" y="469.3" font-size="20" text-anchor="middle">0</text>
<text x="194.8" y="469.3" font-size="20" text-anchor="middle">1</text>
<text x="314.5" y="469.3" font-size="20" text-anchor="middle">2</text>
<text x="435.1" y="469.3" font-size="20" text-anchor="middle">3</text>
<text x="556.2" y="469.3" font-size="20" text-anchor="middle">4</text>
<text x="676.8" y="469.3" font-size="20" text-anchor="middle">5</text>
<text x="61.6" y="403.3" font-size="20" text-anchor="end" textLength="27.5" lengthAdjust="spacingAndGlyphs">0.4</text>
<text x="61.6" y="323.1" font-size="20" text-anchor="end" textLength="27.5" lengthAdjust="spacingAndGlyphs">0.5</text>
<text x="61.6" y="243.0" font-size="20" text-anchor="end" textLength="27.5" lengthAdjust="spacingAndGlyphs">0.6</text>
<text x="61.6" y="162.1" font-size="20" text-anchor="end" textLength="27.5" lengthAdjust="spacingAndGlyphs">0.7</text>
<text x="61.6" y="81.5" font-size="20" text-anchor="end" textLength="27.5" lengthAdjust="spacingAndGlyphs">0.8</text>
<text x="375.5" y="497" font-size="21.5" text-anchor="middle" textLength="64.2" lengthAdjust="spacingAndGlyphs">Epoch</text>
<text transform="translate(21.7,224.2) rotate(-90)" font-size="21.5" text-anchor="middle" textLength="164.2" lengthAdjust="spacingAndGlyphs">Smoothed Loss</text>
<rect x="497.3" y="12.9" width="169.3" height="209.7" rx="3.5" fill="#fff" fill-opacity="0.8" stroke="#d0d0d0" stroke-width="1.3"/>
<line x1="504" y1="29.1" x2="542" y2="29.1" stroke="#FFA500" stroke-width="2"/>
<text x="556.5" y="35.6" font-size="19.5" textLength="75.0" lengthAdjust="spacingAndGlyphs">SegRNN</text>
<line x1="504" y1="58.2" x2="542" y2="58.2" stroke="#0000FF" stroke-width="2"/>
<text x="556.5" y="64.7" font-size="19.5" textLength="88.0" lengthAdjust="spacingAndGlyphs">QSegRNN</text>
<line x1="504" y1="87.2" x2="542" y2="87.2" stroke="#008000" stroke-width="2"/>
<text x="556.5" y="93.7" font-size="19.5" textLength="83.8" lengthAdjust="spacingAndGlyphs">PatchTST</text>
<line x1="504" y1="116.2" x2="542" y2="116.2" stroke="#FF0000" stroke-width="2"/>
<text x="556.5" y="122.8" font-size="19.5" textLength="101.3" lengthAdjust="spacingAndGlyphs">FEDdormer</text>
<line x1="504" y1="145.3" x2="542" y2="145.3" stroke="#800080" stroke-width="2"/>
<text x="556.5" y="151.8" font-size="19.5" textLength="77.7" lengthAdjust="spacingAndGlyphs">Informer</text>
<line x1="504" y1="174.3" x2="542" y2="174.3" stroke="#A52A2A" stroke-width="2"/>
<text x="556.5" y="180.8" font-size="19.5" textLength="65.5" lengthAdjust="spacingAndGlyphs">Dlinear</text>
<line x1="504" y1="203.4" x2="542" y2="203.4" stroke="#FFC0CB" stroke-width="2"/>
<text x="556.5" y="209.9" font-size="19.5" textLength="46.8" lengthAdjust="spacingAndGlyphs">MICN</text>
</svg></body></html>
